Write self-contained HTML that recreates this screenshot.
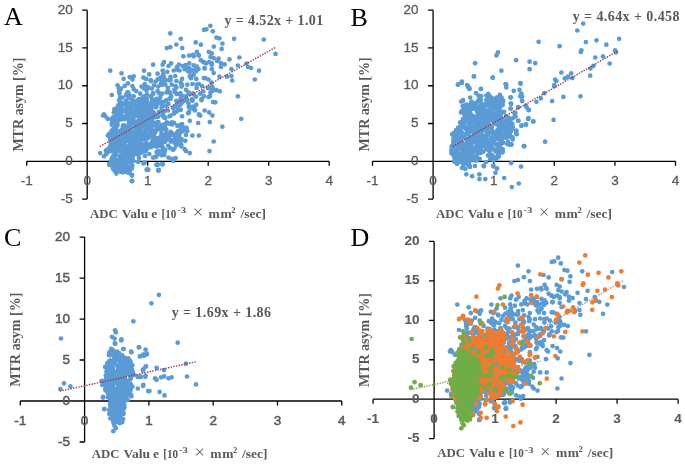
<!DOCTYPE html>
<html><head><meta charset="utf-8"><style>
html,body{margin:0;padding:0;background:#fff;}
svg{display:block;filter:blur(0.3px);}
.t{font-family:"Liberation Sans",sans-serif;font-size:13.5px;fill:#595959;stroke:#595959;stroke-width:0.3px;}
.tb{font-weight:bold;stroke-width:0.1px;}
.tc{stroke-width:0.5px;}
.s{font-family:"Liberation Serif",serif;font-weight:bold;font-size:13px;fill:#595959;}
.xs{font-size:13.5px;}
.L{font-family:"Liberation Serif",serif;font-size:26px;fill:#000;}
</style></head><body>
<svg width="685" height="465" viewBox="0 0 685 465">
<path d="M26.70,161.30H329.20M87.20,10.18V199.08M26.70,161.30v4.5M87.20,161.30v4.5M147.70,161.30v4.5M208.20,161.30v4.5M268.70,161.30v4.5M329.20,161.30v4.5M87.20,199.08h-5M87.20,161.30h-5M87.20,123.52h-5M87.20,85.74h-5M87.20,47.96h-5M87.20,10.18h-5" stroke="#000" stroke-width="1.3" fill="none"/>
<text x="26.7" y="184.8" class="t" text-anchor="middle">-1</text>
<text x="87.2" y="184.8" class="t" text-anchor="middle">0</text>
<text x="147.7" y="184.8" class="t" text-anchor="middle">1</text>
<text x="208.2" y="184.8" class="t" text-anchor="middle">2</text>
<text x="268.7" y="184.8" class="t" text-anchor="middle">3</text>
<text x="329.2" y="184.8" class="t" text-anchor="middle">4</text>
<text x="72.7" y="202.7" class="t" text-anchor="end">-5</text>
<text x="72.7" y="164.9" class="t" text-anchor="end">0</text>
<text x="72.7" y="127.1" class="t" text-anchor="end">5</text>
<text x="72.7" y="89.3" class="t" text-anchor="end">10</text>
<text x="72.7" y="51.6" class="t" text-anchor="end">15</text>
<text x="72.7" y="13.8" class="t" text-anchor="end">20</text>
<path d="M372.50,161.30H675.50M433.10,10.18V199.08M372.50,161.30v4.5M433.10,161.30v4.5M493.70,161.30v4.5M554.30,161.30v4.5M614.90,161.30v4.5M675.50,161.30v4.5M433.10,199.08h-5M433.10,161.30h-5M433.10,123.52h-5M433.10,85.74h-5M433.10,47.96h-5M433.10,10.18h-5" stroke="#000" stroke-width="1.3" fill="none"/>
<text x="372.5" y="184.8" class="t" text-anchor="middle">-1</text>
<text x="433.1" y="184.8" class="t" text-anchor="middle">0</text>
<text x="493.7" y="184.8" class="t" text-anchor="middle">1</text>
<text x="554.3" y="184.8" class="t" text-anchor="middle">2</text>
<text x="614.9" y="184.8" class="t" text-anchor="middle">3</text>
<text x="675.5" y="184.8" class="t" text-anchor="middle">4</text>
<text x="418.6" y="202.7" class="t" text-anchor="end">-5</text>
<text x="418.6" y="164.9" class="t" text-anchor="end">0</text>
<text x="418.6" y="127.1" class="t" text-anchor="end">5</text>
<text x="418.6" y="89.3" class="t" text-anchor="end">10</text>
<text x="418.6" y="51.6" class="t" text-anchor="end">15</text>
<text x="418.6" y="13.8" class="t" text-anchor="end">20</text>
<path d="M20.30,401.00H341.80M84.60,237.08V441.98M20.30,401.00v4.5M84.60,401.00v4.5M148.90,401.00v4.5M213.20,401.00v4.5M277.50,401.00v4.5M341.80,401.00v4.5M84.60,441.98h-5M84.60,401.00h-5M84.60,360.02h-5M84.60,319.04h-5M84.60,278.06h-5M84.60,237.08h-5" stroke="#000" stroke-width="1.3" fill="none"/>
<text x="20.3" y="424.5" class="t tc" text-anchor="middle">-1</text>
<text x="84.6" y="424.5" class="t tc" text-anchor="middle">0</text>
<text x="148.9" y="424.5" class="t tc" text-anchor="middle">1</text>
<text x="213.2" y="424.5" class="t tc" text-anchor="middle">2</text>
<text x="277.5" y="424.5" class="t tc" text-anchor="middle">3</text>
<text x="341.8" y="424.5" class="t tc" text-anchor="middle">4</text>
<text x="70.1" y="445.6" class="t tc" text-anchor="end">-5</text>
<text x="70.1" y="404.6" class="t tc" text-anchor="end">0</text>
<text x="70.1" y="363.6" class="t tc" text-anchor="end">5</text>
<text x="70.1" y="322.6" class="t tc" text-anchor="end">10</text>
<text x="70.1" y="281.7" class="t tc" text-anchor="end">15</text>
<text x="70.1" y="240.7" class="t tc" text-anchor="end">20</text>
<path d="M373.10,399.20H678.10M434.10,241.36V438.66M373.10,399.20v4.5M434.10,399.20v4.5M495.10,399.20v4.5M556.10,399.20v4.5M617.10,399.20v4.5M678.10,399.20v4.5M434.10,438.66h-5M434.10,399.20h-5M434.10,359.74h-5M434.10,320.28h-5M434.10,280.82h-5M434.10,241.36h-5" stroke="#000" stroke-width="1.3" fill="none"/>
<text x="373.1" y="422.7" class="t tb" text-anchor="middle">-1</text>
<text x="434.1" y="422.7" class="t tb" text-anchor="middle">0</text>
<text x="495.1" y="422.7" class="t tb" text-anchor="middle">1</text>
<text x="556.1" y="422.7" class="t tb" text-anchor="middle">2</text>
<text x="617.1" y="422.7" class="t tb" text-anchor="middle">3</text>
<text x="678.1" y="422.7" class="t tb" text-anchor="middle">4</text>
<text x="419.6" y="442.3" class="t tb" text-anchor="end">-5</text>
<text x="419.6" y="402.8" class="t tb" text-anchor="end">0</text>
<text x="419.6" y="363.3" class="t tb" text-anchor="end">5</text>
<text x="419.6" y="323.9" class="t tb" text-anchor="end">10</text>
<text x="419.6" y="284.4" class="t tb" text-anchor="end">15</text>
<text x="419.6" y="245.0" class="t tb" text-anchor="end">20</text>
<line x1="446.91" y1="383.74" x2="623.81" y2="280.29" stroke="#9A9A9A" stroke-width="1.4" stroke-dasharray="1.4 1.3"/>
<line x1="410.55" y1="389.67" x2="540.67" y2="361.22" stroke="#70AD47" stroke-width="1.4" stroke-dasharray="1.4 1.3"/>
<g fill="#5B9BD5"><circle cx="177.8" cy="102.1" r="2.35"/><circle cx="189.0" cy="111.8" r="2.35"/><circle cx="208.6" cy="97.0" r="2.35"/><circle cx="204.5" cy="68.1" r="2.35"/><circle cx="163.0" cy="75.3" r="2.35"/><circle cx="170.2" cy="93.0" r="2.35"/><circle cx="191.5" cy="70.6" r="2.35"/><circle cx="194.5" cy="69.5" r="2.35"/><circle cx="177.3" cy="68.8" r="2.35"/><circle cx="169.8" cy="98.6" r="2.35"/><circle cx="203.8" cy="78.1" r="2.35"/><circle cx="146.9" cy="94.6" r="2.35"/><circle cx="196.6" cy="88.0" r="2.35"/><circle cx="148.3" cy="88.0" r="2.35"/><circle cx="185.6" cy="65.1" r="2.35"/><circle cx="211.6" cy="63.2" r="2.35"/><circle cx="190.0" cy="107.6" r="2.35"/><circle cx="153.2" cy="93.2" r="2.35"/><circle cx="151.1" cy="81.2" r="2.35"/><circle cx="168.4" cy="103.9" r="2.35"/><circle cx="194.5" cy="108.4" r="2.35"/><circle cx="176.6" cy="111.6" r="2.35"/><circle cx="170.3" cy="78.9" r="2.35"/><circle cx="212.7" cy="90.8" r="2.35"/><circle cx="175.0" cy="106.6" r="2.35"/><circle cx="161.7" cy="84.8" r="2.35"/><circle cx="121.1" cy="88.7" r="2.35"/><circle cx="198.5" cy="69.1" r="2.35"/><circle cx="188.2" cy="113.3" r="2.35"/><circle cx="178.5" cy="104.6" r="2.35"/><circle cx="146.3" cy="86.5" r="2.35"/><circle cx="211.7" cy="86.5" r="2.35"/><circle cx="164.9" cy="101.4" r="2.35"/><circle cx="164.0" cy="77.7" r="2.35"/><circle cx="210.1" cy="95.9" r="2.35"/><circle cx="165.9" cy="80.3" r="2.35"/><circle cx="193.1" cy="108.8" r="2.35"/><circle cx="152.7" cy="104.4" r="2.35"/><circle cx="192.4" cy="99.5" r="2.35"/><circle cx="181.7" cy="103.0" r="2.35"/><circle cx="152.9" cy="100.0" r="2.35"/><circle cx="145.0" cy="88.2" r="2.35"/><circle cx="191.9" cy="99.3" r="2.35"/><circle cx="180.4" cy="93.4" r="2.35"/><circle cx="119.1" cy="91.5" r="2.35"/><circle cx="142.1" cy="98.3" r="2.35"/><circle cx="162.4" cy="106.1" r="2.35"/><circle cx="180.2" cy="105.1" r="2.35"/><circle cx="151.4" cy="96.8" r="2.35"/><circle cx="188.8" cy="106.7" r="2.35"/><circle cx="201.5" cy="99.2" r="2.35"/><circle cx="167.7" cy="90.6" r="2.35"/><circle cx="208.0" cy="87.8" r="2.35"/><circle cx="184.4" cy="100.9" r="2.35"/><circle cx="188.1" cy="71.3" r="2.35"/><circle cx="192.9" cy="93.4" r="2.35"/><circle cx="181.9" cy="84.7" r="2.35"/><circle cx="177.9" cy="103.8" r="2.35"/><circle cx="179.1" cy="100.9" r="2.35"/><circle cx="160.3" cy="97.1" r="2.35"/><circle cx="139.0" cy="99.0" r="2.35"/><circle cx="163.3" cy="74.2" r="2.35"/><circle cx="162.7" cy="82.5" r="2.35"/><circle cx="176.7" cy="93.9" r="2.35"/><circle cx="144.7" cy="84.1" r="2.35"/><circle cx="176.9" cy="67.1" r="2.35"/><circle cx="170.3" cy="80.3" r="2.35"/><circle cx="173.8" cy="113.7" r="2.35"/><circle cx="196.6" cy="84.6" r="2.35"/><circle cx="196.0" cy="96.7" r="2.35"/><circle cx="175.2" cy="92.4" r="2.35"/><circle cx="176.4" cy="81.0" r="2.35"/><circle cx="203.8" cy="62.1" r="2.35"/><circle cx="128.4" cy="92.6" r="2.35"/><circle cx="177.1" cy="69.6" r="2.35"/><circle cx="178.4" cy="110.1" r="2.35"/><circle cx="154.1" cy="85.3" r="2.35"/><circle cx="211.4" cy="82.5" r="2.35"/><circle cx="175.2" cy="76.0" r="2.35"/><circle cx="212.2" cy="88.8" r="2.35"/><circle cx="157.9" cy="79.2" r="2.35"/><circle cx="212.5" cy="88.6" r="2.35"/><circle cx="145.5" cy="87.8" r="2.35"/><circle cx="129.7" cy="95.6" r="2.35"/><circle cx="160.6" cy="77.8" r="2.35"/><circle cx="193.0" cy="106.6" r="2.35"/><circle cx="119.3" cy="90.8" r="2.35"/><circle cx="193.1" cy="75.3" r="2.35"/><circle cx="176.4" cy="87.6" r="2.35"/><circle cx="179.9" cy="94.6" r="2.35"/><circle cx="189.4" cy="68.4" r="2.35"/><circle cx="191.0" cy="78.2" r="2.35"/><circle cx="169.2" cy="80.2" r="2.35"/><circle cx="146.5" cy="90.6" r="2.35"/><circle cx="162.6" cy="81.5" r="2.35"/><circle cx="189.5" cy="93.9" r="2.35"/><circle cx="161.7" cy="111.5" r="2.35"/><circle cx="203.2" cy="91.5" r="2.35"/><circle cx="159.1" cy="93.1" r="2.35"/><circle cx="186.0" cy="96.1" r="2.35"/><circle cx="164.3" cy="111.2" r="2.35"/><circle cx="159.0" cy="151.1" r="2.35"/><circle cx="177.7" cy="125.9" r="2.35"/><circle cx="169.7" cy="134.1" r="2.35"/><circle cx="174.4" cy="148.6" r="2.35"/><circle cx="157.8" cy="116.2" r="2.35"/><circle cx="179.8" cy="133.4" r="2.35"/><circle cx="168.2" cy="145.7" r="2.35"/><circle cx="161.8" cy="155.3" r="2.35"/><circle cx="155.8" cy="138.1" r="2.35"/><circle cx="182.9" cy="131.2" r="2.35"/><circle cx="161.4" cy="133.0" r="2.35"/><circle cx="155.9" cy="124.4" r="2.35"/><circle cx="168.0" cy="136.1" r="2.35"/><circle cx="161.9" cy="124.8" r="2.35"/><circle cx="161.5" cy="134.6" r="2.35"/><circle cx="163.6" cy="115.9" r="2.35"/><circle cx="179.9" cy="138.7" r="2.35"/><circle cx="174.1" cy="122.9" r="2.35"/><circle cx="158.6" cy="129.2" r="2.35"/><circle cx="176.4" cy="145.3" r="2.35"/><circle cx="179.7" cy="143.6" r="2.35"/><circle cx="164.0" cy="140.0" r="2.35"/><circle cx="170.0" cy="140.1" r="2.35"/><circle cx="156.0" cy="125.3" r="2.35"/><circle cx="178.7" cy="132.6" r="2.35"/><circle cx="160.1" cy="138.4" r="2.35"/><circle cx="175.9" cy="143.7" r="2.35"/><circle cx="166.1" cy="133.7" r="2.35"/><circle cx="170.1" cy="148.2" r="2.35"/><circle cx="170.5" cy="131.8" r="2.35"/><circle cx="169.5" cy="116.3" r="2.35"/><circle cx="156.3" cy="145.0" r="2.35"/><circle cx="166.7" cy="122.3" r="2.35"/><circle cx="177.9" cy="138.0" r="2.35"/><circle cx="180.6" cy="124.9" r="2.35"/><circle cx="172.2" cy="134.6" r="2.35"/><circle cx="163.0" cy="138.3" r="2.35"/><circle cx="181.3" cy="146.5" r="2.35"/><circle cx="179.0" cy="137.1" r="2.35"/><circle cx="171.7" cy="133.2" r="2.35"/><circle cx="156.7" cy="152.1" r="2.35"/><circle cx="171.9" cy="123.5" r="2.35"/><circle cx="170.0" cy="135.7" r="2.35"/><circle cx="165.6" cy="129.7" r="2.35"/><circle cx="171.0" cy="141.6" r="2.35"/><circle cx="173.2" cy="134.5" r="2.35"/><circle cx="155.8" cy="124.8" r="2.35"/><circle cx="160.3" cy="139.9" r="2.35"/><circle cx="162.6" cy="150.9" r="2.35"/><circle cx="155.5" cy="115.6" r="2.35"/><circle cx="177.4" cy="125.6" r="2.35"/><circle cx="158.3" cy="141.6" r="2.35"/><circle cx="165.2" cy="118.0" r="2.35"/><circle cx="159.7" cy="137.5" r="2.35"/><circle cx="160.0" cy="126.6" r="2.35"/><circle cx="176.1" cy="134.4" r="2.35"/><circle cx="164.6" cy="135.2" r="2.35"/><circle cx="155.7" cy="131.5" r="2.35"/><circle cx="167.5" cy="123.0" r="2.35"/><circle cx="158.2" cy="153.3" r="2.35"/><circle cx="170.2" cy="123.9" r="2.35"/><circle cx="173.0" cy="149.8" r="2.35"/><circle cx="155.6" cy="115.8" r="2.35"/><circle cx="159.3" cy="145.6" r="2.35"/><circle cx="159.8" cy="145.0" r="2.35"/><circle cx="175.1" cy="138.2" r="2.35"/><circle cx="178.7" cy="137.0" r="2.35"/><circle cx="161.6" cy="142.6" r="2.35"/><circle cx="166.7" cy="139.5" r="2.35"/><circle cx="164.5" cy="141.9" r="2.35"/><circle cx="156.7" cy="127.7" r="2.35"/><circle cx="164.1" cy="151.6" r="2.35"/><circle cx="164.2" cy="155.0" r="2.35"/><circle cx="177.1" cy="132.7" r="2.35"/><circle cx="162.5" cy="115.4" r="2.35"/><circle cx="171.9" cy="122.3" r="2.35"/><circle cx="175.9" cy="136.7" r="2.35"/><circle cx="166.2" cy="129.8" r="2.35"/><circle cx="161.1" cy="143.7" r="2.35"/><circle cx="167.9" cy="123.3" r="2.35"/><circle cx="158.1" cy="143.4" r="2.35"/><circle cx="163.8" cy="136.3" r="2.35"/><circle cx="164.7" cy="152.1" r="2.35"/><circle cx="161.0" cy="129.0" r="2.35"/><circle cx="165.1" cy="124.1" r="2.35"/><circle cx="182.7" cy="129.6" r="2.35"/><circle cx="181.2" cy="144.3" r="2.35"/><circle cx="162.0" cy="145.9" r="2.35"/><circle cx="157.5" cy="122.2" r="2.35"/><circle cx="182.1" cy="124.1" r="2.35"/><circle cx="177.5" cy="140.6" r="2.35"/><circle cx="180.0" cy="130.7" r="2.35"/><circle cx="165.1" cy="127.4" r="2.35"/><circle cx="180.8" cy="140.7" r="2.35"/><circle cx="159.0" cy="138.5" r="2.35"/><circle cx="158.1" cy="116.7" r="2.35"/><circle cx="157.2" cy="151.9" r="2.35"/><circle cx="165.1" cy="141.2" r="2.35"/><circle cx="178.2" cy="131.1" r="2.35"/><circle cx="172.0" cy="124.5" r="2.35"/><circle cx="157.4" cy="126.4" r="2.35"/><circle cx="181.5" cy="139.0" r="2.35"/><circle cx="163.2" cy="148.5" r="2.35"/><circle cx="158.4" cy="152.7" r="2.35"/><circle cx="156.2" cy="125.2" r="2.35"/><circle cx="158.4" cy="122.1" r="2.35"/><circle cx="162.2" cy="146.7" r="2.35"/><circle cx="158.1" cy="153.8" r="2.35"/><circle cx="182.0" cy="127.5" r="2.35"/><circle cx="162.5" cy="135.3" r="2.35"/><circle cx="158.0" cy="142.8" r="2.35"/><circle cx="156.2" cy="115.4" r="2.35"/><circle cx="184.2" cy="127.6" r="2.35"/><circle cx="172.7" cy="134.2" r="2.35"/><circle cx="164.3" cy="117.7" r="2.35"/><circle cx="161.4" cy="141.3" r="2.35"/><circle cx="175.4" cy="143.2" r="2.35"/><circle cx="162.7" cy="138.1" r="2.35"/><circle cx="164.1" cy="125.5" r="2.35"/><circle cx="157.4" cy="127.0" r="2.35"/><circle cx="174.4" cy="142.4" r="2.35"/><circle cx="164.1" cy="128.9" r="2.35"/><circle cx="164.4" cy="151.1" r="2.35"/><circle cx="181.5" cy="127.9" r="2.35"/><circle cx="164.9" cy="138.2" r="2.35"/><circle cx="172.2" cy="140.4" r="2.35"/><circle cx="140.5" cy="121.4" r="2.35"/><circle cx="137.1" cy="144.5" r="2.35"/><circle cx="135.8" cy="109.8" r="2.35"/><circle cx="127.8" cy="128.0" r="2.35"/><circle cx="155.3" cy="139.7" r="2.35"/><circle cx="119.1" cy="100.3" r="2.35"/><circle cx="129.6" cy="122.2" r="2.35"/><circle cx="125.1" cy="166.6" r="2.35"/><circle cx="132.8" cy="140.9" r="2.35"/><circle cx="112.2" cy="137.0" r="2.35"/><circle cx="114.6" cy="166.8" r="2.35"/><circle cx="146.8" cy="124.9" r="2.35"/><circle cx="113.5" cy="155.9" r="2.35"/><circle cx="142.9" cy="133.3" r="2.35"/><circle cx="133.1" cy="135.5" r="2.35"/><circle cx="154.0" cy="136.3" r="2.35"/><circle cx="149.1" cy="124.9" r="2.35"/><circle cx="129.4" cy="141.5" r="2.35"/><circle cx="130.7" cy="114.7" r="2.35"/><circle cx="122.1" cy="151.7" r="2.35"/><circle cx="113.7" cy="167.9" r="2.35"/><circle cx="119.1" cy="168.1" r="2.35"/><circle cx="121.3" cy="171.7" r="2.35"/><circle cx="142.4" cy="136.6" r="2.35"/><circle cx="132.4" cy="148.0" r="2.35"/><circle cx="136.1" cy="121.7" r="2.35"/><circle cx="115.9" cy="137.2" r="2.35"/><circle cx="154.5" cy="145.8" r="2.35"/><circle cx="153.1" cy="112.3" r="2.35"/><circle cx="144.4" cy="102.1" r="2.35"/><circle cx="139.6" cy="118.7" r="2.35"/><circle cx="116.9" cy="165.4" r="2.35"/><circle cx="117.9" cy="113.8" r="2.35"/><circle cx="151.7" cy="130.3" r="2.35"/><circle cx="143.0" cy="100.0" r="2.35"/><circle cx="114.0" cy="149.6" r="2.35"/><circle cx="106.2" cy="154.0" r="2.35"/><circle cx="118.5" cy="160.5" r="2.35"/><circle cx="123.2" cy="145.2" r="2.35"/><circle cx="144.3" cy="106.3" r="2.35"/><circle cx="130.0" cy="115.0" r="2.35"/><circle cx="140.0" cy="122.0" r="2.35"/><circle cx="111.7" cy="142.8" r="2.35"/><circle cx="125.8" cy="137.4" r="2.35"/><circle cx="137.1" cy="130.0" r="2.35"/><circle cx="110.0" cy="146.7" r="2.35"/><circle cx="118.2" cy="143.3" r="2.35"/><circle cx="142.6" cy="117.4" r="2.35"/><circle cx="127.4" cy="138.3" r="2.35"/><circle cx="126.6" cy="106.1" r="2.35"/><circle cx="143.3" cy="116.2" r="2.35"/><circle cx="117.2" cy="114.3" r="2.35"/><circle cx="132.6" cy="133.5" r="2.35"/><circle cx="121.3" cy="147.2" r="2.35"/><circle cx="116.2" cy="167.8" r="2.35"/><circle cx="127.9" cy="137.1" r="2.35"/><circle cx="135.8" cy="101.5" r="2.35"/><circle cx="127.1" cy="138.2" r="2.35"/><circle cx="147.5" cy="125.9" r="2.35"/><circle cx="105.9" cy="150.6" r="2.35"/><circle cx="121.1" cy="162.6" r="2.35"/><circle cx="126.7" cy="135.2" r="2.35"/><circle cx="116.0" cy="143.1" r="2.35"/><circle cx="154.6" cy="103.4" r="2.35"/><circle cx="145.0" cy="112.4" r="2.35"/><circle cx="135.2" cy="127.9" r="2.35"/><circle cx="129.5" cy="155.9" r="2.35"/><circle cx="125.9" cy="106.9" r="2.35"/><circle cx="150.0" cy="147.2" r="2.35"/><circle cx="143.3" cy="136.1" r="2.35"/><circle cx="123.9" cy="132.9" r="2.35"/><circle cx="147.3" cy="118.3" r="2.35"/><circle cx="132.8" cy="134.5" r="2.35"/><circle cx="120.7" cy="115.5" r="2.35"/><circle cx="130.9" cy="117.6" r="2.35"/><circle cx="127.6" cy="150.1" r="2.35"/><circle cx="153.7" cy="142.9" r="2.35"/><circle cx="148.3" cy="104.9" r="2.35"/><circle cx="127.0" cy="102.7" r="2.35"/><circle cx="139.3" cy="107.5" r="2.35"/><circle cx="120.6" cy="115.5" r="2.35"/><circle cx="140.5" cy="150.3" r="2.35"/><circle cx="128.2" cy="138.1" r="2.35"/><circle cx="110.9" cy="139.4" r="2.35"/><circle cx="118.6" cy="166.9" r="2.35"/><circle cx="129.4" cy="152.0" r="2.35"/><circle cx="135.3" cy="108.7" r="2.35"/><circle cx="151.7" cy="111.5" r="2.35"/><circle cx="132.0" cy="134.9" r="2.35"/><circle cx="126.4" cy="152.6" r="2.35"/><circle cx="144.5" cy="148.5" r="2.35"/><circle cx="116.8" cy="145.6" r="2.35"/><circle cx="126.3" cy="149.2" r="2.35"/><circle cx="156.8" cy="146.7" r="2.35"/><circle cx="129.6" cy="152.6" r="2.35"/><circle cx="143.6" cy="144.5" r="2.35"/><circle cx="115.5" cy="155.2" r="2.35"/><circle cx="136.0" cy="112.3" r="2.35"/><circle cx="147.6" cy="108.2" r="2.35"/><circle cx="137.4" cy="131.2" r="2.35"/><circle cx="118.4" cy="141.4" r="2.35"/><circle cx="129.7" cy="113.4" r="2.35"/><circle cx="156.2" cy="103.1" r="2.35"/><circle cx="130.7" cy="162.4" r="2.35"/><circle cx="130.7" cy="149.8" r="2.35"/><circle cx="122.7" cy="118.2" r="2.35"/><circle cx="131.6" cy="99.6" r="2.35"/><circle cx="144.9" cy="111.0" r="2.35"/><circle cx="126.4" cy="149.8" r="2.35"/><circle cx="125.2" cy="133.5" r="2.35"/><circle cx="124.4" cy="139.2" r="2.35"/><circle cx="125.2" cy="131.8" r="2.35"/><circle cx="151.1" cy="121.4" r="2.35"/><circle cx="139.4" cy="135.0" r="2.35"/><circle cx="139.6" cy="128.0" r="2.35"/><circle cx="149.5" cy="104.7" r="2.35"/><circle cx="138.5" cy="127.8" r="2.35"/><circle cx="138.3" cy="121.4" r="2.35"/><circle cx="117.3" cy="133.0" r="2.35"/><circle cx="117.2" cy="119.0" r="2.35"/><circle cx="125.0" cy="125.8" r="2.35"/><circle cx="121.8" cy="103.5" r="2.35"/><circle cx="129.2" cy="110.4" r="2.35"/><circle cx="128.4" cy="120.1" r="2.35"/><circle cx="128.4" cy="147.1" r="2.35"/><circle cx="154.3" cy="122.8" r="2.35"/><circle cx="140.9" cy="126.5" r="2.35"/><circle cx="123.8" cy="159.1" r="2.35"/><circle cx="117.3" cy="160.2" r="2.35"/><circle cx="138.5" cy="128.5" r="2.35"/><circle cx="148.6" cy="124.0" r="2.35"/><circle cx="131.6" cy="151.0" r="2.35"/><circle cx="140.5" cy="126.0" r="2.35"/><circle cx="125.9" cy="111.0" r="2.35"/><circle cx="155.8" cy="124.9" r="2.35"/><circle cx="152.3" cy="111.9" r="2.35"/><circle cx="155.9" cy="107.3" r="2.35"/><circle cx="123.5" cy="125.3" r="2.35"/><circle cx="145.3" cy="131.3" r="2.35"/><circle cx="133.7" cy="115.8" r="2.35"/><circle cx="149.2" cy="127.7" r="2.35"/><circle cx="120.0" cy="146.9" r="2.35"/><circle cx="112.9" cy="122.0" r="2.35"/><circle cx="154.1" cy="104.9" r="2.35"/><circle cx="127.2" cy="116.9" r="2.35"/><circle cx="123.1" cy="116.6" r="2.35"/><circle cx="117.6" cy="144.8" r="2.35"/><circle cx="122.8" cy="126.4" r="2.35"/><circle cx="145.7" cy="102.3" r="2.35"/><circle cx="112.5" cy="163.4" r="2.35"/><circle cx="127.7" cy="157.9" r="2.35"/><circle cx="112.0" cy="138.0" r="2.35"/><circle cx="149.8" cy="123.7" r="2.35"/><circle cx="145.7" cy="144.8" r="2.35"/><circle cx="130.1" cy="145.5" r="2.35"/><circle cx="121.7" cy="162.4" r="2.35"/><circle cx="136.6" cy="143.1" r="2.35"/><circle cx="129.0" cy="129.4" r="2.35"/><circle cx="132.8" cy="101.1" r="2.35"/><circle cx="153.5" cy="103.5" r="2.35"/><circle cx="121.1" cy="159.3" r="2.35"/><circle cx="123.5" cy="110.9" r="2.35"/><circle cx="112.7" cy="149.4" r="2.35"/><circle cx="139.4" cy="101.4" r="2.35"/><circle cx="152.6" cy="116.2" r="2.35"/><circle cx="130.5" cy="140.8" r="2.35"/><circle cx="112.3" cy="136.4" r="2.35"/><circle cx="132.7" cy="150.3" r="2.35"/><circle cx="151.4" cy="108.3" r="2.35"/><circle cx="131.0" cy="107.7" r="2.35"/><circle cx="116.3" cy="126.9" r="2.35"/><circle cx="131.8" cy="168.6" r="2.35"/><circle cx="116.1" cy="126.7" r="2.35"/><circle cx="120.7" cy="130.9" r="2.35"/><circle cx="127.6" cy="128.4" r="2.35"/><circle cx="134.8" cy="134.1" r="2.35"/><circle cx="120.0" cy="156.8" r="2.35"/><circle cx="142.0" cy="148.5" r="2.35"/><circle cx="115.2" cy="142.4" r="2.35"/><circle cx="139.2" cy="146.0" r="2.35"/><circle cx="136.7" cy="100.5" r="2.35"/><circle cx="110.7" cy="146.8" r="2.35"/><circle cx="133.8" cy="112.0" r="2.35"/><circle cx="152.7" cy="133.5" r="2.35"/><circle cx="120.4" cy="113.7" r="2.35"/><circle cx="152.8" cy="141.6" r="2.35"/><circle cx="126.8" cy="129.7" r="2.35"/><circle cx="143.2" cy="132.8" r="2.35"/><circle cx="139.9" cy="107.0" r="2.35"/><circle cx="142.2" cy="118.6" r="2.35"/><circle cx="153.2" cy="114.1" r="2.35"/><circle cx="122.6" cy="139.2" r="2.35"/><circle cx="125.7" cy="138.2" r="2.35"/><circle cx="154.0" cy="113.1" r="2.35"/><circle cx="128.7" cy="132.7" r="2.35"/><circle cx="123.3" cy="134.2" r="2.35"/><circle cx="118.4" cy="112.3" r="2.35"/><circle cx="130.2" cy="112.4" r="2.35"/><circle cx="129.8" cy="141.9" r="2.35"/><circle cx="121.3" cy="110.7" r="2.35"/><circle cx="116.7" cy="145.2" r="2.35"/><circle cx="141.1" cy="121.4" r="2.35"/><circle cx="115.9" cy="162.4" r="2.35"/><circle cx="115.4" cy="121.8" r="2.35"/><circle cx="121.8" cy="117.3" r="2.35"/><circle cx="143.4" cy="124.1" r="2.35"/><circle cx="128.3" cy="130.0" r="2.35"/><circle cx="137.1" cy="126.6" r="2.35"/><circle cx="139.2" cy="135.9" r="2.35"/><circle cx="112.9" cy="120.7" r="2.35"/><circle cx="115.7" cy="152.0" r="2.35"/><circle cx="151.3" cy="143.3" r="2.35"/><circle cx="142.2" cy="138.1" r="2.35"/><circle cx="117.4" cy="114.0" r="2.35"/><circle cx="108.2" cy="149.1" r="2.35"/><circle cx="137.9" cy="127.8" r="2.35"/><circle cx="128.1" cy="172.7" r="2.35"/><circle cx="130.1" cy="126.9" r="2.35"/><circle cx="116.3" cy="114.9" r="2.35"/><circle cx="133.2" cy="160.8" r="2.35"/><circle cx="107.8" cy="152.3" r="2.35"/><circle cx="132.2" cy="105.3" r="2.35"/><circle cx="132.0" cy="137.8" r="2.35"/><circle cx="146.4" cy="142.5" r="2.35"/><circle cx="112.4" cy="122.4" r="2.35"/><circle cx="137.6" cy="147.6" r="2.35"/><circle cx="155.0" cy="105.4" r="2.35"/><circle cx="134.5" cy="104.2" r="2.35"/><circle cx="140.5" cy="131.4" r="2.35"/><circle cx="112.3" cy="121.6" r="2.35"/><circle cx="130.0" cy="170.7" r="2.35"/><circle cx="123.0" cy="169.0" r="2.35"/><circle cx="137.1" cy="105.8" r="2.35"/><circle cx="146.5" cy="125.7" r="2.35"/><circle cx="152.5" cy="137.0" r="2.35"/><circle cx="150.7" cy="103.4" r="2.35"/><circle cx="133.6" cy="144.7" r="2.35"/><circle cx="128.0" cy="130.0" r="2.35"/><circle cx="146.9" cy="110.1" r="2.35"/><circle cx="140.6" cy="120.3" r="2.35"/><circle cx="152.9" cy="100.6" r="2.35"/><circle cx="126.3" cy="168.0" r="2.35"/><circle cx="110.8" cy="143.8" r="2.35"/><circle cx="117.3" cy="112.2" r="2.35"/><circle cx="131.5" cy="119.3" r="2.35"/><circle cx="139.5" cy="101.6" r="2.35"/><circle cx="132.4" cy="138.4" r="2.35"/><circle cx="126.3" cy="168.4" r="2.35"/><circle cx="111.6" cy="130.6" r="2.35"/><circle cx="132.3" cy="131.6" r="2.35"/><circle cx="128.1" cy="171.2" r="2.35"/><circle cx="147.3" cy="147.7" r="2.35"/><circle cx="113.5" cy="143.6" r="2.35"/><circle cx="111.7" cy="124.7" r="2.35"/><circle cx="138.8" cy="141.7" r="2.35"/><circle cx="118.2" cy="131.8" r="2.35"/><circle cx="129.6" cy="130.3" r="2.35"/><circle cx="119.2" cy="114.5" r="2.35"/><circle cx="148.5" cy="145.7" r="2.35"/><circle cx="134.0" cy="141.6" r="2.35"/><circle cx="141.3" cy="116.7" r="2.35"/><circle cx="142.7" cy="125.8" r="2.35"/><circle cx="149.9" cy="133.3" r="2.35"/><circle cx="140.1" cy="140.6" r="2.35"/><circle cx="133.3" cy="133.2" r="2.35"/><circle cx="127.2" cy="136.7" r="2.35"/><circle cx="111.1" cy="143.8" r="2.35"/><circle cx="125.6" cy="145.3" r="2.35"/><circle cx="145.6" cy="151.4" r="2.35"/><circle cx="147.3" cy="124.5" r="2.35"/><circle cx="112.7" cy="149.0" r="2.35"/><circle cx="139.4" cy="129.2" r="2.35"/><circle cx="147.8" cy="129.0" r="2.35"/><circle cx="153.3" cy="141.7" r="2.35"/><circle cx="126.4" cy="147.6" r="2.35"/><circle cx="140.5" cy="149.2" r="2.35"/><circle cx="126.2" cy="100.6" r="2.35"/><circle cx="124.1" cy="144.4" r="2.35"/><circle cx="143.8" cy="111.3" r="2.35"/><circle cx="149.2" cy="122.7" r="2.35"/><circle cx="153.7" cy="132.0" r="2.35"/><circle cx="142.8" cy="101.5" r="2.35"/><circle cx="122.4" cy="134.6" r="2.35"/><circle cx="151.4" cy="147.0" r="2.35"/><circle cx="135.4" cy="114.8" r="2.35"/><circle cx="137.4" cy="110.4" r="2.35"/><circle cx="121.0" cy="161.8" r="2.35"/><circle cx="135.1" cy="153.8" r="2.35"/><circle cx="129.6" cy="119.2" r="2.35"/><circle cx="131.6" cy="141.9" r="2.35"/><circle cx="117.7" cy="163.0" r="2.35"/><circle cx="116.8" cy="142.9" r="2.35"/><circle cx="117.5" cy="164.4" r="2.35"/><circle cx="136.1" cy="137.1" r="2.35"/><circle cx="113.5" cy="128.9" r="2.35"/><circle cx="124.1" cy="111.4" r="2.35"/><circle cx="115.4" cy="151.8" r="2.35"/><circle cx="146.3" cy="112.8" r="2.35"/><circle cx="114.7" cy="128.1" r="2.35"/><circle cx="121.1" cy="141.8" r="2.35"/><circle cx="130.0" cy="106.9" r="2.35"/><circle cx="151.6" cy="132.7" r="2.35"/><circle cx="155.9" cy="102.4" r="2.35"/><circle cx="130.6" cy="103.3" r="2.35"/><circle cx="147.8" cy="138.3" r="2.35"/><circle cx="147.3" cy="119.7" r="2.35"/><circle cx="116.0" cy="129.8" r="2.35"/><circle cx="111.6" cy="143.0" r="2.35"/><circle cx="129.5" cy="112.9" r="2.35"/><circle cx="146.5" cy="109.4" r="2.35"/><circle cx="117.0" cy="145.4" r="2.35"/><circle cx="113.2" cy="169.0" r="2.35"/><circle cx="146.1" cy="136.6" r="2.35"/><circle cx="155.5" cy="145.1" r="2.35"/><circle cx="115.3" cy="140.4" r="2.35"/><circle cx="144.9" cy="108.1" r="2.35"/><circle cx="140.8" cy="134.7" r="2.35"/><circle cx="120.6" cy="102.4" r="2.35"/><circle cx="111.0" cy="161.1" r="2.35"/><circle cx="123.6" cy="163.1" r="2.35"/><circle cx="113.2" cy="120.8" r="2.35"/><circle cx="133.3" cy="104.4" r="2.35"/><circle cx="154.3" cy="141.8" r="2.35"/><circle cx="146.3" cy="115.3" r="2.35"/><circle cx="122.7" cy="104.5" r="2.35"/><circle cx="114.8" cy="131.4" r="2.35"/><circle cx="126.7" cy="148.4" r="2.35"/><circle cx="149.2" cy="123.4" r="2.35"/><circle cx="107.2" cy="150.6" r="2.35"/><circle cx="127.3" cy="156.8" r="2.35"/><circle cx="116.7" cy="118.3" r="2.35"/><circle cx="114.3" cy="148.8" r="2.35"/><circle cx="137.9" cy="152.5" r="2.35"/><circle cx="133.4" cy="121.8" r="2.35"/><circle cx="131.6" cy="115.9" r="2.35"/><circle cx="129.1" cy="129.0" r="2.35"/><circle cx="125.8" cy="141.2" r="2.35"/><circle cx="144.6" cy="117.6" r="2.35"/><circle cx="134.4" cy="123.7" r="2.35"/><circle cx="116.9" cy="108.3" r="2.35"/><circle cx="149.0" cy="110.8" r="2.35"/><circle cx="120.9" cy="130.5" r="2.35"/><circle cx="147.1" cy="127.0" r="2.35"/><circle cx="121.6" cy="109.5" r="2.35"/><circle cx="119.2" cy="118.1" r="2.35"/><circle cx="118.5" cy="115.5" r="2.35"/><circle cx="132.4" cy="160.5" r="2.35"/><circle cx="127.0" cy="135.0" r="2.35"/><circle cx="120.5" cy="142.2" r="2.35"/><circle cx="132.9" cy="142.0" r="2.35"/><circle cx="122.0" cy="103.1" r="2.35"/><circle cx="152.0" cy="133.2" r="2.35"/><circle cx="129.9" cy="147.0" r="2.35"/><circle cx="131.9" cy="166.6" r="2.35"/><circle cx="132.3" cy="154.6" r="2.35"/><circle cx="141.0" cy="114.6" r="2.35"/><circle cx="146.7" cy="100.8" r="2.35"/><circle cx="152.6" cy="139.8" r="2.35"/><circle cx="154.5" cy="142.0" r="2.35"/><circle cx="148.7" cy="136.4" r="2.35"/><circle cx="118.4" cy="119.1" r="2.35"/><circle cx="126.2" cy="168.0" r="2.35"/><circle cx="115.3" cy="122.6" r="2.35"/><circle cx="120.4" cy="171.7" r="2.35"/><circle cx="139.2" cy="133.7" r="2.35"/><circle cx="127.1" cy="115.0" r="2.35"/><circle cx="125.2" cy="150.3" r="2.35"/><circle cx="112.1" cy="151.3" r="2.35"/><circle cx="120.7" cy="148.4" r="2.35"/><circle cx="114.1" cy="158.7" r="2.35"/><circle cx="127.2" cy="162.0" r="2.35"/><circle cx="156.3" cy="142.5" r="2.35"/><circle cx="145.2" cy="134.4" r="2.35"/><circle cx="137.4" cy="143.2" r="2.35"/><circle cx="115.8" cy="153.4" r="2.35"/><circle cx="152.0" cy="99.9" r="2.35"/><circle cx="110.5" cy="149.0" r="2.35"/><circle cx="140.5" cy="148.4" r="2.35"/><circle cx="126.8" cy="115.8" r="2.35"/><circle cx="142.9" cy="139.6" r="2.35"/><circle cx="117.6" cy="116.3" r="2.35"/><circle cx="116.4" cy="149.3" r="2.35"/><circle cx="141.0" cy="111.1" r="2.35"/><circle cx="119.8" cy="151.1" r="2.35"/><circle cx="151.4" cy="113.4" r="2.35"/><circle cx="111.9" cy="158.6" r="2.35"/><circle cx="118.1" cy="105.7" r="2.35"/><circle cx="131.0" cy="112.0" r="2.35"/><circle cx="116.2" cy="119.5" r="2.35"/><circle cx="139.6" cy="120.1" r="2.35"/><circle cx="109.7" cy="134.3" r="2.35"/><circle cx="139.8" cy="144.6" r="2.35"/><circle cx="123.7" cy="172.2" r="2.35"/><circle cx="110.2" cy="139.0" r="2.35"/><circle cx="117.3" cy="145.9" r="2.35"/><circle cx="111.9" cy="133.3" r="2.35"/><circle cx="137.1" cy="134.7" r="2.35"/><circle cx="139.5" cy="131.1" r="2.35"/><circle cx="115.6" cy="123.7" r="2.35"/><circle cx="121.3" cy="108.2" r="2.35"/><circle cx="136.2" cy="134.0" r="2.35"/><circle cx="153.4" cy="101.0" r="2.35"/><circle cx="115.9" cy="162.5" r="2.35"/><circle cx="110.8" cy="141.2" r="2.35"/><circle cx="136.4" cy="146.1" r="2.35"/><circle cx="144.4" cy="110.9" r="2.35"/><circle cx="148.9" cy="103.8" r="2.35"/><circle cx="142.8" cy="137.8" r="2.35"/><circle cx="133.4" cy="118.3" r="2.35"/><circle cx="145.8" cy="120.9" r="2.35"/><circle cx="144.0" cy="104.2" r="2.35"/><circle cx="141.0" cy="99.9" r="2.35"/><circle cx="110.4" cy="148.1" r="2.35"/><circle cx="122.5" cy="103.1" r="2.35"/><circle cx="152.3" cy="119.1" r="2.35"/><circle cx="113.8" cy="112.5" r="2.35"/><circle cx="151.3" cy="126.7" r="2.35"/><circle cx="136.1" cy="114.9" r="2.35"/><circle cx="150.4" cy="131.8" r="2.35"/><circle cx="130.7" cy="148.3" r="2.35"/><circle cx="121.8" cy="160.5" r="2.35"/><circle cx="129.3" cy="130.8" r="2.35"/><circle cx="143.4" cy="149.2" r="2.35"/><circle cx="147.9" cy="129.1" r="2.35"/><circle cx="126.3" cy="106.7" r="2.35"/><circle cx="120.2" cy="155.6" r="2.35"/><circle cx="148.8" cy="110.3" r="2.35"/><circle cx="144.8" cy="118.9" r="2.35"/><circle cx="142.1" cy="127.7" r="2.35"/><circle cx="127.9" cy="154.1" r="2.35"/><circle cx="140.8" cy="108.0" r="2.35"/><circle cx="138.9" cy="102.1" r="2.35"/><circle cx="115.9" cy="161.4" r="2.35"/><circle cx="153.4" cy="117.2" r="2.35"/><circle cx="145.5" cy="111.6" r="2.35"/><circle cx="131.3" cy="124.5" r="2.35"/><circle cx="150.1" cy="105.5" r="2.35"/><circle cx="116.0" cy="118.1" r="2.35"/><circle cx="116.3" cy="134.9" r="2.35"/><circle cx="132.7" cy="135.5" r="2.35"/><circle cx="132.9" cy="147.9" r="2.35"/><circle cx="133.1" cy="161.1" r="2.35"/><circle cx="129.4" cy="161.9" r="2.35"/><circle cx="112.6" cy="139.8" r="2.35"/><circle cx="122.6" cy="158.2" r="2.35"/><circle cx="137.4" cy="144.6" r="2.35"/><circle cx="138.2" cy="128.2" r="2.35"/><circle cx="142.3" cy="101.7" r="2.35"/><circle cx="147.8" cy="114.0" r="2.35"/><circle cx="136.5" cy="112.3" r="2.35"/><circle cx="137.0" cy="152.1" r="2.35"/><circle cx="136.4" cy="129.8" r="2.35"/><circle cx="122.0" cy="138.6" r="2.35"/><circle cx="118.0" cy="117.8" r="2.35"/><circle cx="148.0" cy="124.0" r="2.35"/><circle cx="143.2" cy="150.2" r="2.35"/><circle cx="129.6" cy="158.4" r="2.35"/><circle cx="126.6" cy="130.5" r="2.35"/><circle cx="119.8" cy="156.3" r="2.35"/><circle cx="155.7" cy="117.2" r="2.35"/><circle cx="113.5" cy="147.5" r="2.35"/><circle cx="116.4" cy="171.0" r="2.35"/><circle cx="153.8" cy="123.8" r="2.35"/><circle cx="110.8" cy="149.8" r="2.35"/><circle cx="120.8" cy="170.3" r="2.35"/><circle cx="148.6" cy="117.4" r="2.35"/><circle cx="130.9" cy="140.2" r="2.35"/><circle cx="145.9" cy="118.0" r="2.35"/><circle cx="135.0" cy="137.7" r="2.35"/><circle cx="136.1" cy="140.6" r="2.35"/><circle cx="127.9" cy="127.5" r="2.35"/><circle cx="141.1" cy="103.8" r="2.35"/><circle cx="126.8" cy="132.5" r="2.35"/><circle cx="149.8" cy="118.2" r="2.35"/><circle cx="133.2" cy="146.4" r="2.35"/><circle cx="152.0" cy="113.1" r="2.35"/><circle cx="146.2" cy="128.3" r="2.35"/><circle cx="118.1" cy="149.0" r="2.35"/><circle cx="147.8" cy="118.3" r="2.35"/><circle cx="124.8" cy="118.5" r="2.35"/><circle cx="119.0" cy="164.6" r="2.35"/><circle cx="114.7" cy="158.3" r="2.35"/><circle cx="152.1" cy="143.0" r="2.35"/><circle cx="126.8" cy="106.7" r="2.35"/><circle cx="121.4" cy="118.8" r="2.35"/><circle cx="140.6" cy="130.1" r="2.35"/><circle cx="126.8" cy="103.0" r="2.35"/><circle cx="128.9" cy="108.6" r="2.35"/><circle cx="153.5" cy="130.6" r="2.35"/><circle cx="117.5" cy="166.4" r="2.35"/><circle cx="131.4" cy="118.7" r="2.35"/><circle cx="118.2" cy="120.6" r="2.35"/><circle cx="116.5" cy="168.8" r="2.35"/><circle cx="138.6" cy="101.4" r="2.35"/><circle cx="116.8" cy="112.7" r="2.35"/><circle cx="154.9" cy="103.3" r="2.35"/><circle cx="131.5" cy="138.5" r="2.35"/><circle cx="122.8" cy="156.1" r="2.35"/><circle cx="150.3" cy="115.3" r="2.35"/><circle cx="120.9" cy="135.2" r="2.35"/><circle cx="130.4" cy="146.5" r="2.35"/><circle cx="146.0" cy="123.8" r="2.35"/><circle cx="154.8" cy="132.9" r="2.35"/><circle cx="133.0" cy="111.7" r="2.35"/><circle cx="151.6" cy="143.7" r="2.35"/><circle cx="132.5" cy="119.5" r="2.35"/><circle cx="112.0" cy="118.9" r="2.35"/><circle cx="139.0" cy="150.4" r="2.35"/><circle cx="141.8" cy="150.3" r="2.35"/><circle cx="135.9" cy="131.0" r="2.35"/><circle cx="146.1" cy="121.5" r="2.35"/><circle cx="136.9" cy="115.8" r="2.35"/><circle cx="130.7" cy="165.1" r="2.35"/><circle cx="123.1" cy="128.1" r="2.35"/><circle cx="122.1" cy="142.6" r="2.35"/><circle cx="138.3" cy="150.6" r="2.35"/><circle cx="135.9" cy="133.6" r="2.35"/><circle cx="129.0" cy="124.0" r="2.35"/><circle cx="119.1" cy="105.0" r="2.35"/><circle cx="141.9" cy="113.1" r="2.35"/><circle cx="125.1" cy="130.1" r="2.35"/><circle cx="138.4" cy="114.3" r="2.35"/><circle cx="112.2" cy="140.9" r="2.35"/><circle cx="124.3" cy="153.7" r="2.35"/><circle cx="116.4" cy="151.0" r="2.35"/><circle cx="123.9" cy="119.2" r="2.35"/><circle cx="114.5" cy="156.0" r="2.35"/><circle cx="131.7" cy="139.7" r="2.35"/><circle cx="122.4" cy="116.4" r="2.35"/><circle cx="148.9" cy="116.3" r="2.35"/><circle cx="126.6" cy="131.1" r="2.35"/><circle cx="112.2" cy="121.5" r="2.35"/><circle cx="131.5" cy="146.2" r="2.35"/><circle cx="122.5" cy="172.2" r="2.35"/><circle cx="112.8" cy="138.6" r="2.35"/><circle cx="141.2" cy="143.5" r="2.35"/><circle cx="131.0" cy="127.5" r="2.35"/><circle cx="109.5" cy="133.6" r="2.35"/><circle cx="146.8" cy="148.9" r="2.35"/><circle cx="125.8" cy="162.2" r="2.35"/><circle cx="137.4" cy="143.8" r="2.35"/><circle cx="129.2" cy="158.5" r="2.35"/><circle cx="127.3" cy="154.9" r="2.35"/><circle cx="153.5" cy="138.6" r="2.35"/><circle cx="112.8" cy="167.7" r="2.35"/><circle cx="127.2" cy="128.6" r="2.35"/><circle cx="148.4" cy="110.8" r="2.35"/><circle cx="124.9" cy="157.2" r="2.35"/><circle cx="112.8" cy="157.2" r="2.35"/><circle cx="120.8" cy="108.4" r="2.35"/><circle cx="145.2" cy="138.8" r="2.35"/><circle cx="117.8" cy="140.1" r="2.35"/><circle cx="128.1" cy="138.9" r="2.35"/><circle cx="126.4" cy="151.9" r="2.35"/><circle cx="117.6" cy="124.7" r="2.35"/><circle cx="130.4" cy="143.5" r="2.35"/><circle cx="145.1" cy="106.7" r="2.35"/><circle cx="125.2" cy="145.6" r="2.35"/><circle cx="129.9" cy="116.4" r="2.35"/><circle cx="139.2" cy="138.9" r="2.35"/><circle cx="113.1" cy="134.6" r="2.35"/><circle cx="146.6" cy="122.0" r="2.35"/><circle cx="128.1" cy="132.2" r="2.35"/><circle cx="121.3" cy="145.3" r="2.35"/><circle cx="120.6" cy="168.9" r="2.35"/><circle cx="149.4" cy="121.3" r="2.35"/><circle cx="148.1" cy="130.3" r="2.35"/><circle cx="146.4" cy="113.5" r="2.35"/><circle cx="153.8" cy="125.2" r="2.35"/><circle cx="138.2" cy="124.4" r="2.35"/><circle cx="139.7" cy="108.4" r="2.35"/><circle cx="119.1" cy="107.0" r="2.35"/><circle cx="120.2" cy="109.9" r="2.35"/><circle cx="109.5" cy="135.9" r="2.35"/><circle cx="113.8" cy="166.0" r="2.35"/><circle cx="143.2" cy="151.4" r="2.35"/><circle cx="114.8" cy="171.1" r="2.35"/><circle cx="121.1" cy="166.9" r="2.35"/><circle cx="134.0" cy="149.7" r="2.35"/><circle cx="138.9" cy="125.5" r="2.35"/><circle cx="145.2" cy="137.4" r="2.35"/><circle cx="112.6" cy="142.8" r="2.35"/><circle cx="123.6" cy="139.8" r="2.35"/><circle cx="113.3" cy="117.1" r="2.35"/><circle cx="119.0" cy="148.9" r="2.35"/><circle cx="126.2" cy="165.2" r="2.35"/><circle cx="111.4" cy="137.4" r="2.35"/><circle cx="126.6" cy="171.6" r="2.35"/><circle cx="118.4" cy="135.9" r="2.35"/><circle cx="121.1" cy="119.3" r="2.35"/><circle cx="149.3" cy="134.5" r="2.35"/><circle cx="114.6" cy="148.7" r="2.35"/><circle cx="154.5" cy="140.7" r="2.35"/><circle cx="118.9" cy="138.0" r="2.35"/><circle cx="138.2" cy="155.0" r="2.35"/><circle cx="128.8" cy="135.4" r="2.35"/><circle cx="134.0" cy="154.2" r="2.35"/><circle cx="144.6" cy="147.0" r="2.35"/><circle cx="132.8" cy="157.0" r="2.35"/><circle cx="120.8" cy="159.9" r="2.35"/><circle cx="112.8" cy="138.8" r="2.35"/><circle cx="153.8" cy="114.4" r="2.35"/><circle cx="152.2" cy="135.0" r="2.35"/><circle cx="143.6" cy="109.2" r="2.35"/><circle cx="134.9" cy="138.0" r="2.35"/><circle cx="125.1" cy="136.3" r="2.35"/><circle cx="123.3" cy="149.7" r="2.35"/><circle cx="123.3" cy="117.1" r="2.35"/><circle cx="137.2" cy="137.0" r="2.35"/><circle cx="128.7" cy="157.2" r="2.35"/><circle cx="129.0" cy="151.1" r="2.35"/><circle cx="122.6" cy="131.8" r="2.35"/><circle cx="145.7" cy="120.4" r="2.35"/><circle cx="170.3" cy="33.4" r="2.35"/><circle cx="180.8" cy="38.8" r="2.35"/><circle cx="176.3" cy="44.5" r="2.35"/><circle cx="166.8" cy="48.1" r="2.35"/><circle cx="170.3" cy="47.2" r="2.35"/><circle cx="182.2" cy="48.1" r="2.35"/><circle cx="210.3" cy="25.8" r="2.35"/><circle cx="203.9" cy="29.8" r="2.35"/><circle cx="206.3" cy="29.3" r="2.35"/><circle cx="212.9" cy="31.3" r="2.35"/><circle cx="216.4" cy="37.6" r="2.35"/><circle cx="219.4" cy="38.3" r="2.35"/><circle cx="234.1" cy="38.8" r="2.35"/><circle cx="263.8" cy="39.5" r="2.35"/><circle cx="195.7" cy="42.4" r="2.35"/><circle cx="200.8" cy="44.7" r="2.35"/><circle cx="222.4" cy="43.6" r="2.35"/><circle cx="213.8" cy="46.6" r="2.35"/><circle cx="221.6" cy="48.9" r="2.35"/><circle cx="275.5" cy="53.9" r="2.35"/><circle cx="196.8" cy="51.9" r="2.35"/><circle cx="193.0" cy="54.9" r="2.35"/><circle cx="198.3" cy="54.9" r="2.35"/><circle cx="208.8" cy="51.9" r="2.35"/><circle cx="211.8" cy="53.4" r="2.35"/><circle cx="218.6" cy="58.7" r="2.35"/><circle cx="229.5" cy="59.4" r="2.35"/><circle cx="239.4" cy="57.5" r="2.35"/><circle cx="217.1" cy="60.9" r="2.35"/><circle cx="220.9" cy="63.2" r="2.35"/><circle cx="224.6" cy="64.4" r="2.35"/><circle cx="220.9" cy="67.0" r="2.35"/><circle cx="237.9" cy="65.5" r="2.35"/><circle cx="246.5" cy="63.5" r="2.35"/><circle cx="248.0" cy="67.0" r="2.35"/><circle cx="251.0" cy="68.0" r="2.35"/><circle cx="259.0" cy="70.7" r="2.35"/><circle cx="231.4" cy="69.2" r="2.35"/><circle cx="219.4" cy="76.7" r="2.35"/><circle cx="226.9" cy="76.7" r="2.35"/><circle cx="231.4" cy="76.0" r="2.35"/><circle cx="232.2" cy="80.5" r="2.35"/><circle cx="254.8" cy="79.5" r="2.35"/><circle cx="109.6" cy="165.0" r="2.35"/><circle cx="132.0" cy="174.8" r="2.35"/><circle cx="132.0" cy="180.9" r="2.35"/><circle cx="147.4" cy="169.2" r="2.35"/><circle cx="157.2" cy="165.0" r="2.35"/><circle cx="216.4" cy="90.2" r="2.35"/><circle cx="219.8" cy="91.3" r="2.35"/><circle cx="237.9" cy="96.3" r="2.35"/><circle cx="215.3" cy="102.3" r="2.35"/><circle cx="241.2" cy="118.8" r="2.35"/><circle cx="222.4" cy="126.7" r="2.35"/><circle cx="109.7" cy="164.1" r="2.35"/><circle cx="114.8" cy="169.2" r="2.35"/><circle cx="116.3" cy="173.6" r="2.35"/><circle cx="120.7" cy="169.2" r="2.35"/><circle cx="128.0" cy="167.0" r="2.35"/><circle cx="132.3" cy="165.5" r="2.35"/><circle cx="131.6" cy="175.0" r="2.35"/><circle cx="131.9" cy="181.2" r="2.35"/><circle cx="138.2" cy="161.9" r="2.35"/><circle cx="144.7" cy="162.6" r="2.35"/><circle cx="147.7" cy="169.9" r="2.35"/><circle cx="156.4" cy="164.8" r="2.35"/><circle cx="158.6" cy="169.9" r="2.35"/><circle cx="162.3" cy="164.1" r="2.35"/><circle cx="110.2" cy="70.7" r="2.35"/><circle cx="121.5" cy="73.3" r="2.35"/><circle cx="123.6" cy="78.9" r="2.35"/><circle cx="129.8" cy="77.2" r="2.35"/><circle cx="133.7" cy="76.3" r="2.35"/><circle cx="132.4" cy="79.5" r="2.35"/><circle cx="144.0" cy="70.7" r="2.35"/><circle cx="143.4" cy="77.6" r="2.35"/><circle cx="149.2" cy="74.4" r="2.35"/><circle cx="153.1" cy="64.7" r="2.35"/><circle cx="146.0" cy="78.9" r="2.35"/><circle cx="150.5" cy="80.2" r="2.35"/><circle cx="117.6" cy="85.3" r="2.35"/><circle cx="118.9" cy="88.5" r="2.35"/><circle cx="124.7" cy="86.0" r="2.35"/><circle cx="127.9" cy="83.4" r="2.35"/><circle cx="132.4" cy="86.0" r="2.35"/><circle cx="136.3" cy="91.1" r="2.35"/><circle cx="133.7" cy="89.2" r="2.35"/><circle cx="141.5" cy="86.6" r="2.35"/><circle cx="144.0" cy="88.5" r="2.35"/><circle cx="147.9" cy="87.3" r="2.35"/><circle cx="151.8" cy="88.5" r="2.35"/><circle cx="111.8" cy="95.0" r="2.35"/><circle cx="119.5" cy="93.7" r="2.35"/><circle cx="120.2" cy="97.6" r="2.35"/><circle cx="126.0" cy="95.0" r="2.35"/><circle cx="122.7" cy="97.6" r="2.35"/><circle cx="127.3" cy="92.4" r="2.35"/><circle cx="128.5" cy="97.6" r="2.35"/><circle cx="133.7" cy="96.3" r="2.35"/><circle cx="140.2" cy="93.7" r="2.35"/><circle cx="144.0" cy="96.3" r="2.35"/><circle cx="146.6" cy="98.9" r="2.35"/><circle cx="150.5" cy="96.3" r="2.35"/><circle cx="153.1" cy="93.7" r="2.35"/><circle cx="114.4" cy="109.2" r="2.35"/><circle cx="104.0" cy="114.4" r="2.35"/><circle cx="115.6" cy="111.8" r="2.35"/><circle cx="183.4" cy="56.3" r="2.35"/><circle cx="189.2" cy="55.6" r="2.35"/><circle cx="193.7" cy="56.3" r="2.35"/><circle cx="198.9" cy="55.6" r="2.35"/><circle cx="210.5" cy="56.9" r="2.35"/><circle cx="213.7" cy="58.2" r="2.35"/><circle cx="164.0" cy="62.1" r="2.35"/><circle cx="162.7" cy="64.7" r="2.35"/><circle cx="171.1" cy="63.4" r="2.35"/><circle cx="168.5" cy="66.0" r="2.35"/><circle cx="178.9" cy="64.7" r="2.35"/><circle cx="182.7" cy="66.0" r="2.35"/><circle cx="186.6" cy="67.3" r="2.35"/><circle cx="189.2" cy="63.4" r="2.35"/><circle cx="193.7" cy="65.3" r="2.35"/><circle cx="196.9" cy="66.6" r="2.35"/><circle cx="200.8" cy="60.2" r="2.35"/><circle cx="203.4" cy="62.1" r="2.35"/><circle cx="206.0" cy="63.4" r="2.35"/><circle cx="209.2" cy="62.1" r="2.35"/><circle cx="211.8" cy="64.7" r="2.35"/><circle cx="157.6" cy="73.7" r="2.35"/><circle cx="162.7" cy="70.5" r="2.35"/><circle cx="167.3" cy="71.8" r="2.35"/><circle cx="173.7" cy="70.5" r="2.35"/><circle cx="179.5" cy="70.5" r="2.35"/><circle cx="184.7" cy="69.2" r="2.35"/><circle cx="189.8" cy="71.8" r="2.35"/><circle cx="193.7" cy="74.4" r="2.35"/><circle cx="196.3" cy="71.1" r="2.35"/><circle cx="204.7" cy="68.5" r="2.35"/><circle cx="211.8" cy="69.2" r="2.35"/><circle cx="213.7" cy="73.1" r="2.35"/><circle cx="155.6" cy="81.5" r="2.35"/><circle cx="161.5" cy="80.8" r="2.35"/><circle cx="164.7" cy="79.5" r="2.35"/><circle cx="170.5" cy="76.9" r="2.35"/><circle cx="182.1" cy="78.9" r="2.35"/><circle cx="189.8" cy="76.3" r="2.35"/><circle cx="196.3" cy="78.9" r="2.35"/><circle cx="205.3" cy="78.2" r="2.35"/><circle cx="208.5" cy="79.5" r="2.35"/><circle cx="158.2" cy="86.6" r="2.35"/><circle cx="160.8" cy="84.0" r="2.35"/><circle cx="165.3" cy="84.7" r="2.35"/><circle cx="167.9" cy="87.9" r="2.35"/><circle cx="171.8" cy="84.7" r="2.35"/><circle cx="175.6" cy="86.0" r="2.35"/><circle cx="180.8" cy="82.7" r="2.35"/><circle cx="181.5" cy="86.6" r="2.35"/><circle cx="187.3" cy="84.7" r="2.35"/><circle cx="192.4" cy="84.0" r="2.35"/><circle cx="198.9" cy="84.0" r="2.35"/><circle cx="202.1" cy="86.0" r="2.35"/><circle cx="207.9" cy="87.9" r="2.35"/><circle cx="212.4" cy="87.3" r="2.35"/><circle cx="157.6" cy="91.1" r="2.35"/><circle cx="162.1" cy="93.7" r="2.35"/><circle cx="166.6" cy="92.4" r="2.35"/><circle cx="169.8" cy="92.4" r="2.35"/><circle cx="174.4" cy="89.8" r="2.35"/><circle cx="171.1" cy="96.3" r="2.35"/><circle cx="180.2" cy="93.7" r="2.35"/><circle cx="186.0" cy="89.8" r="2.35"/><circle cx="188.5" cy="92.4" r="2.35"/><circle cx="182.7" cy="96.3" r="2.35"/><circle cx="193.7" cy="94.4" r="2.35"/><circle cx="200.2" cy="93.7" r="2.35"/><circle cx="204.0" cy="96.3" r="2.35"/><circle cx="210.5" cy="92.4" r="2.35"/><circle cx="156.3" cy="98.9" r="2.35"/><circle cx="159.5" cy="100.2" r="2.35"/><circle cx="162.7" cy="102.1" r="2.35"/><circle cx="158.9" cy="103.4" r="2.35"/><circle cx="166.6" cy="100.2" r="2.35"/><circle cx="170.5" cy="98.9" r="2.35"/><circle cx="176.3" cy="100.8" r="2.35"/><circle cx="180.8" cy="98.9" r="2.35"/><circle cx="187.3" cy="100.2" r="2.35"/><circle cx="192.4" cy="100.8" r="2.35"/><circle cx="188.5" cy="103.4" r="2.35"/><circle cx="201.5" cy="100.2" r="2.35"/><circle cx="213.1" cy="102.1" r="2.35"/><circle cx="196.3" cy="104.7" r="2.35"/><circle cx="156.3" cy="106.6" r="2.35"/><circle cx="161.5" cy="107.9" r="2.35"/><circle cx="166.0" cy="106.0" r="2.35"/><circle cx="167.9" cy="110.5" r="2.35"/><circle cx="173.1" cy="107.9" r="2.35"/><circle cx="174.4" cy="111.8" r="2.35"/><circle cx="178.2" cy="109.2" r="2.35"/><circle cx="180.8" cy="109.8" r="2.35"/><circle cx="189.2" cy="107.3" r="2.35"/><circle cx="195.0" cy="110.5" r="2.35"/><circle cx="198.9" cy="114.4" r="2.35"/><circle cx="204.7" cy="110.5" r="2.35"/><circle cx="209.2" cy="112.4" r="2.35"/><circle cx="158.9" cy="111.8" r="2.35"/><circle cx="162.7" cy="113.7" r="2.35"/><circle cx="100.2" cy="153.1" r="2.35"/><circle cx="104.0" cy="156.3" r="2.35"/><circle cx="109.2" cy="164.0" r="2.35"/><circle cx="105.3" cy="116.3" r="2.35"/><circle cx="107.9" cy="135.6" r="2.35"/><circle cx="146.6" cy="169.8" r="2.35"/><circle cx="143.4" cy="163.4" r="2.35"/><circle cx="153.1" cy="157.6" r="2.35"/><circle cx="170.5" cy="115.6" r="2.35"/><circle cx="182.1" cy="116.3" r="2.35"/><circle cx="189.8" cy="120.8" r="2.35"/><circle cx="198.2" cy="123.0" r="2.35"/><circle cx="209.8" cy="122.1" r="2.35"/><circle cx="212.4" cy="115.6" r="2.35"/><circle cx="200.2" cy="115.6" r="2.35"/><circle cx="186.6" cy="127.9" r="2.35"/><circle cx="187.3" cy="131.1" r="2.35"/><circle cx="186.0" cy="135.0" r="2.35"/><circle cx="192.4" cy="135.6" r="2.35"/><circle cx="198.9" cy="135.6" r="2.35"/><circle cx="185.3" cy="140.8" r="2.35"/><circle cx="213.7" cy="141.5" r="2.35"/><circle cx="184.7" cy="149.2" r="2.35"/><circle cx="186.0" cy="151.1" r="2.35"/><circle cx="189.8" cy="153.1" r="2.35"/><circle cx="209.5" cy="151.1" r="2.35"/><circle cx="175.6" cy="158.2" r="2.35"/><circle cx="171.8" cy="158.9" r="2.35"/><circle cx="168.5" cy="157.6" r="2.35"/><circle cx="173.1" cy="160.8" r="2.35"/><circle cx="162.7" cy="164.0" r="2.35"/><circle cx="157.6" cy="164.7" r="2.35"/><circle cx="158.2" cy="170.5" r="2.35"/><circle cx="165.3" cy="149.8" r="2.35"/><circle cx="161.5" cy="155.0" r="2.35"/><circle cx="156.3" cy="156.3" r="2.35"/><circle cx="107.9" cy="118.9" r="2.35"/><circle cx="103.0" cy="115.5" r="2.35"/><circle cx="134.0" cy="152.0" r="2.35"/><circle cx="141.0" cy="153.0" r="2.35"/><circle cx="139.0" cy="158.0" r="2.35"/><circle cx="145.0" cy="156.0" r="2.35"/><circle cx="149.3" cy="154.0" r="2.35"/><circle cx="155.4" cy="157.2" r="2.35"/><circle cx="157.5" cy="164.3" r="2.35"/><circle cx="162.6" cy="164.3" r="2.35"/><circle cx="148.3" cy="169.8" r="2.35"/><circle cx="158.5" cy="170.4" r="2.35"/><circle cx="132.0" cy="175.6" r="2.35"/><circle cx="132.0" cy="181.0" r="2.35"/><circle cx="136.0" cy="150.0" r="2.35"/><circle cx="144.0" cy="150.5" r="2.35"/></g>
<g fill="#5B9BD5"><circle cx="464.4" cy="134.2" r="2.35"/><circle cx="473.2" cy="138.9" r="2.35"/><circle cx="490.1" cy="96.6" r="2.35"/><circle cx="504.1" cy="111.8" r="2.35"/><circle cx="480.2" cy="141.6" r="2.35"/><circle cx="458.7" cy="141.3" r="2.35"/><circle cx="506.1" cy="132.5" r="2.35"/><circle cx="497.7" cy="144.2" r="2.35"/><circle cx="452.9" cy="151.0" r="2.35"/><circle cx="487.8" cy="115.1" r="2.35"/><circle cx="479.9" cy="147.9" r="2.35"/><circle cx="509.6" cy="122.4" r="2.35"/><circle cx="501.6" cy="126.3" r="2.35"/><circle cx="490.1" cy="115.1" r="2.35"/><circle cx="482.2" cy="121.7" r="2.35"/><circle cx="471.9" cy="137.4" r="2.35"/><circle cx="493.1" cy="104.2" r="2.35"/><circle cx="508.5" cy="136.1" r="2.35"/><circle cx="495.9" cy="108.0" r="2.35"/><circle cx="503.7" cy="136.5" r="2.35"/><circle cx="454.6" cy="154.3" r="2.35"/><circle cx="475.8" cy="103.3" r="2.35"/><circle cx="468.1" cy="151.8" r="2.35"/><circle cx="470.6" cy="160.6" r="2.35"/><circle cx="488.3" cy="93.9" r="2.35"/><circle cx="475.7" cy="139.4" r="2.35"/><circle cx="508.0" cy="121.1" r="2.35"/><circle cx="479.1" cy="132.3" r="2.35"/><circle cx="491.3" cy="138.2" r="2.35"/><circle cx="485.7" cy="140.1" r="2.35"/><circle cx="510.9" cy="131.3" r="2.35"/><circle cx="477.2" cy="148.0" r="2.35"/><circle cx="464.4" cy="115.1" r="2.35"/><circle cx="479.5" cy="144.8" r="2.35"/><circle cx="472.0" cy="147.0" r="2.35"/><circle cx="465.3" cy="127.3" r="2.35"/><circle cx="487.9" cy="116.6" r="2.35"/><circle cx="472.8" cy="116.0" r="2.35"/><circle cx="473.1" cy="138.2" r="2.35"/><circle cx="468.6" cy="121.0" r="2.35"/><circle cx="486.3" cy="149.2" r="2.35"/><circle cx="463.4" cy="154.6" r="2.35"/><circle cx="464.5" cy="106.1" r="2.35"/><circle cx="477.5" cy="146.3" r="2.35"/><circle cx="470.8" cy="156.9" r="2.35"/><circle cx="477.7" cy="158.6" r="2.35"/><circle cx="507.2" cy="126.9" r="2.35"/><circle cx="483.7" cy="106.4" r="2.35"/><circle cx="491.1" cy="154.8" r="2.35"/><circle cx="471.5" cy="101.6" r="2.35"/><circle cx="501.2" cy="112.7" r="2.35"/><circle cx="471.6" cy="124.2" r="2.35"/><circle cx="476.4" cy="123.6" r="2.35"/><circle cx="498.0" cy="157.2" r="2.35"/><circle cx="492.5" cy="132.2" r="2.35"/><circle cx="467.8" cy="118.2" r="2.35"/><circle cx="487.6" cy="114.0" r="2.35"/><circle cx="508.2" cy="136.7" r="2.35"/><circle cx="468.5" cy="143.5" r="2.35"/><circle cx="483.4" cy="123.9" r="2.35"/><circle cx="465.4" cy="159.1" r="2.35"/><circle cx="480.2" cy="152.9" r="2.35"/><circle cx="461.7" cy="133.4" r="2.35"/><circle cx="502.7" cy="104.9" r="2.35"/><circle cx="490.3" cy="159.2" r="2.35"/><circle cx="466.6" cy="112.5" r="2.35"/><circle cx="483.6" cy="124.6" r="2.35"/><circle cx="480.0" cy="152.4" r="2.35"/><circle cx="481.9" cy="116.2" r="2.35"/><circle cx="469.5" cy="119.0" r="2.35"/><circle cx="491.5" cy="137.5" r="2.35"/><circle cx="472.6" cy="106.4" r="2.35"/><circle cx="496.0" cy="121.3" r="2.35"/><circle cx="473.4" cy="138.9" r="2.35"/><circle cx="500.4" cy="121.3" r="2.35"/><circle cx="501.7" cy="140.4" r="2.35"/><circle cx="477.2" cy="120.7" r="2.35"/><circle cx="481.5" cy="146.6" r="2.35"/><circle cx="476.5" cy="146.0" r="2.35"/><circle cx="479.2" cy="110.7" r="2.35"/><circle cx="484.1" cy="146.0" r="2.35"/><circle cx="476.8" cy="160.5" r="2.35"/><circle cx="501.0" cy="112.0" r="2.35"/><circle cx="479.4" cy="101.1" r="2.35"/><circle cx="501.1" cy="143.9" r="2.35"/><circle cx="497.2" cy="135.7" r="2.35"/><circle cx="455.5" cy="137.6" r="2.35"/><circle cx="499.9" cy="94.9" r="2.35"/><circle cx="455.3" cy="160.6" r="2.35"/><circle cx="456.7" cy="157.7" r="2.35"/><circle cx="493.2" cy="157.1" r="2.35"/><circle cx="511.7" cy="136.9" r="2.35"/><circle cx="499.4" cy="131.6" r="2.35"/><circle cx="496.0" cy="99.8" r="2.35"/><circle cx="464.7" cy="105.5" r="2.35"/><circle cx="489.4" cy="150.6" r="2.35"/><circle cx="474.7" cy="120.3" r="2.35"/><circle cx="474.9" cy="118.9" r="2.35"/><circle cx="459.3" cy="145.7" r="2.35"/><circle cx="498.7" cy="144.4" r="2.35"/><circle cx="482.9" cy="129.4" r="2.35"/><circle cx="455.0" cy="150.2" r="2.35"/><circle cx="509.3" cy="132.1" r="2.35"/><circle cx="478.0" cy="147.9" r="2.35"/><circle cx="461.0" cy="112.4" r="2.35"/><circle cx="487.4" cy="116.1" r="2.35"/><circle cx="464.1" cy="145.7" r="2.35"/><circle cx="495.3" cy="123.9" r="2.35"/><circle cx="505.1" cy="137.4" r="2.35"/><circle cx="466.4" cy="108.5" r="2.35"/><circle cx="474.0" cy="104.9" r="2.35"/><circle cx="472.5" cy="116.7" r="2.35"/><circle cx="499.9" cy="102.7" r="2.35"/><circle cx="485.5" cy="129.2" r="2.35"/><circle cx="496.3" cy="158.7" r="2.35"/><circle cx="475.2" cy="149.1" r="2.35"/><circle cx="512.2" cy="128.1" r="2.35"/><circle cx="464.2" cy="147.8" r="2.35"/><circle cx="465.8" cy="106.1" r="2.35"/><circle cx="495.3" cy="158.9" r="2.35"/><circle cx="505.9" cy="116.0" r="2.35"/><circle cx="496.9" cy="98.2" r="2.35"/><circle cx="454.8" cy="156.9" r="2.35"/><circle cx="472.3" cy="137.0" r="2.35"/><circle cx="470.8" cy="125.7" r="2.35"/><circle cx="480.8" cy="107.9" r="2.35"/><circle cx="474.5" cy="134.2" r="2.35"/><circle cx="492.7" cy="100.2" r="2.35"/><circle cx="473.4" cy="152.1" r="2.35"/><circle cx="498.8" cy="114.6" r="2.35"/><circle cx="493.4" cy="142.8" r="2.35"/><circle cx="502.0" cy="112.3" r="2.35"/><circle cx="493.2" cy="133.5" r="2.35"/><circle cx="456.2" cy="130.2" r="2.35"/><circle cx="496.2" cy="144.7" r="2.35"/><circle cx="486.1" cy="105.7" r="2.35"/><circle cx="491.4" cy="141.0" r="2.35"/><circle cx="460.5" cy="161.3" r="2.35"/><circle cx="492.0" cy="101.1" r="2.35"/><circle cx="470.6" cy="148.0" r="2.35"/><circle cx="488.2" cy="135.0" r="2.35"/><circle cx="491.5" cy="127.4" r="2.35"/><circle cx="469.4" cy="105.3" r="2.35"/><circle cx="453.2" cy="147.7" r="2.35"/><circle cx="498.6" cy="134.1" r="2.35"/><circle cx="497.6" cy="119.6" r="2.35"/><circle cx="466.3" cy="121.5" r="2.35"/><circle cx="482.1" cy="110.8" r="2.35"/><circle cx="499.5" cy="119.2" r="2.35"/><circle cx="470.7" cy="123.1" r="2.35"/><circle cx="500.2" cy="148.6" r="2.35"/><circle cx="497.8" cy="155.5" r="2.35"/><circle cx="498.2" cy="137.9" r="2.35"/><circle cx="483.6" cy="136.1" r="2.35"/><circle cx="462.1" cy="111.1" r="2.35"/><circle cx="487.2" cy="141.2" r="2.35"/><circle cx="468.5" cy="159.0" r="2.35"/><circle cx="480.7" cy="138.7" r="2.35"/><circle cx="499.6" cy="143.4" r="2.35"/><circle cx="481.2" cy="132.6" r="2.35"/><circle cx="479.1" cy="106.6" r="2.35"/><circle cx="491.4" cy="126.3" r="2.35"/><circle cx="501.1" cy="140.4" r="2.35"/><circle cx="470.1" cy="159.8" r="2.35"/><circle cx="494.6" cy="102.0" r="2.35"/><circle cx="496.0" cy="149.5" r="2.35"/><circle cx="471.4" cy="154.8" r="2.35"/><circle cx="477.6" cy="150.9" r="2.35"/><circle cx="480.8" cy="100.0" r="2.35"/><circle cx="481.6" cy="146.4" r="2.35"/><circle cx="484.2" cy="124.6" r="2.35"/><circle cx="491.6" cy="115.3" r="2.35"/><circle cx="479.4" cy="150.9" r="2.35"/><circle cx="475.2" cy="105.6" r="2.35"/><circle cx="473.0" cy="120.6" r="2.35"/><circle cx="483.7" cy="138.3" r="2.35"/><circle cx="462.5" cy="153.0" r="2.35"/><circle cx="458.2" cy="127.6" r="2.35"/><circle cx="481.1" cy="96.1" r="2.35"/><circle cx="478.3" cy="123.4" r="2.35"/><circle cx="489.8" cy="118.6" r="2.35"/><circle cx="496.8" cy="113.0" r="2.35"/><circle cx="500.8" cy="128.0" r="2.35"/><circle cx="466.3" cy="155.4" r="2.35"/><circle cx="490.3" cy="118.5" r="2.35"/><circle cx="454.9" cy="145.0" r="2.35"/><circle cx="512.8" cy="138.0" r="2.35"/><circle cx="468.8" cy="139.1" r="2.35"/><circle cx="468.1" cy="158.2" r="2.35"/><circle cx="470.8" cy="144.9" r="2.35"/><circle cx="497.6" cy="149.1" r="2.35"/><circle cx="503.9" cy="134.9" r="2.35"/><circle cx="509.7" cy="119.9" r="2.35"/><circle cx="476.1" cy="109.4" r="2.35"/><circle cx="500.2" cy="129.2" r="2.35"/><circle cx="466.5" cy="104.7" r="2.35"/><circle cx="488.7" cy="147.3" r="2.35"/><circle cx="474.3" cy="129.7" r="2.35"/><circle cx="458.9" cy="147.3" r="2.35"/><circle cx="498.8" cy="144.6" r="2.35"/><circle cx="506.4" cy="126.8" r="2.35"/><circle cx="470.8" cy="120.5" r="2.35"/><circle cx="486.3" cy="100.1" r="2.35"/><circle cx="454.0" cy="142.4" r="2.35"/><circle cx="458.8" cy="142.1" r="2.35"/><circle cx="485.9" cy="124.4" r="2.35"/><circle cx="500.3" cy="138.9" r="2.35"/><circle cx="500.8" cy="133.5" r="2.35"/><circle cx="453.9" cy="156.3" r="2.35"/><circle cx="461.9" cy="161.6" r="2.35"/><circle cx="463.4" cy="156.6" r="2.35"/><circle cx="489.4" cy="141.8" r="2.35"/><circle cx="488.6" cy="126.4" r="2.35"/><circle cx="456.0" cy="157.1" r="2.35"/><circle cx="488.0" cy="155.4" r="2.35"/><circle cx="484.3" cy="127.9" r="2.35"/><circle cx="496.8" cy="97.5" r="2.35"/><circle cx="497.3" cy="124.6" r="2.35"/><circle cx="491.6" cy="139.0" r="2.35"/><circle cx="462.9" cy="119.0" r="2.35"/><circle cx="484.1" cy="124.3" r="2.35"/><circle cx="511.5" cy="129.5" r="2.35"/><circle cx="499.8" cy="123.4" r="2.35"/><circle cx="468.0" cy="164.8" r="2.35"/><circle cx="496.4" cy="114.5" r="2.35"/><circle cx="483.0" cy="141.6" r="2.35"/><circle cx="451.4" cy="150.0" r="2.35"/><circle cx="477.3" cy="118.5" r="2.35"/><circle cx="497.8" cy="150.1" r="2.35"/><circle cx="468.5" cy="123.7" r="2.35"/><circle cx="499.1" cy="146.5" r="2.35"/><circle cx="506.6" cy="120.7" r="2.35"/><circle cx="479.3" cy="132.7" r="2.35"/><circle cx="484.5" cy="119.7" r="2.35"/><circle cx="468.4" cy="110.5" r="2.35"/><circle cx="457.4" cy="133.1" r="2.35"/><circle cx="484.1" cy="104.4" r="2.35"/><circle cx="499.6" cy="128.0" r="2.35"/><circle cx="477.3" cy="118.0" r="2.35"/><circle cx="452.1" cy="134.3" r="2.35"/><circle cx="469.3" cy="110.8" r="2.35"/><circle cx="501.7" cy="124.3" r="2.35"/><circle cx="477.1" cy="140.7" r="2.35"/><circle cx="498.8" cy="153.5" r="2.35"/><circle cx="485.2" cy="113.4" r="2.35"/><circle cx="479.6" cy="143.7" r="2.35"/><circle cx="488.5" cy="124.0" r="2.35"/><circle cx="483.0" cy="104.8" r="2.35"/><circle cx="460.8" cy="145.1" r="2.35"/><circle cx="472.0" cy="127.2" r="2.35"/><circle cx="501.8" cy="127.0" r="2.35"/><circle cx="469.5" cy="132.4" r="2.35"/><circle cx="475.9" cy="158.3" r="2.35"/><circle cx="485.0" cy="129.7" r="2.35"/><circle cx="467.2" cy="147.2" r="2.35"/><circle cx="492.9" cy="120.6" r="2.35"/><circle cx="491.2" cy="106.7" r="2.35"/><circle cx="474.0" cy="156.5" r="2.35"/><circle cx="469.6" cy="112.7" r="2.35"/><circle cx="469.7" cy="122.3" r="2.35"/><circle cx="463.9" cy="107.1" r="2.35"/><circle cx="454.0" cy="132.8" r="2.35"/><circle cx="466.4" cy="129.4" r="2.35"/><circle cx="466.4" cy="134.3" r="2.35"/><circle cx="491.5" cy="102.6" r="2.35"/><circle cx="452.3" cy="151.1" r="2.35"/><circle cx="484.0" cy="121.5" r="2.35"/><circle cx="480.8" cy="146.7" r="2.35"/><circle cx="471.5" cy="150.2" r="2.35"/><circle cx="500.4" cy="136.1" r="2.35"/><circle cx="479.4" cy="133.7" r="2.35"/><circle cx="477.9" cy="133.4" r="2.35"/><circle cx="475.8" cy="160.0" r="2.35"/><circle cx="483.4" cy="151.6" r="2.35"/><circle cx="484.4" cy="126.1" r="2.35"/><circle cx="458.4" cy="138.6" r="2.35"/><circle cx="470.1" cy="131.2" r="2.35"/><circle cx="473.4" cy="116.4" r="2.35"/><circle cx="472.4" cy="138.6" r="2.35"/><circle cx="456.8" cy="130.8" r="2.35"/><circle cx="497.1" cy="118.2" r="2.35"/><circle cx="491.4" cy="113.6" r="2.35"/><circle cx="512.6" cy="127.0" r="2.35"/><circle cx="483.6" cy="126.1" r="2.35"/><circle cx="489.5" cy="96.8" r="2.35"/><circle cx="476.8" cy="158.0" r="2.35"/><circle cx="472.9" cy="108.3" r="2.35"/><circle cx="477.2" cy="159.6" r="2.35"/><circle cx="495.7" cy="119.8" r="2.35"/><circle cx="468.6" cy="131.1" r="2.35"/><circle cx="475.1" cy="120.7" r="2.35"/><circle cx="473.2" cy="139.7" r="2.35"/><circle cx="469.9" cy="113.6" r="2.35"/><circle cx="509.6" cy="133.4" r="2.35"/><circle cx="497.4" cy="156.5" r="2.35"/><circle cx="477.9" cy="145.0" r="2.35"/><circle cx="456.7" cy="160.6" r="2.35"/><circle cx="473.7" cy="128.8" r="2.35"/><circle cx="461.3" cy="156.1" r="2.35"/><circle cx="488.3" cy="98.1" r="2.35"/><circle cx="482.5" cy="125.4" r="2.35"/><circle cx="490.3" cy="143.3" r="2.35"/><circle cx="480.4" cy="124.6" r="2.35"/><circle cx="470.6" cy="124.3" r="2.35"/><circle cx="462.0" cy="122.2" r="2.35"/><circle cx="454.5" cy="141.8" r="2.35"/><circle cx="483.3" cy="136.5" r="2.35"/><circle cx="479.7" cy="158.8" r="2.35"/><circle cx="484.3" cy="113.8" r="2.35"/><circle cx="483.6" cy="107.3" r="2.35"/><circle cx="468.4" cy="162.1" r="2.35"/><circle cx="457.5" cy="133.2" r="2.35"/><circle cx="489.7" cy="119.3" r="2.35"/><circle cx="477.3" cy="115.9" r="2.35"/><circle cx="461.5" cy="159.9" r="2.35"/><circle cx="463.0" cy="156.1" r="2.35"/><circle cx="509.1" cy="122.6" r="2.35"/><circle cx="462.7" cy="106.1" r="2.35"/><circle cx="481.7" cy="121.6" r="2.35"/><circle cx="474.4" cy="105.4" r="2.35"/><circle cx="465.3" cy="112.1" r="2.35"/><circle cx="494.6" cy="118.1" r="2.35"/><circle cx="477.9" cy="135.8" r="2.35"/><circle cx="464.9" cy="146.4" r="2.35"/><circle cx="462.9" cy="144.1" r="2.35"/><circle cx="489.0" cy="105.2" r="2.35"/><circle cx="498.3" cy="122.4" r="2.35"/><circle cx="484.4" cy="138.4" r="2.35"/><circle cx="490.2" cy="126.2" r="2.35"/><circle cx="481.1" cy="136.9" r="2.35"/><circle cx="466.4" cy="162.0" r="2.35"/><circle cx="494.0" cy="108.8" r="2.35"/><circle cx="480.6" cy="105.4" r="2.35"/><circle cx="496.1" cy="118.0" r="2.35"/><circle cx="497.1" cy="137.3" r="2.35"/><circle cx="455.8" cy="132.9" r="2.35"/><circle cx="504.9" cy="129.0" r="2.35"/><circle cx="478.2" cy="130.1" r="2.35"/><circle cx="454.9" cy="151.2" r="2.35"/><circle cx="485.2" cy="115.2" r="2.35"/><circle cx="497.3" cy="119.0" r="2.35"/><circle cx="480.3" cy="136.0" r="2.35"/><circle cx="465.2" cy="146.2" r="2.35"/><circle cx="485.9" cy="121.7" r="2.35"/><circle cx="455.9" cy="134.9" r="2.35"/><circle cx="469.8" cy="148.4" r="2.35"/><circle cx="460.1" cy="122.4" r="2.35"/><circle cx="475.7" cy="136.7" r="2.35"/><circle cx="480.6" cy="107.2" r="2.35"/><circle cx="482.1" cy="104.5" r="2.35"/><circle cx="455.4" cy="133.6" r="2.35"/><circle cx="482.8" cy="122.6" r="2.35"/><circle cx="469.5" cy="165.4" r="2.35"/><circle cx="511.4" cy="128.9" r="2.35"/><circle cx="477.4" cy="112.0" r="2.35"/><circle cx="486.5" cy="131.5" r="2.35"/><circle cx="501.0" cy="149.0" r="2.35"/><circle cx="495.2" cy="150.4" r="2.35"/><circle cx="463.6" cy="127.3" r="2.35"/><circle cx="499.1" cy="104.4" r="2.35"/><circle cx="492.8" cy="112.6" r="2.35"/><circle cx="482.3" cy="120.7" r="2.35"/><circle cx="482.0" cy="145.4" r="2.35"/><circle cx="477.0" cy="154.6" r="2.35"/><circle cx="465.7" cy="134.2" r="2.35"/><circle cx="487.4" cy="121.9" r="2.35"/><circle cx="491.0" cy="108.0" r="2.35"/><circle cx="498.8" cy="131.1" r="2.35"/><circle cx="496.8" cy="120.7" r="2.35"/><circle cx="497.6" cy="129.5" r="2.35"/><circle cx="497.5" cy="103.1" r="2.35"/><circle cx="484.7" cy="144.0" r="2.35"/><circle cx="488.6" cy="104.1" r="2.35"/><circle cx="457.7" cy="140.5" r="2.35"/><circle cx="500.6" cy="122.1" r="2.35"/><circle cx="489.1" cy="112.1" r="2.35"/><circle cx="467.3" cy="146.3" r="2.35"/><circle cx="483.0" cy="117.2" r="2.35"/><circle cx="501.7" cy="121.9" r="2.35"/><circle cx="501.9" cy="126.4" r="2.35"/><circle cx="492.8" cy="117.1" r="2.35"/><circle cx="463.5" cy="127.0" r="2.35"/><circle cx="501.6" cy="118.5" r="2.35"/><circle cx="463.9" cy="124.1" r="2.35"/><circle cx="486.6" cy="134.3" r="2.35"/><circle cx="488.2" cy="114.2" r="2.35"/><circle cx="471.1" cy="106.8" r="2.35"/><circle cx="486.3" cy="112.3" r="2.35"/><circle cx="499.1" cy="138.7" r="2.35"/><circle cx="492.5" cy="149.2" r="2.35"/><circle cx="483.2" cy="124.9" r="2.35"/><circle cx="501.2" cy="130.7" r="2.35"/><circle cx="487.2" cy="140.4" r="2.35"/><circle cx="477.7" cy="101.3" r="2.35"/><circle cx="456.8" cy="130.7" r="2.35"/><circle cx="480.4" cy="110.9" r="2.35"/><circle cx="509.8" cy="124.0" r="2.35"/><circle cx="493.3" cy="115.4" r="2.35"/><circle cx="479.9" cy="115.0" r="2.35"/><circle cx="497.9" cy="133.1" r="2.35"/><circle cx="499.5" cy="131.4" r="2.35"/><circle cx="490.4" cy="97.9" r="2.35"/><circle cx="493.2" cy="131.7" r="2.35"/><circle cx="453.2" cy="144.6" r="2.35"/><circle cx="509.9" cy="124.5" r="2.35"/><circle cx="495.7" cy="135.5" r="2.35"/><circle cx="474.5" cy="128.0" r="2.35"/><circle cx="497.5" cy="111.7" r="2.35"/><circle cx="480.0" cy="111.6" r="2.35"/><circle cx="472.3" cy="142.5" r="2.35"/><circle cx="480.2" cy="107.3" r="2.35"/><circle cx="464.5" cy="137.3" r="2.35"/><circle cx="489.1" cy="110.4" r="2.35"/><circle cx="460.5" cy="130.8" r="2.35"/><circle cx="465.6" cy="160.9" r="2.35"/><circle cx="486.0" cy="118.1" r="2.35"/><circle cx="497.1" cy="150.4" r="2.35"/><circle cx="472.7" cy="148.4" r="2.35"/><circle cx="466.7" cy="108.7" r="2.35"/><circle cx="463.8" cy="106.9" r="2.35"/><circle cx="491.1" cy="148.6" r="2.35"/><circle cx="455.6" cy="151.6" r="2.35"/><circle cx="480.3" cy="121.1" r="2.35"/><circle cx="482.0" cy="125.4" r="2.35"/><circle cx="461.9" cy="122.4" r="2.35"/><circle cx="491.4" cy="147.6" r="2.35"/><circle cx="457.8" cy="152.4" r="2.35"/><circle cx="468.1" cy="158.6" r="2.35"/><circle cx="508.6" cy="125.6" r="2.35"/><circle cx="503.6" cy="124.6" r="2.35"/><circle cx="469.6" cy="126.2" r="2.35"/><circle cx="469.6" cy="121.7" r="2.35"/><circle cx="463.3" cy="165.1" r="2.35"/><circle cx="463.9" cy="162.2" r="2.35"/><circle cx="470.7" cy="115.2" r="2.35"/><circle cx="463.0" cy="134.0" r="2.35"/><circle cx="485.7" cy="122.7" r="2.35"/><circle cx="482.2" cy="114.8" r="2.35"/><circle cx="498.5" cy="155.8" r="2.35"/><circle cx="509.1" cy="135.2" r="2.35"/><circle cx="466.2" cy="114.0" r="2.35"/><circle cx="455.8" cy="162.0" r="2.35"/><circle cx="471.5" cy="142.8" r="2.35"/><circle cx="487.9" cy="111.1" r="2.35"/><circle cx="456.9" cy="136.6" r="2.35"/><circle cx="471.4" cy="104.7" r="2.35"/><circle cx="484.6" cy="123.4" r="2.35"/><circle cx="470.8" cy="114.3" r="2.35"/><circle cx="480.9" cy="152.6" r="2.35"/><circle cx="499.5" cy="129.3" r="2.35"/><circle cx="504.7" cy="129.1" r="2.35"/><circle cx="474.0" cy="131.9" r="2.35"/><circle cx="504.6" cy="120.9" r="2.35"/><circle cx="472.6" cy="120.2" r="2.35"/><circle cx="480.4" cy="130.4" r="2.35"/><circle cx="478.6" cy="128.5" r="2.35"/><circle cx="496.0" cy="106.0" r="2.35"/><circle cx="501.3" cy="111.9" r="2.35"/><circle cx="478.5" cy="149.9" r="2.35"/><circle cx="493.4" cy="160.2" r="2.35"/><circle cx="454.0" cy="161.4" r="2.35"/><circle cx="454.4" cy="156.7" r="2.35"/><circle cx="462.6" cy="147.7" r="2.35"/><circle cx="495.3" cy="149.9" r="2.35"/><circle cx="489.7" cy="151.6" r="2.35"/><circle cx="461.4" cy="133.6" r="2.35"/><circle cx="487.5" cy="101.5" r="2.35"/><circle cx="504.7" cy="126.4" r="2.35"/><circle cx="483.2" cy="144.0" r="2.35"/><circle cx="457.7" cy="148.7" r="2.35"/><circle cx="467.3" cy="109.8" r="2.35"/><circle cx="459.6" cy="162.1" r="2.35"/><circle cx="477.7" cy="122.0" r="2.35"/><circle cx="483.1" cy="146.3" r="2.35"/><circle cx="469.7" cy="117.8" r="2.35"/><circle cx="499.3" cy="152.4" r="2.35"/><circle cx="488.0" cy="123.2" r="2.35"/><circle cx="512.1" cy="125.2" r="2.35"/><circle cx="488.4" cy="120.1" r="2.35"/><circle cx="479.0" cy="143.3" r="2.35"/><circle cx="488.5" cy="139.9" r="2.35"/><circle cx="481.4" cy="132.5" r="2.35"/><circle cx="500.6" cy="114.8" r="2.35"/><circle cx="480.8" cy="126.2" r="2.35"/><circle cx="495.7" cy="107.3" r="2.35"/><circle cx="485.8" cy="136.7" r="2.35"/><circle cx="486.1" cy="114.2" r="2.35"/><circle cx="492.3" cy="155.3" r="2.35"/><circle cx="477.8" cy="129.8" r="2.35"/><circle cx="451.6" cy="153.5" r="2.35"/><circle cx="468.1" cy="140.5" r="2.35"/><circle cx="487.4" cy="130.4" r="2.35"/><circle cx="505.5" cy="132.2" r="2.35"/><circle cx="485.2" cy="120.0" r="2.35"/><circle cx="484.2" cy="118.7" r="2.35"/><circle cx="505.0" cy="137.0" r="2.35"/><circle cx="464.5" cy="147.3" r="2.35"/><circle cx="465.2" cy="159.2" r="2.35"/><circle cx="502.8" cy="136.9" r="2.35"/><circle cx="494.9" cy="139.9" r="2.35"/><circle cx="501.5" cy="98.9" r="2.35"/><circle cx="474.9" cy="160.4" r="2.35"/><circle cx="498.9" cy="145.4" r="2.35"/><circle cx="466.2" cy="120.4" r="2.35"/><circle cx="477.1" cy="144.1" r="2.35"/><circle cx="472.3" cy="131.3" r="2.35"/><circle cx="498.2" cy="155.5" r="2.35"/><circle cx="473.2" cy="119.3" r="2.35"/><circle cx="489.3" cy="109.4" r="2.35"/><circle cx="491.6" cy="129.6" r="2.35"/><circle cx="461.6" cy="136.2" r="2.35"/><circle cx="507.2" cy="137.5" r="2.35"/><circle cx="459.6" cy="156.4" r="2.35"/><circle cx="498.9" cy="122.2" r="2.35"/><circle cx="462.3" cy="142.7" r="2.35"/><circle cx="462.6" cy="150.9" r="2.35"/><circle cx="468.7" cy="162.5" r="2.35"/><circle cx="492.5" cy="121.1" r="2.35"/><circle cx="485.8" cy="125.6" r="2.35"/><circle cx="491.2" cy="132.0" r="2.35"/><circle cx="498.8" cy="113.3" r="2.35"/><circle cx="461.5" cy="148.9" r="2.35"/><circle cx="503.1" cy="142.7" r="2.35"/><circle cx="496.3" cy="132.5" r="2.35"/><circle cx="473.4" cy="137.7" r="2.35"/><circle cx="478.4" cy="142.4" r="2.35"/><circle cx="456.0" cy="136.3" r="2.35"/><circle cx="487.3" cy="115.8" r="2.35"/><circle cx="489.6" cy="101.3" r="2.35"/><circle cx="483.4" cy="111.7" r="2.35"/><circle cx="480.0" cy="150.7" r="2.35"/><circle cx="474.1" cy="132.6" r="2.35"/><circle cx="459.4" cy="158.8" r="2.35"/><circle cx="499.2" cy="151.1" r="2.35"/><circle cx="454.2" cy="155.8" r="2.35"/><circle cx="486.1" cy="129.7" r="2.35"/><circle cx="502.5" cy="119.3" r="2.35"/><circle cx="508.0" cy="122.9" r="2.35"/><circle cx="499.7" cy="100.5" r="2.35"/><circle cx="487.7" cy="118.8" r="2.35"/><circle cx="498.8" cy="156.3" r="2.35"/><circle cx="490.1" cy="116.7" r="2.35"/><circle cx="462.4" cy="153.2" r="2.35"/><circle cx="476.1" cy="108.9" r="2.35"/><circle cx="451.7" cy="146.7" r="2.35"/><circle cx="468.7" cy="156.9" r="2.35"/><circle cx="461.7" cy="126.4" r="2.35"/><circle cx="507.2" cy="130.7" r="2.35"/><circle cx="467.1" cy="161.1" r="2.35"/><circle cx="489.8" cy="156.0" r="2.35"/><circle cx="460.1" cy="140.7" r="2.35"/><circle cx="504.1" cy="135.0" r="2.35"/><circle cx="485.5" cy="124.9" r="2.35"/><circle cx="465.2" cy="127.6" r="2.35"/><circle cx="463.7" cy="161.1" r="2.35"/><circle cx="457.0" cy="154.3" r="2.35"/><circle cx="475.7" cy="138.7" r="2.35"/><circle cx="476.4" cy="149.9" r="2.35"/><circle cx="464.4" cy="155.8" r="2.35"/><circle cx="479.8" cy="146.3" r="2.35"/><circle cx="468.0" cy="156.9" r="2.35"/><circle cx="455.9" cy="160.9" r="2.35"/><circle cx="467.3" cy="147.2" r="2.35"/><circle cx="495.9" cy="121.6" r="2.35"/><circle cx="462.2" cy="149.6" r="2.35"/><circle cx="469.9" cy="136.9" r="2.35"/><circle cx="484.8" cy="140.8" r="2.35"/><circle cx="494.2" cy="108.2" r="2.35"/><circle cx="461.6" cy="132.1" r="2.35"/><circle cx="487.1" cy="127.8" r="2.35"/><circle cx="502.4" cy="102.7" r="2.35"/><circle cx="495.3" cy="137.9" r="2.35"/><circle cx="475.0" cy="125.9" r="2.35"/><circle cx="468.8" cy="147.3" r="2.35"/><circle cx="488.7" cy="149.8" r="2.35"/><circle cx="512.6" cy="139.4" r="2.35"/><circle cx="479.4" cy="99.0" r="2.35"/><circle cx="473.8" cy="130.4" r="2.35"/><circle cx="495.7" cy="114.8" r="2.35"/><circle cx="497.4" cy="137.3" r="2.35"/><circle cx="467.8" cy="153.3" r="2.35"/><circle cx="453.6" cy="137.9" r="2.35"/><circle cx="483.1" cy="139.5" r="2.35"/><circle cx="512.2" cy="123.7" r="2.35"/><circle cx="460.4" cy="146.4" r="2.35"/><circle cx="472.0" cy="142.8" r="2.35"/><circle cx="490.2" cy="140.6" r="2.35"/><circle cx="469.2" cy="141.7" r="2.35"/><circle cx="491.6" cy="137.5" r="2.35"/><circle cx="481.1" cy="150.5" r="2.35"/><circle cx="462.2" cy="147.5" r="2.35"/><circle cx="465.4" cy="168.9" r="2.35"/><circle cx="502.8" cy="137.1" r="2.35"/><circle cx="453.3" cy="140.9" r="2.35"/><circle cx="475.3" cy="103.4" r="2.35"/><circle cx="498.8" cy="98.9" r="2.35"/><circle cx="478.2" cy="134.8" r="2.35"/><circle cx="471.2" cy="128.8" r="2.35"/><circle cx="503.0" cy="120.7" r="2.35"/><circle cx="506.4" cy="126.2" r="2.35"/><circle cx="471.3" cy="105.3" r="2.35"/><circle cx="463.6" cy="160.1" r="2.35"/><circle cx="457.3" cy="135.0" r="2.35"/><circle cx="490.0" cy="132.3" r="2.35"/><circle cx="481.9" cy="122.6" r="2.35"/><circle cx="461.4" cy="155.9" r="2.35"/><circle cx="508.0" cy="135.7" r="2.35"/><circle cx="465.3" cy="163.1" r="2.35"/><circle cx="503.7" cy="136.4" r="2.35"/><circle cx="498.7" cy="97.4" r="2.35"/><circle cx="508.3" cy="117.5" r="2.35"/><circle cx="468.7" cy="152.6" r="2.35"/><circle cx="495.4" cy="106.7" r="2.35"/><circle cx="494.1" cy="136.9" r="2.35"/><circle cx="480.6" cy="135.9" r="2.35"/><circle cx="468.9" cy="106.9" r="2.35"/><circle cx="509.0" cy="120.2" r="2.35"/><circle cx="482.5" cy="144.5" r="2.35"/><circle cx="471.1" cy="103.1" r="2.35"/><circle cx="468.8" cy="161.9" r="2.35"/><circle cx="460.5" cy="126.3" r="2.35"/><circle cx="483.2" cy="120.1" r="2.35"/><circle cx="484.2" cy="108.4" r="2.35"/><circle cx="469.2" cy="116.7" r="2.35"/><circle cx="476.2" cy="158.6" r="2.35"/><circle cx="486.5" cy="111.5" r="2.35"/><circle cx="477.7" cy="158.9" r="2.35"/><circle cx="467.4" cy="113.8" r="2.35"/><circle cx="501.5" cy="97.5" r="2.35"/><circle cx="492.6" cy="98.3" r="2.35"/><circle cx="458.3" cy="138.7" r="2.35"/><circle cx="505.0" cy="127.0" r="2.35"/><circle cx="466.8" cy="140.4" r="2.35"/><circle cx="473.6" cy="131.2" r="2.35"/><circle cx="466.8" cy="143.1" r="2.35"/><circle cx="465.6" cy="162.5" r="2.35"/><circle cx="471.9" cy="108.8" r="2.35"/><circle cx="462.9" cy="160.8" r="2.35"/><circle cx="476.2" cy="126.2" r="2.35"/><circle cx="499.3" cy="110.3" r="2.35"/><circle cx="470.3" cy="131.1" r="2.35"/><circle cx="465.8" cy="118.7" r="2.35"/><circle cx="462.7" cy="110.4" r="2.35"/><circle cx="498.2" cy="138.8" r="2.35"/><circle cx="478.2" cy="128.5" r="2.35"/><circle cx="489.2" cy="145.2" r="2.35"/><circle cx="479.3" cy="118.3" r="2.35"/><circle cx="477.6" cy="126.0" r="2.35"/><circle cx="465.5" cy="151.3" r="2.35"/><circle cx="483.6" cy="114.4" r="2.35"/><circle cx="503.3" cy="126.6" r="2.35"/><circle cx="491.8" cy="103.5" r="2.35"/><circle cx="464.5" cy="107.4" r="2.35"/><circle cx="473.3" cy="141.6" r="2.35"/><circle cx="476.8" cy="143.4" r="2.35"/><circle cx="503.3" cy="122.6" r="2.35"/><circle cx="488.5" cy="112.8" r="2.35"/><circle cx="478.7" cy="141.3" r="2.35"/><circle cx="471.8" cy="106.5" r="2.35"/><circle cx="467.5" cy="132.4" r="2.35"/><circle cx="475.1" cy="119.0" r="2.35"/><circle cx="470.0" cy="108.4" r="2.35"/><circle cx="482.1" cy="138.6" r="2.35"/><circle cx="454.6" cy="137.8" r="2.35"/><circle cx="457.4" cy="146.1" r="2.35"/><circle cx="485.4" cy="144.5" r="2.35"/><circle cx="468.8" cy="107.7" r="2.35"/><circle cx="484.8" cy="137.8" r="2.35"/><circle cx="472.0" cy="159.0" r="2.35"/><circle cx="494.7" cy="106.7" r="2.35"/><circle cx="502.1" cy="101.4" r="2.35"/><circle cx="461.3" cy="138.5" r="2.35"/><circle cx="479.4" cy="146.2" r="2.35"/><circle cx="455.2" cy="160.2" r="2.35"/><circle cx="477.8" cy="149.4" r="2.35"/><circle cx="488.8" cy="126.4" r="2.35"/><circle cx="468.1" cy="128.0" r="2.35"/><circle cx="503.3" cy="100.8" r="2.35"/><circle cx="504.8" cy="120.8" r="2.35"/><circle cx="483.7" cy="137.6" r="2.35"/><circle cx="496.2" cy="116.4" r="2.35"/><circle cx="468.8" cy="150.3" r="2.35"/><circle cx="473.6" cy="138.7" r="2.35"/><circle cx="469.9" cy="156.8" r="2.35"/><circle cx="500.1" cy="107.2" r="2.35"/><circle cx="464.4" cy="106.4" r="2.35"/><circle cx="457.3" cy="152.4" r="2.35"/><circle cx="500.3" cy="114.8" r="2.35"/><circle cx="500.7" cy="131.4" r="2.35"/><circle cx="479.9" cy="101.2" r="2.35"/><circle cx="491.8" cy="146.5" r="2.35"/><circle cx="495.7" cy="151.4" r="2.35"/><circle cx="538.6" cy="41.8" r="2.35"/><circle cx="498.0" cy="52.3" r="2.35"/><circle cx="496.5" cy="55.4" r="2.35"/><circle cx="475.1" cy="63.2" r="2.35"/><circle cx="516.1" cy="60.2" r="2.35"/><circle cx="529.6" cy="61.7" r="2.35"/><circle cx="535.2" cy="63.2" r="2.35"/><circle cx="529.6" cy="69.2" r="2.35"/><circle cx="501.4" cy="70.7" r="2.35"/><circle cx="473.9" cy="76.4" r="2.35"/><circle cx="492.7" cy="77.7" r="2.35"/><circle cx="461.8" cy="82.0" r="2.35"/><circle cx="458.1" cy="84.3" r="2.35"/><circle cx="467.1" cy="85.0" r="2.35"/><circle cx="505.5" cy="84.0" r="2.35"/><circle cx="520.3" cy="83.1" r="2.35"/><circle cx="583.2" cy="23.6" r="2.35"/><circle cx="577.3" cy="30.5" r="2.35"/><circle cx="559.6" cy="46.2" r="2.35"/><circle cx="585.9" cy="42.1" r="2.35"/><circle cx="596.5" cy="40.3" r="2.35"/><circle cx="606.3" cy="44.7" r="2.35"/><circle cx="619.1" cy="38.8" r="2.35"/><circle cx="581.4" cy="50.4" r="2.35"/><circle cx="580.7" cy="51.9" r="2.35"/><circle cx="615.0" cy="50.4" r="2.35"/><circle cx="616.1" cy="52.3" r="2.35"/><circle cx="595.3" cy="57.5" r="2.35"/><circle cx="603.0" cy="56.4" r="2.35"/><circle cx="609.7" cy="63.5" r="2.35"/><circle cx="593.5" cy="65.9" r="2.35"/><circle cx="590.5" cy="68.5" r="2.35"/><circle cx="561.4" cy="72.5" r="2.35"/><circle cx="571.2" cy="73.4" r="2.35"/><circle cx="564.8" cy="78.3" r="2.35"/><circle cx="567.9" cy="76.7" r="2.35"/><circle cx="572.4" cy="78.0" r="2.35"/><circle cx="590.2" cy="75.7" r="2.35"/><circle cx="555.1" cy="79.5" r="2.35"/><circle cx="556.3" cy="81.0" r="2.35"/><circle cx="554.3" cy="85.0" r="2.35"/><circle cx="461.8" cy="83.0" r="2.35"/><circle cx="467.9" cy="86.8" r="2.35"/><circle cx="469.4" cy="89.0" r="2.35"/><circle cx="480.7" cy="89.0" r="2.35"/><circle cx="462.6" cy="101.1" r="2.35"/><circle cx="506.3" cy="84.5" r="2.35"/><circle cx="506.3" cy="87.5" r="2.35"/><circle cx="520.6" cy="83.8" r="2.35"/><circle cx="513.8" cy="90.8" r="2.35"/><circle cx="519.5" cy="89.8" r="2.35"/><circle cx="521.3" cy="93.5" r="2.35"/><circle cx="522.1" cy="96.6" r="2.35"/><circle cx="510.8" cy="97.3" r="2.35"/><circle cx="522.1" cy="101.1" r="2.35"/><circle cx="536.4" cy="101.8" r="2.35"/><circle cx="510.8" cy="103.3" r="2.35"/><circle cx="510.8" cy="108.6" r="2.35"/><circle cx="518.3" cy="107.1" r="2.35"/><circle cx="525.8" cy="105.6" r="2.35"/><circle cx="528.9" cy="110.1" r="2.35"/><circle cx="515.3" cy="113.1" r="2.35"/><circle cx="513.8" cy="117.6" r="2.35"/><circle cx="518.3" cy="120.7" r="2.35"/><circle cx="528.1" cy="119.1" r="2.35"/><circle cx="533.4" cy="121.4" r="2.35"/><circle cx="521.3" cy="125.9" r="2.35"/><circle cx="525.8" cy="124.4" r="2.35"/><circle cx="512.3" cy="126.7" r="2.35"/><circle cx="516.1" cy="131.2" r="2.35"/><circle cx="516.8" cy="134.2" r="2.35"/><circle cx="453.6" cy="134.2" r="2.35"/><circle cx="509.3" cy="144.7" r="2.35"/><circle cx="524.3" cy="146.3" r="2.35"/><circle cx="452.0" cy="146.3" r="2.35"/><circle cx="451.7" cy="152.4" r="2.35"/><circle cx="466.3" cy="174.3" r="2.35"/><circle cx="472.1" cy="176.2" r="2.35"/><circle cx="479.4" cy="174.3" r="2.35"/><circle cx="479.4" cy="179.1" r="2.35"/><circle cx="485.3" cy="179.1" r="2.35"/><circle cx="483.8" cy="166.3" r="2.35"/><circle cx="493.3" cy="165.5" r="2.35"/><circle cx="496.9" cy="168.5" r="2.35"/><circle cx="495.5" cy="172.8" r="2.35"/><circle cx="504.2" cy="178.0" r="2.35"/><circle cx="511.2" cy="163.1" r="2.35"/><circle cx="521.0" cy="166.6" r="2.35"/><circle cx="523.9" cy="146.1" r="2.35"/><circle cx="511.5" cy="144.4" r="2.35"/><circle cx="507.9" cy="142.2" r="2.35"/><circle cx="511.8" cy="187.0" r="2.35"/><circle cx="518.8" cy="183.5" r="2.35"/><circle cx="502.8" cy="151.7" r="2.35"/><circle cx="554.1" cy="86.0" r="2.35"/><circle cx="544.3" cy="93.2" r="2.35"/><circle cx="540.8" cy="98.4" r="2.35"/><circle cx="552.1" cy="101.1" r="2.35"/><circle cx="563.4" cy="96.9" r="2.35"/><circle cx="580.5" cy="96.3" r="2.35"/><circle cx="553.6" cy="119.9" r="2.35"/><circle cx="545.1" cy="141.7" r="2.35"/><circle cx="500.2" cy="96.9" r="2.35"/><circle cx="510.5" cy="97.6" r="2.35"/><circle cx="520.2" cy="96.3" r="2.35"/><circle cx="522.1" cy="100.8" r="2.35"/><circle cx="511.1" cy="104.0" r="2.35"/><circle cx="510.5" cy="108.5" r="2.35"/><circle cx="518.2" cy="107.3" r="2.35"/><circle cx="526.6" cy="107.3" r="2.35"/><circle cx="528.5" cy="109.8" r="2.35"/><circle cx="514.4" cy="113.1" r="2.35"/><circle cx="515.6" cy="116.3" r="2.35"/><circle cx="511.1" cy="118.9" r="2.35"/><circle cx="518.2" cy="120.8" r="2.35"/><circle cx="528.5" cy="118.2" r="2.35"/><circle cx="533.1" cy="121.5" r="2.35"/><circle cx="521.5" cy="125.3" r="2.35"/><circle cx="526.0" cy="124.7" r="2.35"/><circle cx="511.8" cy="126.6" r="2.35"/><circle cx="516.3" cy="130.5" r="2.35"/><circle cx="516.3" cy="133.7" r="2.35"/><circle cx="507.9" cy="131.1" r="2.35"/><circle cx="509.8" cy="132.4" r="2.35"/><circle cx="507.3" cy="137.6" r="2.35"/><circle cx="507.3" cy="144.0" r="2.35"/><circle cx="511.1" cy="144.7" r="2.35"/><circle cx="524.0" cy="146.0" r="2.35"/><circle cx="502.7" cy="149.2" r="2.35"/><circle cx="502.1" cy="152.4" r="2.35"/><circle cx="463.1" cy="100.2" r="2.35"/><circle cx="461.1" cy="101.5" r="2.35"/><circle cx="470.2" cy="97.6" r="2.35"/><circle cx="476.0" cy="93.1" r="2.35"/><circle cx="478.5" cy="95.6" r="2.35"/><circle cx="481.1" cy="88.9" r="2.35"/><circle cx="468.2" cy="86.6" r="2.35"/><circle cx="469.5" cy="88.5" r="2.35"/><circle cx="457.9" cy="84.7" r="2.35"/><circle cx="461.8" cy="81.5" r="2.35"/><circle cx="474.0" cy="76.3" r="2.35"/><circle cx="492.7" cy="77.6" r="2.35"/><circle cx="486.3" cy="95.6" r="2.35"/><circle cx="483.8" cy="165.5" r="2.35"/><circle cx="493.3" cy="166.3" r="2.35"/><circle cx="496.9" cy="168.5" r="2.35"/><circle cx="470.0" cy="167.0" r="2.35"/><circle cx="475.0" cy="166.0" r="2.35"/><circle cx="486.0" cy="162.0" r="2.35"/><circle cx="462.0" cy="168.0" r="2.35"/><circle cx="457.0" cy="164.0" r="2.35"/></g>
<g fill="#5B9BD5"><circle cx="109.0" cy="355.2" r="2.35"/><circle cx="114.5" cy="419.9" r="2.35"/><circle cx="108.6" cy="389.6" r="2.35"/><circle cx="110.4" cy="360.7" r="2.35"/><circle cx="107.6" cy="371.6" r="2.35"/><circle cx="122.0" cy="405.1" r="2.35"/><circle cx="123.5" cy="387.2" r="2.35"/><circle cx="107.1" cy="384.6" r="2.35"/><circle cx="129.9" cy="390.5" r="2.35"/><circle cx="118.1" cy="379.9" r="2.35"/><circle cx="121.1" cy="381.2" r="2.35"/><circle cx="106.6" cy="371.2" r="2.35"/><circle cx="122.0" cy="369.3" r="2.35"/><circle cx="118.9" cy="384.4" r="2.35"/><circle cx="107.7" cy="379.8" r="2.35"/><circle cx="107.9" cy="397.2" r="2.35"/><circle cx="113.0" cy="406.3" r="2.35"/><circle cx="111.8" cy="391.3" r="2.35"/><circle cx="126.6" cy="395.9" r="2.35"/><circle cx="109.1" cy="373.3" r="2.35"/><circle cx="107.1" cy="383.4" r="2.35"/><circle cx="114.8" cy="421.9" r="2.35"/><circle cx="121.8" cy="411.9" r="2.35"/><circle cx="110.9" cy="362.2" r="2.35"/><circle cx="115.9" cy="357.8" r="2.35"/><circle cx="113.9" cy="423.4" r="2.35"/><circle cx="113.2" cy="370.1" r="2.35"/><circle cx="115.3" cy="363.5" r="2.35"/><circle cx="117.5" cy="366.8" r="2.35"/><circle cx="118.8" cy="408.4" r="2.35"/><circle cx="109.2" cy="379.6" r="2.35"/><circle cx="109.2" cy="363.5" r="2.35"/><circle cx="114.6" cy="418.5" r="2.35"/><circle cx="122.9" cy="409.8" r="2.35"/><circle cx="125.9" cy="386.2" r="2.35"/><circle cx="118.7" cy="399.0" r="2.35"/><circle cx="124.0" cy="368.3" r="2.35"/><circle cx="116.9" cy="388.8" r="2.35"/><circle cx="120.9" cy="385.8" r="2.35"/><circle cx="129.9" cy="395.3" r="2.35"/><circle cx="113.2" cy="407.9" r="2.35"/><circle cx="127.3" cy="371.7" r="2.35"/><circle cx="109.0" cy="385.6" r="2.35"/><circle cx="130.6" cy="387.7" r="2.35"/><circle cx="115.6" cy="415.1" r="2.35"/><circle cx="130.5" cy="362.6" r="2.35"/><circle cx="129.0" cy="380.5" r="2.35"/><circle cx="127.7" cy="360.3" r="2.35"/><circle cx="130.2" cy="361.0" r="2.35"/><circle cx="117.6" cy="373.9" r="2.35"/><circle cx="119.2" cy="418.8" r="2.35"/><circle cx="111.6" cy="390.3" r="2.35"/><circle cx="117.4" cy="403.8" r="2.35"/><circle cx="117.3" cy="353.0" r="2.35"/><circle cx="122.0" cy="400.7" r="2.35"/><circle cx="121.4" cy="371.9" r="2.35"/><circle cx="121.6" cy="382.1" r="2.35"/><circle cx="113.2" cy="399.6" r="2.35"/><circle cx="113.6" cy="392.7" r="2.35"/><circle cx="112.8" cy="396.3" r="2.35"/><circle cx="111.2" cy="348.8" r="2.35"/><circle cx="120.6" cy="386.3" r="2.35"/><circle cx="122.8" cy="400.6" r="2.35"/><circle cx="125.9" cy="396.1" r="2.35"/><circle cx="128.8" cy="371.0" r="2.35"/><circle cx="111.5" cy="365.3" r="2.35"/><circle cx="112.0" cy="396.8" r="2.35"/><circle cx="114.5" cy="378.8" r="2.35"/><circle cx="128.3" cy="369.5" r="2.35"/><circle cx="119.1" cy="402.0" r="2.35"/><circle cx="121.6" cy="375.9" r="2.35"/><circle cx="125.5" cy="399.0" r="2.35"/><circle cx="125.1" cy="391.5" r="2.35"/><circle cx="124.2" cy="404.5" r="2.35"/><circle cx="119.5" cy="386.9" r="2.35"/><circle cx="117.3" cy="352.4" r="2.35"/><circle cx="109.7" cy="378.1" r="2.35"/><circle cx="114.0" cy="380.6" r="2.35"/><circle cx="108.9" cy="390.9" r="2.35"/><circle cx="117.0" cy="404.1" r="2.35"/><circle cx="113.8" cy="414.3" r="2.35"/><circle cx="128.9" cy="393.6" r="2.35"/><circle cx="131.5" cy="371.2" r="2.35"/><circle cx="131.0" cy="394.6" r="2.35"/><circle cx="122.2" cy="367.3" r="2.35"/><circle cx="123.1" cy="402.5" r="2.35"/><circle cx="121.3" cy="388.9" r="2.35"/><circle cx="134.0" cy="375.0" r="2.35"/><circle cx="124.9" cy="386.5" r="2.35"/><circle cx="119.3" cy="394.5" r="2.35"/><circle cx="109.5" cy="362.9" r="2.35"/><circle cx="128.6" cy="387.4" r="2.35"/><circle cx="121.9" cy="396.4" r="2.35"/><circle cx="102.3" cy="385.0" r="2.35"/><circle cx="113.1" cy="417.7" r="2.35"/><circle cx="114.1" cy="395.0" r="2.35"/><circle cx="111.1" cy="401.8" r="2.35"/><circle cx="110.4" cy="407.0" r="2.35"/><circle cx="122.0" cy="413.8" r="2.35"/><circle cx="111.9" cy="396.2" r="2.35"/><circle cx="109.7" cy="387.6" r="2.35"/><circle cx="130.8" cy="386.6" r="2.35"/><circle cx="109.3" cy="414.0" r="2.35"/><circle cx="123.1" cy="419.0" r="2.35"/><circle cx="107.2" cy="363.4" r="2.35"/><circle cx="112.0" cy="373.1" r="2.35"/><circle cx="123.4" cy="413.9" r="2.35"/><circle cx="119.3" cy="389.9" r="2.35"/><circle cx="113.2" cy="406.1" r="2.35"/><circle cx="108.5" cy="365.9" r="2.35"/><circle cx="120.3" cy="362.4" r="2.35"/><circle cx="121.9" cy="374.3" r="2.35"/><circle cx="113.3" cy="403.2" r="2.35"/><circle cx="132.4" cy="386.5" r="2.35"/><circle cx="111.4" cy="404.1" r="2.35"/><circle cx="114.2" cy="358.1" r="2.35"/><circle cx="113.7" cy="383.8" r="2.35"/><circle cx="113.0" cy="382.4" r="2.35"/><circle cx="130.9" cy="385.2" r="2.35"/><circle cx="121.1" cy="404.5" r="2.35"/><circle cx="107.3" cy="369.7" r="2.35"/><circle cx="115.6" cy="372.0" r="2.35"/><circle cx="122.3" cy="360.5" r="2.35"/><circle cx="112.7" cy="400.7" r="2.35"/><circle cx="109.8" cy="373.6" r="2.35"/><circle cx="119.0" cy="390.2" r="2.35"/><circle cx="113.3" cy="415.5" r="2.35"/><circle cx="107.7" cy="384.4" r="2.35"/><circle cx="121.3" cy="390.2" r="2.35"/><circle cx="129.9" cy="363.6" r="2.35"/><circle cx="110.6" cy="401.9" r="2.35"/><circle cx="110.8" cy="380.1" r="2.35"/><circle cx="103.6" cy="381.4" r="2.35"/><circle cx="115.3" cy="419.5" r="2.35"/><circle cx="128.4" cy="363.0" r="2.35"/><circle cx="118.4" cy="380.7" r="2.35"/><circle cx="123.4" cy="397.0" r="2.35"/><circle cx="118.2" cy="390.6" r="2.35"/><circle cx="115.7" cy="357.8" r="2.35"/><circle cx="112.0" cy="373.9" r="2.35"/><circle cx="110.4" cy="393.6" r="2.35"/><circle cx="119.3" cy="380.7" r="2.35"/><circle cx="111.3" cy="375.5" r="2.35"/><circle cx="126.4" cy="388.7" r="2.35"/><circle cx="119.0" cy="366.7" r="2.35"/><circle cx="121.9" cy="360.5" r="2.35"/><circle cx="117.2" cy="398.7" r="2.35"/><circle cx="119.3" cy="393.1" r="2.35"/><circle cx="120.1" cy="362.4" r="2.35"/><circle cx="116.2" cy="373.4" r="2.35"/><circle cx="111.3" cy="372.1" r="2.35"/><circle cx="111.2" cy="372.1" r="2.35"/><circle cx="108.1" cy="385.4" r="2.35"/><circle cx="110.9" cy="376.3" r="2.35"/><circle cx="123.2" cy="372.0" r="2.35"/><circle cx="112.1" cy="413.3" r="2.35"/><circle cx="123.0" cy="391.1" r="2.35"/><circle cx="108.6" cy="366.5" r="2.35"/><circle cx="115.9" cy="405.1" r="2.35"/><circle cx="110.8" cy="354.1" r="2.35"/><circle cx="112.8" cy="401.2" r="2.35"/><circle cx="126.4" cy="392.5" r="2.35"/><circle cx="117.5" cy="421.4" r="2.35"/><circle cx="115.6" cy="405.0" r="2.35"/><circle cx="114.2" cy="353.9" r="2.35"/><circle cx="114.1" cy="363.7" r="2.35"/><circle cx="105.4" cy="383.3" r="2.35"/><circle cx="111.7" cy="400.2" r="2.35"/><circle cx="130.7" cy="378.4" r="2.35"/><circle cx="124.8" cy="381.5" r="2.35"/><circle cx="120.3" cy="396.4" r="2.35"/><circle cx="131.9" cy="369.6" r="2.35"/><circle cx="122.1" cy="400.4" r="2.35"/><circle cx="109.1" cy="361.7" r="2.35"/><circle cx="130.3" cy="375.2" r="2.35"/><circle cx="115.2" cy="380.2" r="2.35"/><circle cx="124.4" cy="407.6" r="2.35"/><circle cx="125.8" cy="369.3" r="2.35"/><circle cx="105.9" cy="375.6" r="2.35"/><circle cx="110.0" cy="403.9" r="2.35"/><circle cx="125.8" cy="374.6" r="2.35"/><circle cx="118.1" cy="407.0" r="2.35"/><circle cx="125.8" cy="400.1" r="2.35"/><circle cx="109.6" cy="396.4" r="2.35"/><circle cx="130.1" cy="371.2" r="2.35"/><circle cx="126.8" cy="359.3" r="2.35"/><circle cx="120.3" cy="368.7" r="2.35"/><circle cx="115.8" cy="404.3" r="2.35"/><circle cx="122.4" cy="364.8" r="2.35"/><circle cx="121.6" cy="360.8" r="2.35"/><circle cx="127.6" cy="364.5" r="2.35"/><circle cx="112.8" cy="392.6" r="2.35"/><circle cx="120.4" cy="403.2" r="2.35"/><circle cx="105.1" cy="366.9" r="2.35"/><circle cx="129.8" cy="373.8" r="2.35"/><circle cx="114.0" cy="363.4" r="2.35"/><circle cx="109.4" cy="385.9" r="2.35"/><circle cx="114.1" cy="352.6" r="2.35"/><circle cx="115.4" cy="412.0" r="2.35"/><circle cx="116.3" cy="415.6" r="2.35"/><circle cx="118.7" cy="414.9" r="2.35"/><circle cx="113.4" cy="391.9" r="2.35"/><circle cx="109.4" cy="397.8" r="2.35"/><circle cx="119.9" cy="417.0" r="2.35"/><circle cx="124.2" cy="378.0" r="2.35"/><circle cx="119.3" cy="398.7" r="2.35"/><circle cx="121.6" cy="362.0" r="2.35"/><circle cx="130.6" cy="389.9" r="2.35"/><circle cx="111.4" cy="353.4" r="2.35"/><circle cx="116.5" cy="354.5" r="2.35"/><circle cx="118.8" cy="369.1" r="2.35"/><circle cx="120.5" cy="368.4" r="2.35"/><circle cx="114.4" cy="394.5" r="2.35"/><circle cx="106.6" cy="386.0" r="2.35"/><circle cx="130.6" cy="374.3" r="2.35"/><circle cx="124.7" cy="362.1" r="2.35"/><circle cx="112.3" cy="349.5" r="2.35"/><circle cx="125.4" cy="383.9" r="2.35"/><circle cx="118.8" cy="357.2" r="2.35"/><circle cx="106.9" cy="376.0" r="2.35"/><circle cx="118.3" cy="412.1" r="2.35"/><circle cx="116.1" cy="373.0" r="2.35"/><circle cx="113.6" cy="390.3" r="2.35"/><circle cx="121.2" cy="395.5" r="2.35"/><circle cx="106.5" cy="387.4" r="2.35"/><circle cx="107.0" cy="377.5" r="2.35"/><circle cx="107.1" cy="372.4" r="2.35"/><circle cx="122.0" cy="378.7" r="2.35"/><circle cx="106.8" cy="384.2" r="2.35"/><circle cx="123.4" cy="370.9" r="2.35"/><circle cx="110.2" cy="381.6" r="2.35"/><circle cx="115.1" cy="376.6" r="2.35"/><circle cx="112.8" cy="376.1" r="2.35"/><circle cx="120.3" cy="377.8" r="2.35"/><circle cx="105.5" cy="384.4" r="2.35"/><circle cx="116.0" cy="375.8" r="2.35"/><circle cx="126.6" cy="358.8" r="2.35"/><circle cx="121.9" cy="387.8" r="2.35"/><circle cx="123.5" cy="412.7" r="2.35"/><circle cx="123.9" cy="369.2" r="2.35"/><circle cx="114.7" cy="410.8" r="2.35"/><circle cx="127.4" cy="391.1" r="2.35"/><circle cx="112.5" cy="367.3" r="2.35"/><circle cx="114.1" cy="351.7" r="2.35"/><circle cx="121.5" cy="380.9" r="2.35"/><circle cx="110.0" cy="355.1" r="2.35"/><circle cx="110.4" cy="418.3" r="2.35"/><circle cx="114.1" cy="408.8" r="2.35"/><circle cx="118.5" cy="382.6" r="2.35"/><circle cx="118.3" cy="369.7" r="2.35"/><circle cx="112.8" cy="369.1" r="2.35"/><circle cx="122.2" cy="382.0" r="2.35"/><circle cx="118.4" cy="398.5" r="2.35"/><circle cx="111.0" cy="399.9" r="2.35"/><circle cx="114.0" cy="389.3" r="2.35"/><circle cx="126.3" cy="373.6" r="2.35"/><circle cx="112.0" cy="396.3" r="2.35"/><circle cx="113.6" cy="414.3" r="2.35"/><circle cx="112.7" cy="364.5" r="2.35"/><circle cx="121.4" cy="394.5" r="2.35"/><circle cx="115.2" cy="382.6" r="2.35"/><circle cx="122.8" cy="387.1" r="2.35"/><circle cx="120.7" cy="378.9" r="2.35"/><circle cx="130.7" cy="367.3" r="2.35"/><circle cx="117.6" cy="359.6" r="2.35"/><circle cx="109.7" cy="395.1" r="2.35"/><circle cx="106.1" cy="378.6" r="2.35"/><circle cx="113.4" cy="421.9" r="2.35"/><circle cx="118.1" cy="384.2" r="2.35"/><circle cx="106.6" cy="374.5" r="2.35"/><circle cx="113.3" cy="375.4" r="2.35"/><circle cx="119.7" cy="391.2" r="2.35"/><circle cx="116.7" cy="382.0" r="2.35"/><circle cx="121.4" cy="385.5" r="2.35"/><circle cx="114.8" cy="414.7" r="2.35"/><circle cx="105.6" cy="390.3" r="2.35"/><circle cx="122.2" cy="411.9" r="2.35"/><circle cx="122.8" cy="392.4" r="2.35"/><circle cx="115.8" cy="397.3" r="2.35"/><circle cx="106.5" cy="390.1" r="2.35"/><circle cx="109.2" cy="410.1" r="2.35"/><circle cx="118.1" cy="370.8" r="2.35"/><circle cx="115.8" cy="404.8" r="2.35"/><circle cx="125.5" cy="363.2" r="2.35"/><circle cx="120.3" cy="416.6" r="2.35"/><circle cx="112.5" cy="397.9" r="2.35"/><circle cx="116.7" cy="358.8" r="2.35"/><circle cx="113.2" cy="403.0" r="2.35"/><circle cx="119.6" cy="414.2" r="2.35"/><circle cx="117.5" cy="392.0" r="2.35"/><circle cx="118.4" cy="400.5" r="2.35"/><circle cx="120.4" cy="378.4" r="2.35"/><circle cx="124.9" cy="368.6" r="2.35"/><circle cx="115.1" cy="376.3" r="2.35"/><circle cx="109.9" cy="366.3" r="2.35"/><circle cx="125.9" cy="382.5" r="2.35"/><circle cx="125.1" cy="399.5" r="2.35"/><circle cx="117.1" cy="358.5" r="2.35"/><circle cx="120.1" cy="365.2" r="2.35"/><circle cx="108.8" cy="391.5" r="2.35"/><circle cx="110.0" cy="370.7" r="2.35"/><circle cx="127.2" cy="391.7" r="2.35"/><circle cx="114.2" cy="383.1" r="2.35"/><circle cx="115.9" cy="396.9" r="2.35"/><circle cx="127.3" cy="385.3" r="2.35"/><circle cx="131.1" cy="370.6" r="2.35"/><circle cx="125.5" cy="362.3" r="2.35"/><circle cx="117.4" cy="381.4" r="2.35"/><circle cx="122.3" cy="389.1" r="2.35"/><circle cx="118.7" cy="396.4" r="2.35"/><circle cx="112.7" cy="399.6" r="2.35"/><circle cx="114.4" cy="393.5" r="2.35"/><circle cx="124.9" cy="371.6" r="2.35"/><circle cx="115.3" cy="360.0" r="2.35"/><circle cx="106.8" cy="384.5" r="2.35"/><circle cx="126.3" cy="363.6" r="2.35"/><circle cx="125.0" cy="392.6" r="2.35"/><circle cx="110.3" cy="409.8" r="2.35"/><circle cx="114.4" cy="357.7" r="2.35"/><circle cx="128.3" cy="359.5" r="2.35"/><circle cx="130.3" cy="365.8" r="2.35"/><circle cx="109.9" cy="378.1" r="2.35"/><circle cx="125.2" cy="362.5" r="2.35"/><circle cx="111.7" cy="352.3" r="2.35"/><circle cx="121.1" cy="418.3" r="2.35"/><circle cx="110.5" cy="397.4" r="2.35"/><circle cx="115.6" cy="373.8" r="2.35"/><circle cx="115.7" cy="405.4" r="2.35"/><circle cx="123.3" cy="408.7" r="2.35"/><circle cx="118.9" cy="373.0" r="2.35"/><circle cx="113.2" cy="390.4" r="2.35"/><circle cx="108.1" cy="365.4" r="2.35"/><circle cx="109.3" cy="368.2" r="2.35"/><circle cx="108.1" cy="370.7" r="2.35"/><circle cx="113.5" cy="420.8" r="2.35"/><circle cx="119.9" cy="383.6" r="2.35"/><circle cx="119.9" cy="393.1" r="2.35"/><circle cx="124.0" cy="397.1" r="2.35"/><circle cx="127.8" cy="368.5" r="2.35"/><circle cx="121.3" cy="385.8" r="2.35"/><circle cx="109.1" cy="387.6" r="2.35"/><circle cx="120.4" cy="407.4" r="2.35"/><circle cx="106.5" cy="380.9" r="2.35"/><circle cx="126.3" cy="399.8" r="2.35"/><circle cx="117.0" cy="397.8" r="2.35"/><circle cx="118.8" cy="355.0" r="2.35"/><circle cx="123.8" cy="382.4" r="2.35"/><circle cx="124.3" cy="364.3" r="2.35"/><circle cx="114.3" cy="377.2" r="2.35"/><circle cx="110.3" cy="354.9" r="2.35"/><circle cx="113.5" cy="415.8" r="2.35"/><circle cx="112.4" cy="384.8" r="2.35"/><circle cx="127.1" cy="387.0" r="2.35"/><circle cx="123.6" cy="386.1" r="2.35"/><circle cx="115.1" cy="378.1" r="2.35"/><circle cx="127.7" cy="399.9" r="2.35"/><circle cx="116.1" cy="374.8" r="2.35"/><circle cx="113.4" cy="387.7" r="2.35"/><circle cx="113.2" cy="380.9" r="2.35"/><circle cx="126.6" cy="362.8" r="2.35"/><circle cx="118.8" cy="395.7" r="2.35"/><circle cx="130.1" cy="388.7" r="2.35"/><circle cx="118.2" cy="385.1" r="2.35"/><circle cx="119.7" cy="423.2" r="2.35"/><circle cx="105.5" cy="388.4" r="2.35"/><circle cx="129.6" cy="371.2" r="2.35"/><circle cx="110.9" cy="363.9" r="2.35"/><circle cx="119.9" cy="364.2" r="2.35"/><circle cx="119.8" cy="386.8" r="2.35"/><circle cx="124.3" cy="366.4" r="2.35"/><circle cx="124.0" cy="407.2" r="2.35"/><circle cx="112.6" cy="393.3" r="2.35"/><circle cx="113.8" cy="401.0" r="2.35"/><circle cx="124.5" cy="386.4" r="2.35"/><circle cx="118.1" cy="414.3" r="2.35"/><circle cx="112.6" cy="417.2" r="2.35"/><circle cx="128.0" cy="365.5" r="2.35"/><circle cx="122.6" cy="408.9" r="2.35"/><circle cx="125.1" cy="370.1" r="2.35"/><circle cx="112.9" cy="361.4" r="2.35"/><circle cx="117.5" cy="381.3" r="2.35"/><circle cx="125.8" cy="398.6" r="2.35"/><circle cx="130.7" cy="372.7" r="2.35"/><circle cx="111.8" cy="409.5" r="2.35"/><circle cx="123.6" cy="407.7" r="2.35"/><circle cx="124.9" cy="378.9" r="2.35"/><circle cx="130.1" cy="389.2" r="2.35"/><circle cx="111.8" cy="414.2" r="2.35"/><circle cx="107.6" cy="392.8" r="2.35"/><circle cx="117.1" cy="407.3" r="2.35"/><circle cx="110.5" cy="386.5" r="2.35"/><circle cx="118.0" cy="422.1" r="2.35"/><circle cx="117.7" cy="388.0" r="2.35"/><circle cx="130.4" cy="383.6" r="2.35"/><circle cx="116.2" cy="381.4" r="2.35"/><circle cx="109.3" cy="368.8" r="2.35"/><circle cx="113.4" cy="352.2" r="2.35"/><circle cx="116.6" cy="408.9" r="2.35"/><circle cx="113.3" cy="416.1" r="2.35"/><circle cx="132.9" cy="372.1" r="2.35"/><circle cx="129.1" cy="370.5" r="2.35"/><circle cx="111.0" cy="392.2" r="2.35"/><circle cx="115.5" cy="405.8" r="2.35"/><circle cx="123.3" cy="393.1" r="2.35"/><circle cx="128.3" cy="358.4" r="2.35"/><circle cx="110.6" cy="360.9" r="2.35"/><circle cx="130.9" cy="378.1" r="2.35"/><circle cx="112.1" cy="367.5" r="2.35"/><circle cx="118.8" cy="391.7" r="2.35"/><circle cx="111.7" cy="391.7" r="2.35"/><circle cx="120.4" cy="399.4" r="2.35"/><circle cx="109.8" cy="354.4" r="2.35"/><circle cx="109.8" cy="361.0" r="2.35"/><circle cx="109.2" cy="392.4" r="2.35"/><circle cx="116.8" cy="377.4" r="2.35"/><circle cx="121.6" cy="378.8" r="2.35"/><circle cx="119.4" cy="374.4" r="2.35"/><circle cx="106.3" cy="385.0" r="2.35"/><circle cx="123.6" cy="387.0" r="2.35"/><circle cx="111.6" cy="385.8" r="2.35"/><circle cx="105.8" cy="384.2" r="2.35"/><circle cx="120.0" cy="421.2" r="2.35"/><circle cx="119.9" cy="399.7" r="2.35"/><circle cx="133.4" cy="321.3" r="2.35"/><circle cx="115.1" cy="330.3" r="2.35"/><circle cx="115.9" cy="332.4" r="2.35"/><circle cx="112.0" cy="336.8" r="2.35"/><circle cx="114.6" cy="338.6" r="2.35"/><circle cx="121.5" cy="339.4" r="2.35"/><circle cx="115.3" cy="343.8" r="2.35"/><circle cx="123.1" cy="349.0" r="2.35"/><circle cx="131.4" cy="352.3" r="2.35"/><circle cx="139.1" cy="347.2" r="2.35"/><circle cx="145.6" cy="349.7" r="2.35"/><circle cx="140.4" cy="356.2" r="2.35"/><circle cx="144.3" cy="354.9" r="2.35"/><circle cx="146.9" cy="353.6" r="2.35"/><circle cx="109.4" cy="352.3" r="2.35"/><circle cx="131.4" cy="365.3" r="2.35"/><circle cx="145.6" cy="366.5" r="2.35"/><circle cx="143.0" cy="370.4" r="2.35"/><circle cx="140.4" cy="376.9" r="2.35"/><circle cx="145.6" cy="375.6" r="2.35"/><circle cx="137.8" cy="376.9" r="2.35"/><circle cx="101.6" cy="380.8" r="2.35"/><circle cx="137.8" cy="388.5" r="2.35"/><circle cx="143.0" cy="385.9" r="2.35"/><circle cx="148.2" cy="391.1" r="2.35"/><circle cx="131.4" cy="396.3" r="2.35"/><circle cx="102.9" cy="397.6" r="2.35"/><circle cx="104.2" cy="409.2" r="2.35"/><circle cx="122.3" cy="411.8" r="2.35"/><circle cx="115.9" cy="419.6" r="2.35"/><circle cx="122.3" cy="422.1" r="2.35"/><circle cx="114.6" cy="426.0" r="2.35"/><circle cx="113.3" cy="431.2" r="2.35"/><circle cx="115.9" cy="428.1" r="2.35"/><circle cx="158.9" cy="294.8" r="2.35"/><circle cx="151.4" cy="303.3" r="2.35"/><circle cx="177.7" cy="342.7" r="2.35"/><circle cx="143.8" cy="355.0" r="2.35"/><circle cx="146.8" cy="354.5" r="2.35"/><circle cx="143.8" cy="355.8" r="2.35"/><circle cx="146.0" cy="366.3" r="2.35"/><circle cx="143.0" cy="370.1" r="2.35"/><circle cx="156.6" cy="367.8" r="2.35"/><circle cx="164.1" cy="370.1" r="2.35"/><circle cx="185.9" cy="363.7" r="2.35"/><circle cx="140.8" cy="376.8" r="2.35"/><circle cx="145.3" cy="376.8" r="2.35"/><circle cx="155.1" cy="378.3" r="2.35"/><circle cx="156.6" cy="379.8" r="2.35"/><circle cx="161.1" cy="377.3" r="2.35"/><circle cx="164.1" cy="376.4" r="2.35"/><circle cx="168.6" cy="378.3" r="2.35"/><circle cx="171.6" cy="377.3" r="2.35"/><circle cx="187.0" cy="376.5" r="2.35"/><circle cx="143.3" cy="384.8" r="2.35"/><circle cx="196.0" cy="384.4" r="2.35"/><circle cx="149.5" cy="391.1" r="2.35"/><circle cx="159.6" cy="391.9" r="2.35"/><circle cx="164.5" cy="395.4" r="2.35"/><circle cx="61.0" cy="338.5" r="2.35"/><circle cx="64.0" cy="383.3" r="2.35"/><circle cx="70.4" cy="386.4" r="2.35"/><circle cx="60.3" cy="389.1" r="2.35"/><circle cx="103.2" cy="396.8" r="2.35"/><circle cx="104.5" cy="409.0" r="2.35"/><circle cx="114.8" cy="343.4" r="2.35"/><circle cx="121.2" cy="340.4" r="2.35"/><circle cx="123.8" cy="349.0" r="2.35"/><circle cx="131.1" cy="351.6" r="2.35"/><circle cx="138.9" cy="347.3" r="2.35"/><circle cx="139.8" cy="356.4" r="2.35"/><circle cx="143.2" cy="354.6" r="2.35"/><circle cx="132.4" cy="365.4" r="2.35"/><circle cx="143.2" cy="369.3" r="2.35"/><circle cx="119.0" cy="353.0" r="2.35"/><circle cx="122.0" cy="355.0" r="2.35"/><circle cx="124.5" cy="357.5" r="2.35"/><circle cx="127.0" cy="360.0" r="2.35"/><circle cx="117.0" cy="351.5" r="2.35"/><circle cx="121.0" cy="357.0" r="2.35"/><circle cx="125.0" cy="361.0" r="2.35"/></g>
<g fill="#5B9BD5"><circle cx="525.4" cy="337.3" r="2.35"/><circle cx="536.8" cy="347.5" r="2.35"/><circle cx="556.5" cy="332.1" r="2.35"/><circle cx="552.4" cy="301.9" r="2.35"/><circle cx="510.6" cy="309.4" r="2.35"/><circle cx="517.8" cy="327.9" r="2.35"/><circle cx="539.3" cy="304.5" r="2.35"/><circle cx="542.3" cy="303.3" r="2.35"/><circle cx="524.9" cy="302.6" r="2.35"/><circle cx="517.3" cy="333.7" r="2.35"/><circle cx="551.7" cy="312.3" r="2.35"/><circle cx="494.3" cy="329.5" r="2.35"/><circle cx="544.4" cy="322.6" r="2.35"/><circle cx="495.7" cy="322.6" r="2.35"/><circle cx="533.4" cy="298.7" r="2.35"/><circle cx="559.5" cy="296.8" r="2.35"/><circle cx="537.7" cy="343.1" r="2.35"/><circle cx="500.6" cy="328.1" r="2.35"/><circle cx="498.5" cy="315.5" r="2.35"/><circle cx="515.9" cy="339.2" r="2.35"/><circle cx="542.3" cy="344.0" r="2.35"/><circle cx="524.3" cy="347.3" r="2.35"/><circle cx="517.9" cy="313.1" r="2.35"/><circle cx="560.7" cy="325.6" r="2.35"/><circle cx="522.6" cy="342.1" r="2.35"/><circle cx="509.3" cy="319.3" r="2.35"/><circle cx="468.3" cy="323.3" r="2.35"/><circle cx="546.3" cy="302.8" r="2.35"/><circle cx="536.0" cy="349.1" r="2.35"/><circle cx="526.2" cy="339.9" r="2.35"/><circle cx="493.7" cy="321.0" r="2.35"/><circle cx="559.6" cy="321.1" r="2.35"/><circle cx="512.4" cy="336.6" r="2.35"/><circle cx="511.5" cy="311.9" r="2.35"/><circle cx="558.1" cy="330.8" r="2.35"/><circle cx="513.5" cy="314.6" r="2.35"/><circle cx="540.8" cy="344.4" r="2.35"/><circle cx="500.1" cy="339.8" r="2.35"/><circle cx="540.2" cy="334.7" r="2.35"/><circle cx="529.4" cy="338.3" r="2.35"/><circle cx="500.3" cy="335.2" r="2.35"/><circle cx="492.3" cy="322.9" r="2.35"/><circle cx="539.7" cy="334.5" r="2.35"/><circle cx="528.0" cy="328.2" r="2.35"/><circle cx="466.3" cy="326.3" r="2.35"/><circle cx="489.4" cy="333.4" r="2.35"/><circle cx="510.0" cy="341.5" r="2.35"/><circle cx="527.8" cy="340.5" r="2.35"/><circle cx="498.8" cy="331.8" r="2.35"/><circle cx="536.6" cy="342.2" r="2.35"/><circle cx="549.4" cy="334.3" r="2.35"/><circle cx="515.3" cy="325.3" r="2.35"/><circle cx="555.9" cy="322.4" r="2.35"/><circle cx="532.1" cy="336.1" r="2.35"/><circle cx="535.8" cy="305.2" r="2.35"/><circle cx="540.7" cy="328.2" r="2.35"/><circle cx="529.6" cy="319.2" r="2.35"/><circle cx="525.5" cy="339.2" r="2.35"/><circle cx="526.8" cy="336.1" r="2.35"/><circle cx="507.8" cy="332.2" r="2.35"/><circle cx="486.4" cy="334.2" r="2.35"/><circle cx="510.8" cy="308.2" r="2.35"/><circle cx="510.2" cy="316.9" r="2.35"/><circle cx="524.4" cy="328.8" r="2.35"/><circle cx="492.1" cy="318.6" r="2.35"/><circle cx="524.5" cy="300.8" r="2.35"/><circle cx="517.9" cy="314.6" r="2.35"/><circle cx="521.4" cy="349.5" r="2.35"/><circle cx="544.4" cy="319.1" r="2.35"/><circle cx="543.8" cy="331.7" r="2.35"/><circle cx="522.8" cy="327.3" r="2.35"/><circle cx="524.1" cy="315.3" r="2.35"/><circle cx="551.6" cy="295.5" r="2.35"/><circle cx="475.6" cy="327.4" r="2.35"/><circle cx="524.7" cy="303.4" r="2.35"/><circle cx="526.1" cy="345.8" r="2.35"/><circle cx="501.5" cy="319.8" r="2.35"/><circle cx="559.3" cy="316.9" r="2.35"/><circle cx="522.8" cy="310.1" r="2.35"/><circle cx="560.1" cy="323.5" r="2.35"/><circle cx="505.4" cy="313.5" r="2.35"/><circle cx="560.4" cy="323.2" r="2.35"/><circle cx="492.9" cy="322.4" r="2.35"/><circle cx="477.0" cy="330.5" r="2.35"/><circle cx="508.1" cy="312.0" r="2.35"/><circle cx="540.8" cy="342.1" r="2.35"/><circle cx="466.4" cy="325.5" r="2.35"/><circle cx="540.8" cy="309.3" r="2.35"/><circle cx="524.0" cy="322.3" r="2.35"/><circle cx="527.6" cy="329.5" r="2.35"/><circle cx="537.1" cy="302.1" r="2.35"/><circle cx="538.8" cy="312.4" r="2.35"/><circle cx="516.8" cy="314.4" r="2.35"/><circle cx="493.9" cy="325.4" r="2.35"/><circle cx="510.1" cy="315.8" r="2.35"/><circle cx="537.3" cy="328.8" r="2.35"/><circle cx="509.3" cy="347.2" r="2.35"/><circle cx="551.1" cy="326.3" r="2.35"/><circle cx="506.6" cy="328.0" r="2.35"/><circle cx="533.7" cy="331.1" r="2.35"/><circle cx="511.8" cy="346.9" r="2.35"/><circle cx="506.5" cy="388.5" r="2.35"/><circle cx="525.3" cy="362.2" r="2.35"/><circle cx="517.3" cy="370.8" r="2.35"/><circle cx="522.0" cy="385.9" r="2.35"/><circle cx="505.3" cy="352.1" r="2.35"/><circle cx="527.5" cy="370.1" r="2.35"/><circle cx="515.8" cy="382.9" r="2.35"/><circle cx="509.3" cy="392.9" r="2.35"/><circle cx="503.2" cy="374.9" r="2.35"/><circle cx="530.6" cy="367.8" r="2.35"/><circle cx="508.9" cy="369.6" r="2.35"/><circle cx="503.3" cy="360.7" r="2.35"/><circle cx="515.6" cy="372.9" r="2.35"/><circle cx="509.4" cy="361.1" r="2.35"/><circle cx="509.0" cy="371.3" r="2.35"/><circle cx="511.1" cy="351.8" r="2.35"/><circle cx="527.5" cy="375.6" r="2.35"/><circle cx="521.7" cy="359.1" r="2.35"/><circle cx="506.1" cy="365.6" r="2.35"/><circle cx="524.1" cy="382.5" r="2.35"/><circle cx="527.3" cy="380.7" r="2.35"/><circle cx="511.5" cy="377.0" r="2.35"/><circle cx="517.6" cy="377.0" r="2.35"/><circle cx="503.5" cy="361.6" r="2.35"/><circle cx="526.3" cy="369.3" r="2.35"/><circle cx="507.6" cy="375.3" r="2.35"/><circle cx="523.5" cy="380.9" r="2.35"/><circle cx="513.7" cy="370.4" r="2.35"/><circle cx="517.7" cy="385.5" r="2.35"/><circle cx="518.1" cy="368.3" r="2.35"/><circle cx="517.1" cy="352.2" r="2.35"/><circle cx="503.8" cy="382.1" r="2.35"/><circle cx="514.2" cy="358.4" r="2.35"/><circle cx="525.5" cy="374.9" r="2.35"/><circle cx="528.2" cy="361.2" r="2.35"/><circle cx="519.8" cy="371.3" r="2.35"/><circle cx="510.5" cy="375.2" r="2.35"/><circle cx="529.0" cy="383.8" r="2.35"/><circle cx="526.7" cy="373.9" r="2.35"/><circle cx="519.3" cy="369.8" r="2.35"/><circle cx="504.1" cy="389.6" r="2.35"/><circle cx="519.5" cy="359.7" r="2.35"/><circle cx="517.6" cy="372.4" r="2.35"/><circle cx="513.1" cy="366.2" r="2.35"/><circle cx="518.6" cy="378.6" r="2.35"/><circle cx="520.8" cy="371.2" r="2.35"/><circle cx="503.3" cy="361.1" r="2.35"/><circle cx="507.8" cy="376.8" r="2.35"/><circle cx="510.1" cy="388.3" r="2.35"/><circle cx="503.0" cy="351.5" r="2.35"/><circle cx="525.1" cy="361.9" r="2.35"/><circle cx="505.7" cy="378.6" r="2.35"/><circle cx="512.8" cy="353.9" r="2.35"/><circle cx="507.2" cy="374.3" r="2.35"/><circle cx="507.5" cy="363.0" r="2.35"/><circle cx="523.8" cy="371.1" r="2.35"/><circle cx="512.1" cy="371.9" r="2.35"/><circle cx="503.2" cy="368.0" r="2.35"/><circle cx="515.1" cy="359.2" r="2.35"/><circle cx="505.7" cy="390.9" r="2.35"/><circle cx="517.7" cy="360.1" r="2.35"/><circle cx="520.6" cy="387.2" r="2.35"/><circle cx="503.1" cy="351.6" r="2.35"/><circle cx="506.8" cy="382.8" r="2.35"/><circle cx="507.3" cy="382.2" r="2.35"/><circle cx="522.8" cy="375.1" r="2.35"/><circle cx="526.4" cy="373.8" r="2.35"/><circle cx="509.1" cy="379.7" r="2.35"/><circle cx="514.3" cy="376.5" r="2.35"/><circle cx="512.1" cy="378.9" r="2.35"/><circle cx="504.2" cy="364.1" r="2.35"/><circle cx="511.6" cy="389.0" r="2.35"/><circle cx="511.8" cy="392.6" r="2.35"/><circle cx="524.7" cy="369.4" r="2.35"/><circle cx="510.0" cy="351.2" r="2.35"/><circle cx="519.5" cy="358.5" r="2.35"/><circle cx="523.5" cy="373.5" r="2.35"/><circle cx="513.8" cy="366.3" r="2.35"/><circle cx="508.6" cy="380.8" r="2.35"/><circle cx="515.4" cy="359.5" r="2.35"/><circle cx="505.6" cy="380.5" r="2.35"/><circle cx="511.3" cy="373.1" r="2.35"/><circle cx="512.2" cy="389.6" r="2.35"/><circle cx="508.5" cy="365.4" r="2.35"/><circle cx="512.6" cy="360.3" r="2.35"/><circle cx="530.4" cy="366.1" r="2.35"/><circle cx="528.9" cy="381.4" r="2.35"/><circle cx="509.5" cy="383.1" r="2.35"/><circle cx="505.0" cy="358.4" r="2.35"/><circle cx="529.7" cy="360.3" r="2.35"/><circle cx="525.2" cy="377.5" r="2.35"/><circle cx="527.6" cy="367.2" r="2.35"/><circle cx="512.7" cy="363.8" r="2.35"/><circle cx="528.4" cy="377.7" r="2.35"/><circle cx="506.5" cy="375.4" r="2.35"/><circle cx="505.6" cy="352.6" r="2.35"/><circle cx="504.7" cy="389.4" r="2.35"/><circle cx="512.7" cy="378.2" r="2.35"/><circle cx="525.9" cy="367.7" r="2.35"/><circle cx="519.6" cy="360.8" r="2.35"/><circle cx="504.9" cy="362.7" r="2.35"/><circle cx="529.1" cy="376.0" r="2.35"/><circle cx="510.8" cy="385.9" r="2.35"/><circle cx="505.9" cy="390.2" r="2.35"/><circle cx="503.7" cy="361.5" r="2.35"/><circle cx="505.9" cy="358.3" r="2.35"/><circle cx="509.7" cy="383.9" r="2.35"/><circle cx="505.5" cy="391.4" r="2.35"/><circle cx="529.7" cy="363.9" r="2.35"/><circle cx="510.0" cy="372.1" r="2.35"/><circle cx="505.5" cy="379.9" r="2.35"/><circle cx="503.6" cy="351.3" r="2.35"/><circle cx="531.9" cy="364.0" r="2.35"/><circle cx="520.3" cy="370.9" r="2.35"/><circle cx="511.8" cy="353.6" r="2.35"/><circle cx="508.9" cy="378.3" r="2.35"/><circle cx="523.1" cy="380.3" r="2.35"/><circle cx="510.2" cy="374.9" r="2.35"/><circle cx="511.7" cy="361.8" r="2.35"/><circle cx="504.9" cy="363.3" r="2.35"/><circle cx="522.0" cy="379.5" r="2.35"/><circle cx="511.6" cy="365.4" r="2.35"/><circle cx="511.9" cy="388.5" r="2.35"/><circle cx="529.2" cy="364.3" r="2.35"/><circle cx="512.5" cy="375.1" r="2.35"/><circle cx="519.8" cy="377.4" r="2.35"/><circle cx="487.8" cy="357.5" r="2.35"/><circle cx="484.4" cy="381.7" r="2.35"/><circle cx="483.1" cy="345.4" r="2.35"/><circle cx="475.0" cy="364.4" r="2.35"/><circle cx="502.8" cy="376.6" r="2.35"/><circle cx="466.3" cy="335.5" r="2.35"/><circle cx="476.8" cy="358.3" r="2.35"/><circle cx="472.3" cy="404.7" r="2.35"/><circle cx="480.1" cy="377.9" r="2.35"/><circle cx="459.3" cy="373.9" r="2.35"/><circle cx="461.7" cy="404.9" r="2.35"/><circle cx="494.2" cy="361.2" r="2.35"/><circle cx="460.6" cy="393.6" r="2.35"/><circle cx="490.2" cy="369.9" r="2.35"/><circle cx="480.3" cy="372.2" r="2.35"/><circle cx="501.5" cy="373.1" r="2.35"/><circle cx="496.5" cy="361.2" r="2.35"/><circle cx="476.6" cy="378.5" r="2.35"/><circle cx="478.0" cy="350.5" r="2.35"/><circle cx="469.3" cy="389.2" r="2.35"/><circle cx="460.8" cy="406.1" r="2.35"/><circle cx="466.3" cy="406.3" r="2.35"/><circle cx="468.5" cy="410.1" r="2.35"/><circle cx="489.8" cy="373.4" r="2.35"/><circle cx="479.7" cy="385.3" r="2.35"/><circle cx="483.4" cy="357.8" r="2.35"/><circle cx="463.1" cy="374.0" r="2.35"/><circle cx="502.0" cy="383.0" r="2.35"/><circle cx="500.5" cy="348.1" r="2.35"/><circle cx="491.8" cy="337.3" r="2.35"/><circle cx="486.9" cy="354.7" r="2.35"/><circle cx="464.1" cy="403.4" r="2.35"/><circle cx="465.1" cy="349.6" r="2.35"/><circle cx="499.1" cy="366.8" r="2.35"/><circle cx="490.3" cy="335.1" r="2.35"/><circle cx="461.1" cy="387.0" r="2.35"/><circle cx="453.3" cy="391.6" r="2.35"/><circle cx="465.6" cy="398.4" r="2.35"/><circle cx="470.4" cy="382.4" r="2.35"/><circle cx="491.7" cy="341.7" r="2.35"/><circle cx="477.3" cy="350.8" r="2.35"/><circle cx="487.3" cy="358.2" r="2.35"/><circle cx="458.8" cy="379.9" r="2.35"/><circle cx="473.0" cy="374.2" r="2.35"/><circle cx="484.4" cy="366.5" r="2.35"/><circle cx="457.1" cy="384.0" r="2.35"/><circle cx="465.4" cy="380.4" r="2.35"/><circle cx="489.9" cy="353.3" r="2.35"/><circle cx="474.6" cy="375.2" r="2.35"/><circle cx="473.8" cy="341.6" r="2.35"/><circle cx="490.7" cy="352.1" r="2.35"/><circle cx="464.3" cy="350.2" r="2.35"/><circle cx="479.8" cy="370.2" r="2.35"/><circle cx="468.5" cy="384.5" r="2.35"/><circle cx="463.3" cy="405.9" r="2.35"/><circle cx="475.2" cy="374.0" r="2.35"/><circle cx="483.1" cy="336.7" r="2.35"/><circle cx="474.3" cy="375.1" r="2.35"/><circle cx="494.9" cy="362.2" r="2.35"/><circle cx="453.0" cy="388.0" r="2.35"/><circle cx="468.3" cy="400.6" r="2.35"/><circle cx="473.9" cy="371.9" r="2.35"/><circle cx="463.1" cy="380.2" r="2.35"/><circle cx="502.0" cy="338.8" r="2.35"/><circle cx="492.4" cy="348.1" r="2.35"/><circle cx="482.5" cy="364.3" r="2.35"/><circle cx="476.7" cy="393.6" r="2.35"/><circle cx="473.1" cy="342.4" r="2.35"/><circle cx="497.5" cy="384.4" r="2.35"/><circle cx="490.7" cy="372.9" r="2.35"/><circle cx="471.1" cy="369.6" r="2.35"/><circle cx="494.7" cy="354.3" r="2.35"/><circle cx="480.1" cy="371.2" r="2.35"/><circle cx="467.8" cy="351.3" r="2.35"/><circle cx="478.1" cy="353.6" r="2.35"/><circle cx="474.8" cy="387.5" r="2.35"/><circle cx="501.1" cy="380.0" r="2.35"/><circle cx="495.7" cy="340.3" r="2.35"/><circle cx="474.3" cy="338.0" r="2.35"/><circle cx="486.6" cy="343.0" r="2.35"/><circle cx="467.8" cy="351.3" r="2.35"/><circle cx="487.9" cy="387.7" r="2.35"/><circle cx="475.4" cy="375.0" r="2.35"/><circle cx="457.9" cy="376.3" r="2.35"/><circle cx="465.7" cy="405.0" r="2.35"/><circle cx="476.6" cy="389.5" r="2.35"/><circle cx="482.6" cy="344.3" r="2.35"/><circle cx="499.2" cy="347.2" r="2.35"/><circle cx="479.3" cy="371.6" r="2.35"/><circle cx="473.6" cy="390.1" r="2.35"/><circle cx="491.9" cy="385.9" r="2.35"/><circle cx="464.0" cy="382.9" r="2.35"/><circle cx="473.5" cy="386.6" r="2.35"/><circle cx="504.3" cy="384.0" r="2.35"/><circle cx="476.8" cy="390.2" r="2.35"/><circle cx="491.0" cy="381.7" r="2.35"/><circle cx="462.6" cy="392.8" r="2.35"/><circle cx="483.3" cy="348.1" r="2.35"/><circle cx="495.0" cy="343.7" r="2.35"/><circle cx="484.7" cy="367.7" r="2.35"/><circle cx="465.5" cy="378.4" r="2.35"/><circle cx="477.0" cy="349.2" r="2.35"/><circle cx="503.7" cy="338.5" r="2.35"/><circle cx="477.9" cy="400.3" r="2.35"/><circle cx="477.9" cy="387.2" r="2.35"/><circle cx="469.9" cy="354.2" r="2.35"/><circle cx="478.9" cy="334.8" r="2.35"/><circle cx="492.3" cy="346.6" r="2.35"/><circle cx="473.6" cy="387.2" r="2.35"/><circle cx="472.4" cy="370.2" r="2.35"/><circle cx="471.6" cy="376.1" r="2.35"/><circle cx="472.4" cy="368.4" r="2.35"/><circle cx="498.6" cy="357.5" r="2.35"/><circle cx="486.7" cy="371.7" r="2.35"/><circle cx="486.9" cy="364.4" r="2.35"/><circle cx="497.0" cy="340.1" r="2.35"/><circle cx="485.9" cy="364.2" r="2.35"/><circle cx="485.6" cy="357.5" r="2.35"/><circle cx="464.4" cy="369.6" r="2.35"/><circle cx="464.4" cy="355.0" r="2.35"/><circle cx="472.2" cy="362.1" r="2.35"/><circle cx="469.0" cy="338.8" r="2.35"/><circle cx="476.4" cy="346.0" r="2.35"/><circle cx="475.6" cy="356.2" r="2.35"/><circle cx="475.6" cy="384.3" r="2.35"/><circle cx="501.7" cy="359.0" r="2.35"/><circle cx="488.3" cy="362.8" r="2.35"/><circle cx="471.0" cy="396.9" r="2.35"/><circle cx="464.4" cy="398.0" r="2.35"/><circle cx="485.8" cy="365.0" r="2.35"/><circle cx="496.0" cy="360.3" r="2.35"/><circle cx="478.9" cy="388.4" r="2.35"/><circle cx="487.9" cy="362.3" r="2.35"/><circle cx="473.1" cy="346.7" r="2.35"/><circle cx="503.2" cy="361.2" r="2.35"/><circle cx="499.8" cy="347.7" r="2.35"/><circle cx="503.4" cy="342.8" r="2.35"/><circle cx="470.7" cy="361.6" r="2.35"/><circle cx="492.7" cy="367.9" r="2.35"/><circle cx="481.0" cy="351.7" r="2.35"/><circle cx="496.6" cy="364.1" r="2.35"/><circle cx="467.2" cy="384.2" r="2.35"/><circle cx="460.0" cy="358.2" r="2.35"/><circle cx="501.5" cy="340.3" r="2.35"/><circle cx="474.5" cy="352.8" r="2.35"/><circle cx="470.3" cy="352.5" r="2.35"/><circle cx="464.8" cy="382.0" r="2.35"/><circle cx="470.0" cy="362.7" r="2.35"/><circle cx="493.1" cy="337.6" r="2.35"/><circle cx="459.7" cy="401.4" r="2.35"/><circle cx="475.0" cy="395.6" r="2.35"/><circle cx="459.1" cy="374.9" r="2.35"/><circle cx="497.2" cy="359.9" r="2.35"/><circle cx="493.1" cy="382.0" r="2.35"/><circle cx="477.3" cy="382.7" r="2.35"/><circle cx="468.9" cy="400.4" r="2.35"/><circle cx="483.9" cy="380.2" r="2.35"/><circle cx="476.3" cy="365.9" r="2.35"/><circle cx="480.0" cy="336.3" r="2.35"/><circle cx="500.9" cy="338.8" r="2.35"/><circle cx="468.3" cy="397.2" r="2.35"/><circle cx="470.7" cy="346.6" r="2.35"/><circle cx="459.8" cy="386.8" r="2.35"/><circle cx="486.7" cy="336.6" r="2.35"/><circle cx="500.1" cy="352.1" r="2.35"/><circle cx="477.7" cy="377.8" r="2.35"/><circle cx="459.4" cy="373.2" r="2.35"/><circle cx="479.9" cy="387.8" r="2.35"/><circle cx="498.8" cy="343.9" r="2.35"/><circle cx="478.3" cy="343.2" r="2.35"/><circle cx="463.5" cy="363.3" r="2.35"/><circle cx="479.1" cy="406.8" r="2.35"/><circle cx="463.2" cy="363.1" r="2.35"/><circle cx="467.9" cy="367.4" r="2.35"/><circle cx="474.8" cy="364.8" r="2.35"/><circle cx="482.1" cy="370.8" r="2.35"/><circle cx="467.2" cy="394.5" r="2.35"/><circle cx="489.4" cy="385.8" r="2.35"/><circle cx="462.4" cy="379.5" r="2.35"/><circle cx="486.5" cy="383.2" r="2.35"/><circle cx="484.0" cy="335.7" r="2.35"/><circle cx="457.7" cy="384.0" r="2.35"/><circle cx="481.1" cy="347.7" r="2.35"/><circle cx="500.1" cy="370.1" r="2.35"/><circle cx="467.6" cy="349.5" r="2.35"/><circle cx="500.3" cy="378.6" r="2.35"/><circle cx="474.0" cy="366.2" r="2.35"/><circle cx="490.5" cy="369.4" r="2.35"/><circle cx="487.2" cy="342.4" r="2.35"/><circle cx="489.5" cy="354.6" r="2.35"/><circle cx="500.7" cy="349.9" r="2.35"/><circle cx="469.8" cy="376.1" r="2.35"/><circle cx="473.0" cy="375.1" r="2.35"/><circle cx="501.4" cy="348.8" r="2.35"/><circle cx="475.9" cy="369.4" r="2.35"/><circle cx="470.5" cy="370.9" r="2.35"/><circle cx="465.6" cy="348.0" r="2.35"/><circle cx="477.4" cy="348.1" r="2.35"/><circle cx="477.1" cy="379.0" r="2.35"/><circle cx="468.5" cy="346.4" r="2.35"/><circle cx="463.8" cy="382.4" r="2.35"/><circle cx="488.5" cy="357.5" r="2.35"/><circle cx="463.0" cy="400.3" r="2.35"/><circle cx="462.5" cy="357.9" r="2.35"/><circle cx="469.0" cy="353.3" r="2.35"/><circle cx="490.7" cy="360.3" r="2.35"/><circle cx="475.5" cy="366.5" r="2.35"/><circle cx="484.4" cy="363.0" r="2.35"/><circle cx="486.5" cy="372.7" r="2.35"/><circle cx="460.0" cy="356.8" r="2.35"/><circle cx="462.8" cy="389.5" r="2.35"/><circle cx="498.8" cy="380.4" r="2.35"/><circle cx="489.5" cy="375.0" r="2.35"/><circle cx="464.5" cy="349.8" r="2.35"/><circle cx="455.3" cy="386.4" r="2.35"/><circle cx="485.2" cy="364.2" r="2.35"/><circle cx="475.3" cy="411.1" r="2.35"/><circle cx="477.4" cy="363.3" r="2.35"/><circle cx="463.5" cy="350.7" r="2.35"/><circle cx="480.5" cy="398.7" r="2.35"/><circle cx="454.8" cy="389.8" r="2.35"/><circle cx="479.5" cy="340.7" r="2.35"/><circle cx="479.3" cy="374.6" r="2.35"/><circle cx="493.8" cy="379.6" r="2.35"/><circle cx="459.5" cy="358.6" r="2.35"/><circle cx="484.9" cy="384.9" r="2.35"/><circle cx="502.4" cy="340.8" r="2.35"/><circle cx="481.8" cy="339.6" r="2.35"/><circle cx="487.8" cy="368.0" r="2.35"/><circle cx="459.5" cy="357.7" r="2.35"/><circle cx="477.3" cy="409.0" r="2.35"/><circle cx="470.2" cy="407.2" r="2.35"/><circle cx="484.4" cy="341.2" r="2.35"/><circle cx="493.9" cy="362.0" r="2.35"/><circle cx="499.9" cy="373.8" r="2.35"/><circle cx="498.1" cy="338.8" r="2.35"/><circle cx="480.9" cy="381.9" r="2.35"/><circle cx="475.3" cy="366.5" r="2.35"/><circle cx="494.3" cy="345.7" r="2.35"/><circle cx="488.0" cy="356.4" r="2.35"/><circle cx="500.4" cy="335.8" r="2.35"/><circle cx="473.5" cy="406.2" r="2.35"/><circle cx="457.9" cy="380.9" r="2.35"/><circle cx="464.4" cy="347.9" r="2.35"/><circle cx="478.7" cy="355.3" r="2.35"/><circle cx="486.8" cy="336.8" r="2.35"/><circle cx="479.6" cy="375.3" r="2.35"/><circle cx="473.5" cy="406.6" r="2.35"/><circle cx="458.7" cy="367.1" r="2.35"/><circle cx="479.6" cy="368.2" r="2.35"/><circle cx="475.4" cy="409.5" r="2.35"/><circle cx="494.7" cy="385.0" r="2.35"/><circle cx="460.6" cy="380.7" r="2.35"/><circle cx="458.8" cy="361.0" r="2.35"/><circle cx="486.1" cy="378.7" r="2.35"/><circle cx="465.4" cy="368.4" r="2.35"/><circle cx="476.8" cy="366.8" r="2.35"/><circle cx="466.4" cy="350.3" r="2.35"/><circle cx="495.9" cy="382.9" r="2.35"/><circle cx="481.3" cy="378.6" r="2.35"/><circle cx="488.7" cy="352.6" r="2.35"/><circle cx="490.1" cy="362.1" r="2.35"/><circle cx="497.3" cy="369.9" r="2.35"/><circle cx="487.5" cy="377.6" r="2.35"/><circle cx="480.6" cy="369.9" r="2.35"/><circle cx="474.4" cy="373.5" r="2.35"/><circle cx="458.2" cy="381.0" r="2.35"/><circle cx="472.9" cy="382.4" r="2.35"/><circle cx="492.9" cy="388.9" r="2.35"/><circle cx="494.7" cy="360.8" r="2.35"/><circle cx="459.8" cy="386.4" r="2.35"/><circle cx="486.7" cy="365.6" r="2.35"/><circle cx="495.2" cy="365.5" r="2.35"/><circle cx="500.8" cy="378.7" r="2.35"/><circle cx="473.6" cy="384.9" r="2.35"/><circle cx="487.8" cy="386.6" r="2.35"/><circle cx="473.4" cy="335.8" r="2.35"/><circle cx="471.4" cy="381.5" r="2.35"/><circle cx="491.2" cy="347.0" r="2.35"/><circle cx="496.6" cy="358.9" r="2.35"/><circle cx="501.2" cy="368.6" r="2.35"/><circle cx="490.2" cy="336.7" r="2.35"/><circle cx="469.6" cy="371.3" r="2.35"/><circle cx="498.8" cy="384.3" r="2.35"/><circle cx="482.7" cy="350.6" r="2.35"/><circle cx="484.7" cy="346.0" r="2.35"/><circle cx="468.2" cy="399.8" r="2.35"/><circle cx="482.4" cy="391.3" r="2.35"/><circle cx="476.9" cy="355.2" r="2.35"/><circle cx="478.9" cy="379.0" r="2.35"/><circle cx="464.9" cy="401.0" r="2.35"/><circle cx="464.0" cy="380.0" r="2.35"/><circle cx="464.7" cy="402.4" r="2.35"/><circle cx="483.4" cy="373.9" r="2.35"/><circle cx="460.6" cy="365.4" r="2.35"/><circle cx="471.3" cy="347.1" r="2.35"/><circle cx="462.6" cy="389.2" r="2.35"/><circle cx="493.6" cy="348.5" r="2.35"/><circle cx="461.8" cy="364.6" r="2.35"/><circle cx="468.3" cy="378.8" r="2.35"/><circle cx="477.2" cy="342.4" r="2.35"/><circle cx="499.0" cy="369.3" r="2.35"/><circle cx="503.4" cy="337.7" r="2.35"/><circle cx="477.8" cy="338.6" r="2.35"/><circle cx="495.2" cy="375.2" r="2.35"/><circle cx="494.7" cy="355.8" r="2.35"/><circle cx="463.1" cy="366.3" r="2.35"/><circle cx="458.7" cy="380.1" r="2.35"/><circle cx="476.8" cy="348.6" r="2.35"/><circle cx="493.9" cy="345.0" r="2.35"/><circle cx="464.2" cy="382.6" r="2.35"/><circle cx="460.3" cy="407.2" r="2.35"/><circle cx="493.4" cy="373.4" r="2.35"/><circle cx="502.9" cy="382.3" r="2.35"/><circle cx="462.4" cy="377.3" r="2.35"/><circle cx="492.3" cy="343.6" r="2.35"/><circle cx="488.2" cy="371.5" r="2.35"/><circle cx="467.7" cy="337.7" r="2.35"/><circle cx="458.1" cy="399.0" r="2.35"/><circle cx="470.8" cy="401.0" r="2.35"/><circle cx="460.3" cy="356.9" r="2.35"/><circle cx="480.6" cy="339.8" r="2.35"/><circle cx="501.7" cy="378.8" r="2.35"/><circle cx="493.6" cy="351.2" r="2.35"/><circle cx="469.9" cy="339.9" r="2.35"/><circle cx="461.9" cy="367.9" r="2.35"/><circle cx="474.0" cy="385.7" r="2.35"/><circle cx="496.6" cy="359.6" r="2.35"/><circle cx="454.2" cy="388.0" r="2.35"/><circle cx="474.5" cy="394.5" r="2.35"/><circle cx="463.9" cy="354.3" r="2.35"/><circle cx="461.4" cy="386.1" r="2.35"/><circle cx="485.2" cy="390.0" r="2.35"/><circle cx="480.7" cy="358.0" r="2.35"/><circle cx="478.9" cy="351.8" r="2.35"/><circle cx="476.3" cy="365.4" r="2.35"/><circle cx="473.0" cy="378.2" r="2.35"/><circle cx="491.9" cy="353.5" r="2.35"/><circle cx="481.6" cy="359.9" r="2.35"/><circle cx="464.1" cy="343.9" r="2.35"/><circle cx="496.4" cy="346.4" r="2.35"/><circle cx="468.0" cy="367.1" r="2.35"/><circle cx="494.5" cy="363.3" r="2.35"/><circle cx="468.7" cy="345.1" r="2.35"/><circle cx="466.3" cy="354.1" r="2.35"/><circle cx="465.7" cy="351.4" r="2.35"/><circle cx="479.7" cy="398.4" r="2.35"/><circle cx="474.2" cy="371.7" r="2.35"/><circle cx="467.7" cy="379.2" r="2.35"/><circle cx="480.2" cy="379.1" r="2.35"/><circle cx="469.2" cy="338.4" r="2.35"/><circle cx="499.4" cy="369.8" r="2.35"/><circle cx="477.1" cy="384.3" r="2.35"/><circle cx="479.1" cy="404.8" r="2.35"/><circle cx="479.5" cy="392.2" r="2.35"/><circle cx="488.3" cy="350.4" r="2.35"/><circle cx="494.1" cy="336.0" r="2.35"/><circle cx="500.0" cy="376.8" r="2.35"/><circle cx="502.0" cy="379.0" r="2.35"/><circle cx="496.1" cy="373.2" r="2.35"/><circle cx="465.6" cy="355.1" r="2.35"/><circle cx="473.4" cy="406.2" r="2.35"/><circle cx="462.4" cy="358.8" r="2.35"/><circle cx="467.6" cy="410.1" r="2.35"/><circle cx="486.5" cy="370.4" r="2.35"/><circle cx="474.3" cy="350.9" r="2.35"/><circle cx="472.5" cy="387.7" r="2.35"/><circle cx="459.2" cy="388.8" r="2.35"/><circle cx="467.8" cy="385.8" r="2.35"/><circle cx="461.2" cy="396.5" r="2.35"/><circle cx="474.4" cy="399.9" r="2.35"/><circle cx="503.7" cy="379.6" r="2.35"/><circle cx="492.6" cy="371.1" r="2.35"/><circle cx="484.7" cy="380.3" r="2.35"/><circle cx="462.9" cy="390.9" r="2.35"/><circle cx="499.4" cy="335.0" r="2.35"/><circle cx="457.6" cy="386.3" r="2.35"/><circle cx="487.9" cy="385.8" r="2.35"/><circle cx="474.0" cy="351.7" r="2.35"/><circle cx="490.3" cy="376.6" r="2.35"/><circle cx="464.8" cy="352.2" r="2.35"/><circle cx="463.5" cy="386.6" r="2.35"/><circle cx="488.3" cy="346.8" r="2.35"/><circle cx="467.0" cy="388.5" r="2.35"/><circle cx="498.9" cy="349.2" r="2.35"/><circle cx="459.0" cy="396.3" r="2.35"/><circle cx="465.3" cy="341.1" r="2.35"/><circle cx="478.3" cy="347.7" r="2.35"/><circle cx="463.4" cy="355.5" r="2.35"/><circle cx="486.9" cy="356.2" r="2.35"/><circle cx="456.7" cy="371.0" r="2.35"/><circle cx="487.1" cy="381.8" r="2.35"/><circle cx="470.9" cy="410.6" r="2.35"/><circle cx="457.3" cy="375.9" r="2.35"/><circle cx="464.4" cy="383.1" r="2.35"/><circle cx="459.0" cy="369.9" r="2.35"/><circle cx="484.4" cy="371.4" r="2.35"/><circle cx="486.9" cy="367.6" r="2.35"/><circle cx="462.7" cy="359.9" r="2.35"/><circle cx="468.5" cy="343.7" r="2.35"/><circle cx="483.5" cy="370.7" r="2.35"/><circle cx="500.9" cy="336.2" r="2.35"/><circle cx="463.0" cy="400.5" r="2.35"/><circle cx="457.9" cy="378.2" r="2.35"/><circle cx="483.7" cy="383.3" r="2.35"/><circle cx="491.8" cy="346.6" r="2.35"/><circle cx="496.3" cy="339.1" r="2.35"/><circle cx="490.2" cy="374.6" r="2.35"/><circle cx="480.7" cy="354.2" r="2.35"/><circle cx="493.2" cy="357.0" r="2.35"/><circle cx="491.4" cy="339.6" r="2.35"/><circle cx="488.4" cy="335.0" r="2.35"/><circle cx="457.5" cy="385.4" r="2.35"/><circle cx="469.7" cy="338.4" r="2.35"/><circle cx="499.8" cy="355.1" r="2.35"/><circle cx="460.9" cy="348.3" r="2.35"/><circle cx="498.7" cy="363.0" r="2.35"/><circle cx="483.4" cy="350.7" r="2.35"/><circle cx="497.8" cy="368.4" r="2.35"/><circle cx="478.0" cy="385.7" r="2.35"/><circle cx="469.0" cy="398.4" r="2.35"/><circle cx="476.5" cy="367.3" r="2.35"/><circle cx="490.8" cy="386.5" r="2.35"/><circle cx="495.3" cy="365.6" r="2.35"/><circle cx="473.5" cy="342.2" r="2.35"/><circle cx="467.4" cy="393.3" r="2.35"/><circle cx="496.2" cy="345.9" r="2.35"/><circle cx="492.2" cy="354.9" r="2.35"/><circle cx="489.4" cy="364.1" r="2.35"/><circle cx="475.1" cy="391.7" r="2.35"/><circle cx="488.1" cy="343.6" r="2.35"/><circle cx="486.3" cy="337.4" r="2.35"/><circle cx="463.0" cy="399.3" r="2.35"/><circle cx="500.8" cy="353.1" r="2.35"/><circle cx="492.9" cy="347.3" r="2.35"/><circle cx="478.6" cy="360.8" r="2.35"/><circle cx="497.5" cy="340.9" r="2.35"/><circle cx="463.1" cy="354.1" r="2.35"/><circle cx="463.5" cy="371.6" r="2.35"/><circle cx="480.0" cy="372.3" r="2.35"/><circle cx="480.2" cy="385.2" r="2.35"/><circle cx="480.3" cy="399.0" r="2.35"/><circle cx="476.6" cy="399.8" r="2.35"/><circle cx="459.7" cy="376.7" r="2.35"/><circle cx="469.8" cy="396.0" r="2.35"/><circle cx="484.7" cy="381.8" r="2.35"/><circle cx="485.6" cy="364.7" r="2.35"/><circle cx="489.6" cy="337.0" r="2.35"/><circle cx="495.2" cy="349.7" r="2.35"/><circle cx="483.8" cy="348.0" r="2.35"/><circle cx="484.3" cy="389.6" r="2.35"/><circle cx="483.7" cy="366.3" r="2.35"/><circle cx="469.2" cy="375.5" r="2.35"/><circle cx="465.1" cy="353.8" r="2.35"/><circle cx="495.4" cy="360.3" r="2.35"/><circle cx="490.5" cy="387.6" r="2.35"/><circle cx="476.9" cy="396.1" r="2.35"/><circle cx="473.8" cy="367.1" r="2.35"/><circle cx="467.0" cy="394.0" r="2.35"/><circle cx="503.2" cy="353.1" r="2.35"/><circle cx="460.6" cy="384.8" r="2.35"/><circle cx="463.5" cy="409.3" r="2.35"/><circle cx="501.2" cy="360.0" r="2.35"/><circle cx="457.9" cy="387.2" r="2.35"/><circle cx="468.0" cy="408.6" r="2.35"/><circle cx="496.0" cy="353.3" r="2.35"/><circle cx="478.2" cy="377.1" r="2.35"/><circle cx="493.3" cy="353.9" r="2.35"/><circle cx="482.3" cy="374.6" r="2.35"/><circle cx="483.4" cy="377.5" r="2.35"/><circle cx="475.1" cy="363.9" r="2.35"/><circle cx="488.5" cy="339.1" r="2.35"/><circle cx="474.1" cy="369.1" r="2.35"/><circle cx="497.2" cy="354.2" r="2.35"/><circle cx="480.5" cy="383.6" r="2.35"/><circle cx="499.5" cy="348.9" r="2.35"/><circle cx="493.6" cy="364.7" r="2.35"/><circle cx="465.2" cy="386.4" r="2.35"/><circle cx="495.2" cy="354.3" r="2.35"/><circle cx="472.1" cy="354.5" r="2.35"/><circle cx="466.1" cy="402.7" r="2.35"/><circle cx="461.8" cy="396.1" r="2.35"/><circle cx="499.5" cy="380.1" r="2.35"/><circle cx="474.0" cy="342.1" r="2.35"/><circle cx="468.5" cy="354.8" r="2.35"/><circle cx="488.0" cy="366.7" r="2.35"/><circle cx="474.1" cy="338.3" r="2.35"/><circle cx="476.2" cy="344.2" r="2.35"/><circle cx="500.9" cy="367.1" r="2.35"/><circle cx="464.6" cy="404.6" r="2.35"/><circle cx="478.7" cy="354.7" r="2.35"/><circle cx="465.3" cy="356.7" r="2.35"/><circle cx="463.6" cy="407.0" r="2.35"/><circle cx="485.9" cy="336.6" r="2.35"/><circle cx="464.0" cy="348.4" r="2.35"/><circle cx="502.4" cy="338.7" r="2.35"/><circle cx="478.8" cy="375.4" r="2.35"/><circle cx="470.0" cy="393.8" r="2.35"/><circle cx="497.7" cy="351.1" r="2.35"/><circle cx="468.1" cy="371.9" r="2.35"/><circle cx="477.6" cy="383.8" r="2.35"/><circle cx="493.4" cy="360.0" r="2.35"/><circle cx="502.3" cy="369.5" r="2.35"/><circle cx="480.3" cy="347.4" r="2.35"/><circle cx="499.0" cy="380.9" r="2.35"/><circle cx="479.8" cy="355.6" r="2.35"/><circle cx="459.1" cy="354.9" r="2.35"/><circle cx="486.3" cy="387.8" r="2.35"/><circle cx="489.2" cy="387.8" r="2.35"/><circle cx="483.2" cy="367.6" r="2.35"/><circle cx="493.5" cy="357.6" r="2.35"/><circle cx="484.2" cy="351.7" r="2.35"/><circle cx="477.9" cy="403.2" r="2.35"/><circle cx="470.3" cy="364.6" r="2.35"/><circle cx="469.3" cy="379.7" r="2.35"/><circle cx="485.7" cy="388.0" r="2.35"/><circle cx="483.2" cy="370.2" r="2.35"/><circle cx="476.3" cy="360.3" r="2.35"/><circle cx="466.3" cy="340.4" r="2.35"/><circle cx="489.2" cy="348.8" r="2.35"/><circle cx="472.3" cy="366.6" r="2.35"/><circle cx="485.8" cy="350.1" r="2.35"/><circle cx="459.3" cy="377.8" r="2.35"/><circle cx="471.6" cy="391.2" r="2.35"/><circle cx="463.5" cy="388.5" r="2.35"/><circle cx="471.1" cy="355.2" r="2.35"/><circle cx="461.6" cy="393.6" r="2.35"/><circle cx="478.9" cy="376.6" r="2.35"/><circle cx="469.5" cy="352.3" r="2.35"/><circle cx="496.3" cy="352.2" r="2.35"/><circle cx="473.9" cy="367.7" r="2.35"/><circle cx="459.3" cy="357.7" r="2.35"/><circle cx="478.7" cy="383.4" r="2.35"/><circle cx="469.7" cy="410.5" r="2.35"/><circle cx="459.9" cy="375.5" r="2.35"/><circle cx="488.5" cy="380.6" r="2.35"/><circle cx="478.3" cy="363.8" r="2.35"/><circle cx="456.6" cy="370.2" r="2.35"/><circle cx="494.1" cy="386.2" r="2.35"/><circle cx="473.0" cy="400.2" r="2.35"/><circle cx="484.7" cy="380.9" r="2.35"/><circle cx="476.5" cy="396.3" r="2.35"/><circle cx="474.5" cy="392.5" r="2.35"/><circle cx="500.9" cy="375.4" r="2.35"/><circle cx="459.9" cy="405.9" r="2.35"/><circle cx="474.4" cy="365.0" r="2.35"/><circle cx="495.8" cy="346.5" r="2.35"/><circle cx="472.1" cy="394.9" r="2.35"/><circle cx="459.9" cy="394.9" r="2.35"/><circle cx="468.0" cy="344.0" r="2.35"/><circle cx="492.5" cy="375.7" r="2.35"/><circle cx="464.9" cy="377.0" r="2.35"/><circle cx="475.4" cy="375.8" r="2.35"/><circle cx="473.6" cy="389.4" r="2.35"/><circle cx="464.7" cy="361.0" r="2.35"/><circle cx="477.6" cy="380.6" r="2.35"/><circle cx="492.5" cy="342.2" r="2.35"/><circle cx="472.5" cy="382.8" r="2.35"/><circle cx="477.1" cy="352.3" r="2.35"/><circle cx="486.5" cy="375.9" r="2.35"/><circle cx="460.2" cy="371.3" r="2.35"/><circle cx="494.0" cy="358.1" r="2.35"/><circle cx="475.4" cy="368.8" r="2.35"/><circle cx="468.5" cy="382.4" r="2.35"/><circle cx="467.8" cy="407.2" r="2.35"/><circle cx="496.8" cy="357.5" r="2.35"/><circle cx="495.5" cy="366.8" r="2.35"/><circle cx="493.7" cy="349.2" r="2.35"/><circle cx="501.2" cy="361.5" r="2.35"/><circle cx="485.6" cy="360.6" r="2.35"/><circle cx="487.0" cy="344.0" r="2.35"/><circle cx="466.3" cy="342.5" r="2.35"/><circle cx="467.3" cy="345.5" r="2.35"/><circle cx="456.6" cy="372.7" r="2.35"/><circle cx="460.9" cy="404.1" r="2.35"/><circle cx="490.6" cy="388.8" r="2.35"/><circle cx="461.9" cy="409.4" r="2.35"/><circle cx="468.3" cy="405.1" r="2.35"/><circle cx="481.3" cy="387.1" r="2.35"/><circle cx="486.3" cy="361.8" r="2.35"/><circle cx="492.6" cy="374.3" r="2.35"/><circle cx="459.7" cy="379.8" r="2.35"/><circle cx="470.8" cy="376.7" r="2.35"/><circle cx="460.4" cy="353.0" r="2.35"/><circle cx="466.1" cy="386.3" r="2.35"/><circle cx="473.5" cy="403.3" r="2.35"/><circle cx="458.5" cy="374.2" r="2.35"/><circle cx="473.8" cy="410.0" r="2.35"/><circle cx="465.6" cy="372.6" r="2.35"/><circle cx="468.3" cy="355.4" r="2.35"/><circle cx="496.7" cy="371.2" r="2.35"/><circle cx="461.7" cy="386.0" r="2.35"/><circle cx="502.0" cy="377.6" r="2.35"/><circle cx="466.0" cy="374.9" r="2.35"/><circle cx="485.5" cy="392.6" r="2.35"/><circle cx="476.1" cy="372.2" r="2.35"/><circle cx="481.2" cy="391.8" r="2.35"/><circle cx="491.9" cy="384.2" r="2.35"/><circle cx="480.1" cy="394.7" r="2.35"/><circle cx="467.9" cy="397.7" r="2.35"/><circle cx="459.9" cy="375.6" r="2.35"/><circle cx="501.2" cy="350.2" r="2.35"/><circle cx="499.6" cy="371.7" r="2.35"/><circle cx="491.0" cy="344.8" r="2.35"/><circle cx="482.2" cy="374.8" r="2.35"/><circle cx="472.3" cy="373.1" r="2.35"/><circle cx="470.5" cy="387.1" r="2.35"/><circle cx="470.5" cy="353.1" r="2.35"/><circle cx="484.6" cy="373.8" r="2.35"/><circle cx="475.9" cy="394.9" r="2.35"/><circle cx="476.2" cy="388.5" r="2.35"/><circle cx="469.8" cy="368.3" r="2.35"/><circle cx="493.1" cy="356.5" r="2.35"/><circle cx="517.9" cy="265.6" r="2.35"/><circle cx="528.5" cy="271.3" r="2.35"/><circle cx="523.9" cy="277.2" r="2.35"/><circle cx="514.4" cy="281.0" r="2.35"/><circle cx="517.9" cy="280.0" r="2.35"/><circle cx="529.9" cy="281.0" r="2.35"/><circle cx="558.2" cy="257.7" r="2.35"/><circle cx="551.8" cy="261.9" r="2.35"/><circle cx="554.2" cy="261.3" r="2.35"/><circle cx="560.8" cy="263.4" r="2.35"/><circle cx="564.4" cy="270.0" r="2.35"/><circle cx="567.4" cy="270.7" r="2.35"/><circle cx="582.2" cy="271.3" r="2.35"/><circle cx="612.2" cy="272.0" r="2.35"/><circle cx="543.5" cy="275.0" r="2.35"/><circle cx="548.6" cy="277.4" r="2.35"/><circle cx="570.4" cy="276.3" r="2.35"/><circle cx="561.7" cy="279.4" r="2.35"/><circle cx="569.6" cy="281.8" r="2.35"/><circle cx="624.0" cy="287.0" r="2.35"/><circle cx="544.6" cy="284.9" r="2.35"/><circle cx="540.8" cy="288.1" r="2.35"/><circle cx="546.1" cy="288.1" r="2.35"/><circle cx="556.7" cy="284.9" r="2.35"/><circle cx="559.7" cy="286.5" r="2.35"/><circle cx="566.6" cy="292.0" r="2.35"/><circle cx="577.6" cy="292.8" r="2.35"/><circle cx="587.6" cy="290.8" r="2.35"/><circle cx="565.1" cy="294.3" r="2.35"/><circle cx="568.9" cy="296.7" r="2.35"/><circle cx="572.6" cy="298.0" r="2.35"/><circle cx="568.9" cy="300.7" r="2.35"/><circle cx="586.0" cy="299.1" r="2.35"/><circle cx="594.7" cy="297.1" r="2.35"/><circle cx="596.2" cy="300.7" r="2.35"/><circle cx="599.3" cy="301.8" r="2.35"/><circle cx="607.3" cy="304.6" r="2.35"/><circle cx="579.5" cy="303.0" r="2.35"/><circle cx="567.4" cy="310.8" r="2.35"/><circle cx="575.0" cy="310.8" r="2.35"/><circle cx="579.5" cy="310.1" r="2.35"/><circle cx="580.3" cy="314.8" r="2.35"/><circle cx="603.1" cy="313.8" r="2.35"/><circle cx="456.7" cy="403.1" r="2.35"/><circle cx="479.3" cy="413.3" r="2.35"/><circle cx="479.3" cy="419.7" r="2.35"/><circle cx="494.8" cy="407.5" r="2.35"/><circle cx="504.7" cy="403.1" r="2.35"/><circle cx="564.4" cy="324.9" r="2.35"/><circle cx="567.8" cy="326.1" r="2.35"/><circle cx="586.0" cy="331.3" r="2.35"/><circle cx="563.3" cy="337.6" r="2.35"/><circle cx="589.4" cy="354.8" r="2.35"/><circle cx="570.4" cy="363.1" r="2.35"/><circle cx="456.8" cy="402.1" r="2.35"/><circle cx="461.9" cy="407.5" r="2.35"/><circle cx="463.4" cy="412.0" r="2.35"/><circle cx="467.9" cy="407.5" r="2.35"/><circle cx="475.2" cy="405.2" r="2.35"/><circle cx="479.6" cy="403.6" r="2.35"/><circle cx="478.9" cy="413.5" r="2.35"/><circle cx="479.2" cy="420.0" r="2.35"/><circle cx="485.5" cy="399.8" r="2.35"/><circle cx="492.1" cy="400.6" r="2.35"/><circle cx="495.1" cy="408.2" r="2.35"/><circle cx="503.9" cy="402.9" r="2.35"/><circle cx="506.1" cy="408.2" r="2.35"/><circle cx="509.8" cy="402.1" r="2.35"/><circle cx="457.3" cy="304.6" r="2.35"/><circle cx="468.7" cy="307.3" r="2.35"/><circle cx="470.8" cy="313.1" r="2.35"/><circle cx="477.1" cy="311.4" r="2.35"/><circle cx="481.0" cy="310.4" r="2.35"/><circle cx="479.7" cy="313.8" r="2.35"/><circle cx="491.4" cy="304.6" r="2.35"/><circle cx="490.8" cy="311.8" r="2.35"/><circle cx="496.6" cy="308.4" r="2.35"/><circle cx="500.5" cy="298.3" r="2.35"/><circle cx="493.4" cy="313.1" r="2.35"/><circle cx="497.9" cy="314.5" r="2.35"/><circle cx="464.8" cy="319.8" r="2.35"/><circle cx="466.1" cy="323.2" r="2.35"/><circle cx="471.9" cy="320.6" r="2.35"/><circle cx="475.1" cy="317.8" r="2.35"/><circle cx="479.7" cy="320.6" r="2.35"/><circle cx="483.6" cy="325.9" r="2.35"/><circle cx="481.0" cy="323.9" r="2.35"/><circle cx="488.8" cy="321.2" r="2.35"/><circle cx="491.4" cy="323.2" r="2.35"/><circle cx="495.3" cy="321.9" r="2.35"/><circle cx="499.2" cy="323.2" r="2.35"/><circle cx="458.9" cy="330.0" r="2.35"/><circle cx="466.7" cy="328.6" r="2.35"/><circle cx="467.4" cy="332.7" r="2.35"/><circle cx="473.2" cy="330.0" r="2.35"/><circle cx="469.9" cy="332.7" r="2.35"/><circle cx="474.5" cy="327.2" r="2.35"/><circle cx="475.7" cy="332.7" r="2.35"/><circle cx="481.0" cy="331.3" r="2.35"/><circle cx="487.5" cy="328.6" r="2.35"/><circle cx="491.4" cy="331.3" r="2.35"/><circle cx="494.0" cy="334.0" r="2.35"/><circle cx="497.9" cy="331.3" r="2.35"/><circle cx="500.5" cy="328.6" r="2.35"/><circle cx="461.5" cy="344.8" r="2.35"/><circle cx="451.0" cy="350.2" r="2.35"/><circle cx="462.7" cy="347.5" r="2.35"/><circle cx="531.1" cy="289.5" r="2.35"/><circle cx="536.9" cy="288.8" r="2.35"/><circle cx="541.5" cy="289.5" r="2.35"/><circle cx="546.7" cy="288.8" r="2.35"/><circle cx="558.4" cy="290.2" r="2.35"/><circle cx="561.6" cy="291.5" r="2.35"/><circle cx="511.5" cy="295.6" r="2.35"/><circle cx="510.2" cy="298.3" r="2.35"/><circle cx="518.7" cy="296.9" r="2.35"/><circle cx="516.1" cy="299.7" r="2.35"/><circle cx="526.6" cy="298.3" r="2.35"/><circle cx="530.4" cy="299.7" r="2.35"/><circle cx="534.3" cy="301.0" r="2.35"/><circle cx="536.9" cy="296.9" r="2.35"/><circle cx="541.5" cy="298.9" r="2.35"/><circle cx="544.7" cy="300.3" r="2.35"/><circle cx="548.6" cy="293.6" r="2.35"/><circle cx="551.3" cy="295.6" r="2.35"/><circle cx="553.9" cy="296.9" r="2.35"/><circle cx="557.1" cy="295.6" r="2.35"/><circle cx="559.7" cy="298.3" r="2.35"/><circle cx="505.1" cy="307.7" r="2.35"/><circle cx="510.2" cy="304.4" r="2.35"/><circle cx="514.9" cy="305.7" r="2.35"/><circle cx="521.3" cy="304.4" r="2.35"/><circle cx="527.2" cy="304.4" r="2.35"/><circle cx="532.4" cy="303.0" r="2.35"/><circle cx="537.5" cy="305.7" r="2.35"/><circle cx="541.5" cy="308.4" r="2.35"/><circle cx="544.1" cy="305.0" r="2.35"/><circle cx="552.6" cy="302.3" r="2.35"/><circle cx="559.7" cy="303.0" r="2.35"/><circle cx="561.6" cy="307.1" r="2.35"/><circle cx="503.1" cy="315.9" r="2.35"/><circle cx="509.0" cy="315.1" r="2.35"/><circle cx="512.2" cy="313.8" r="2.35"/><circle cx="518.1" cy="311.0" r="2.35"/><circle cx="529.8" cy="313.1" r="2.35"/><circle cx="537.5" cy="310.4" r="2.35"/><circle cx="544.1" cy="313.1" r="2.35"/><circle cx="553.2" cy="312.4" r="2.35"/><circle cx="556.4" cy="313.8" r="2.35"/><circle cx="505.7" cy="321.2" r="2.35"/><circle cx="508.3" cy="318.5" r="2.35"/><circle cx="512.8" cy="319.2" r="2.35"/><circle cx="515.5" cy="322.5" r="2.35"/><circle cx="519.4" cy="319.2" r="2.35"/><circle cx="523.2" cy="320.6" r="2.35"/><circle cx="528.5" cy="317.1" r="2.35"/><circle cx="529.2" cy="321.2" r="2.35"/><circle cx="535.0" cy="319.2" r="2.35"/><circle cx="540.2" cy="318.5" r="2.35"/><circle cx="546.7" cy="318.5" r="2.35"/><circle cx="549.9" cy="320.6" r="2.35"/><circle cx="555.8" cy="322.5" r="2.35"/><circle cx="560.3" cy="321.9" r="2.35"/><circle cx="505.1" cy="325.9" r="2.35"/><circle cx="509.6" cy="328.6" r="2.35"/><circle cx="514.2" cy="327.2" r="2.35"/><circle cx="517.4" cy="327.2" r="2.35"/><circle cx="522.0" cy="324.5" r="2.35"/><circle cx="518.7" cy="331.3" r="2.35"/><circle cx="527.9" cy="328.6" r="2.35"/><circle cx="533.7" cy="324.5" r="2.35"/><circle cx="536.2" cy="327.2" r="2.35"/><circle cx="530.4" cy="331.3" r="2.35"/><circle cx="541.5" cy="329.3" r="2.35"/><circle cx="548.0" cy="328.6" r="2.35"/><circle cx="551.9" cy="331.3" r="2.35"/><circle cx="558.4" cy="327.2" r="2.35"/><circle cx="503.8" cy="334.0" r="2.35"/><circle cx="507.0" cy="335.4" r="2.35"/><circle cx="510.2" cy="337.4" r="2.35"/><circle cx="506.4" cy="338.7" r="2.35"/><circle cx="514.2" cy="335.4" r="2.35"/><circle cx="518.1" cy="334.0" r="2.35"/><circle cx="523.9" cy="336.0" r="2.35"/><circle cx="528.5" cy="334.0" r="2.35"/><circle cx="535.0" cy="335.4" r="2.35"/><circle cx="540.2" cy="336.0" r="2.35"/><circle cx="536.2" cy="338.7" r="2.35"/><circle cx="549.3" cy="335.4" r="2.35"/><circle cx="561.0" cy="337.4" r="2.35"/><circle cx="544.1" cy="340.1" r="2.35"/><circle cx="503.8" cy="342.1" r="2.35"/><circle cx="509.0" cy="343.4" r="2.35"/><circle cx="513.6" cy="341.4" r="2.35"/><circle cx="515.5" cy="346.1" r="2.35"/><circle cx="520.7" cy="343.4" r="2.35"/><circle cx="522.0" cy="347.5" r="2.35"/><circle cx="525.9" cy="344.8" r="2.35"/><circle cx="528.5" cy="345.4" r="2.35"/><circle cx="536.9" cy="342.8" r="2.35"/><circle cx="542.8" cy="346.1" r="2.35"/><circle cx="546.7" cy="350.2" r="2.35"/><circle cx="552.6" cy="346.1" r="2.35"/><circle cx="557.1" cy="348.1" r="2.35"/><circle cx="506.4" cy="347.5" r="2.35"/><circle cx="510.2" cy="349.5" r="2.35"/><circle cx="447.2" cy="390.6" r="2.35"/><circle cx="451.0" cy="394.0" r="2.35"/><circle cx="456.3" cy="402.0" r="2.35"/><circle cx="452.3" cy="352.2" r="2.35"/><circle cx="455.0" cy="372.4" r="2.35"/><circle cx="494.0" cy="408.1" r="2.35"/><circle cx="490.8" cy="401.4" r="2.35"/><circle cx="500.5" cy="395.3" r="2.35"/><circle cx="518.1" cy="351.5" r="2.35"/><circle cx="529.8" cy="352.2" r="2.35"/><circle cx="537.5" cy="356.9" r="2.35"/><circle cx="546.0" cy="359.2" r="2.35"/><circle cx="557.7" cy="358.3" r="2.35"/><circle cx="560.3" cy="351.5" r="2.35"/><circle cx="548.0" cy="351.5" r="2.35"/><circle cx="534.3" cy="364.3" r="2.35"/><circle cx="535.0" cy="367.7" r="2.35"/><circle cx="533.7" cy="371.7" r="2.35"/><circle cx="540.2" cy="372.4" r="2.35"/><circle cx="546.7" cy="372.4" r="2.35"/><circle cx="533.0" cy="377.8" r="2.35"/><circle cx="561.6" cy="378.5" r="2.35"/><circle cx="532.4" cy="386.6" r="2.35"/><circle cx="533.7" cy="388.5" r="2.35"/><circle cx="537.5" cy="390.6" r="2.35"/><circle cx="557.4" cy="388.5" r="2.35"/><circle cx="523.2" cy="396.0" r="2.35"/><circle cx="519.4" cy="396.7" r="2.35"/><circle cx="516.1" cy="395.3" r="2.35"/><circle cx="520.7" cy="398.7" r="2.35"/><circle cx="510.2" cy="402.0" r="2.35"/><circle cx="505.1" cy="402.8" r="2.35"/><circle cx="505.7" cy="408.8" r="2.35"/><circle cx="512.8" cy="387.2" r="2.35"/><circle cx="509.0" cy="392.6" r="2.35"/><circle cx="503.8" cy="394.0" r="2.35"/><circle cx="455.0" cy="354.9" r="2.35"/><circle cx="450.0" cy="351.4" r="2.35"/><circle cx="481.3" cy="389.5" r="2.35"/><circle cx="488.3" cy="390.5" r="2.35"/><circle cx="486.3" cy="395.8" r="2.35"/><circle cx="492.4" cy="393.7" r="2.35"/><circle cx="496.7" cy="391.6" r="2.35"/><circle cx="502.9" cy="394.9" r="2.35"/><circle cx="505.0" cy="402.3" r="2.35"/><circle cx="510.1" cy="402.3" r="2.35"/><circle cx="495.7" cy="408.1" r="2.35"/><circle cx="506.0" cy="408.7" r="2.35"/><circle cx="479.3" cy="414.1" r="2.35"/><circle cx="479.3" cy="419.8" r="2.35"/><circle cx="483.3" cy="387.4" r="2.35"/><circle cx="491.4" cy="387.9" r="2.35"/></g>
<g fill="#ED7D31"><circle cx="465.6" cy="370.9" r="2.35"/><circle cx="474.4" cy="375.8" r="2.35"/><circle cx="491.4" cy="331.6" r="2.35"/><circle cx="505.5" cy="347.5" r="2.35"/><circle cx="481.5" cy="378.7" r="2.35"/><circle cx="459.8" cy="378.3" r="2.35"/><circle cx="507.6" cy="369.1" r="2.35"/><circle cx="499.1" cy="381.3" r="2.35"/><circle cx="454.1" cy="388.4" r="2.35"/><circle cx="489.1" cy="350.9" r="2.35"/><circle cx="481.3" cy="385.2" r="2.35"/><circle cx="511.1" cy="358.6" r="2.35"/><circle cx="503.1" cy="362.7" r="2.35"/><circle cx="491.5" cy="350.9" r="2.35"/><circle cx="483.6" cy="357.9" r="2.35"/><circle cx="473.2" cy="374.2" r="2.35"/><circle cx="494.5" cy="339.6" r="2.35"/><circle cx="510.0" cy="372.9" r="2.35"/><circle cx="497.3" cy="343.5" r="2.35"/><circle cx="505.1" cy="373.3" r="2.35"/><circle cx="455.7" cy="391.9" r="2.35"/><circle cx="477.1" cy="338.6" r="2.35"/><circle cx="469.4" cy="389.3" r="2.35"/><circle cx="471.8" cy="398.5" r="2.35"/><circle cx="489.7" cy="328.8" r="2.35"/><circle cx="476.9" cy="376.3" r="2.35"/><circle cx="509.5" cy="357.2" r="2.35"/><circle cx="480.4" cy="368.9" r="2.35"/><circle cx="492.6" cy="375.1" r="2.35"/><circle cx="487.0" cy="377.1" r="2.35"/><circle cx="512.4" cy="367.8" r="2.35"/><circle cx="478.5" cy="385.3" r="2.35"/><circle cx="465.6" cy="350.9" r="2.35"/><circle cx="480.8" cy="382.0" r="2.35"/><circle cx="473.3" cy="384.2" r="2.35"/><circle cx="466.5" cy="363.7" r="2.35"/><circle cx="489.2" cy="352.5" r="2.35"/><circle cx="474.0" cy="351.9" r="2.35"/><circle cx="474.4" cy="375.1" r="2.35"/><circle cx="469.8" cy="357.2" r="2.35"/><circle cx="487.7" cy="386.5" r="2.35"/><circle cx="464.6" cy="392.2" r="2.35"/><circle cx="465.7" cy="341.6" r="2.35"/><circle cx="478.8" cy="383.5" r="2.35"/><circle cx="472.0" cy="394.6" r="2.35"/><circle cx="479.0" cy="396.4" r="2.35"/><circle cx="508.7" cy="363.2" r="2.35"/><circle cx="485.0" cy="341.9" r="2.35"/><circle cx="492.5" cy="392.4" r="2.35"/><circle cx="472.8" cy="336.8" r="2.35"/><circle cx="502.6" cy="348.5" r="2.35"/><circle cx="472.8" cy="360.4" r="2.35"/><circle cx="477.7" cy="359.8" r="2.35"/><circle cx="499.4" cy="394.9" r="2.35"/><circle cx="493.9" cy="368.8" r="2.35"/><circle cx="469.0" cy="354.2" r="2.35"/><circle cx="489.0" cy="349.8" r="2.35"/><circle cx="509.7" cy="373.6" r="2.35"/><circle cx="469.8" cy="380.6" r="2.35"/><circle cx="484.7" cy="360.2" r="2.35"/><circle cx="466.6" cy="396.9" r="2.35"/><circle cx="481.6" cy="390.4" r="2.35"/><circle cx="462.9" cy="370.1" r="2.35"/><circle cx="504.2" cy="340.3" r="2.35"/><circle cx="491.6" cy="397.0" r="2.35"/><circle cx="467.9" cy="348.2" r="2.35"/><circle cx="484.9" cy="360.9" r="2.35"/><circle cx="481.3" cy="389.9" r="2.35"/><circle cx="483.2" cy="352.1" r="2.35"/><circle cx="470.7" cy="355.0" r="2.35"/><circle cx="492.8" cy="374.3" r="2.35"/><circle cx="473.8" cy="341.9" r="2.35"/><circle cx="497.4" cy="357.4" r="2.35"/><circle cx="474.6" cy="375.8" r="2.35"/><circle cx="501.9" cy="357.4" r="2.35"/><circle cx="503.1" cy="377.3" r="2.35"/><circle cx="478.5" cy="356.8" r="2.35"/><circle cx="482.8" cy="383.9" r="2.35"/><circle cx="477.8" cy="383.2" r="2.35"/><circle cx="480.5" cy="346.3" r="2.35"/><circle cx="485.5" cy="383.3" r="2.35"/><circle cx="478.1" cy="398.4" r="2.35"/><circle cx="502.4" cy="347.7" r="2.35"/><circle cx="480.7" cy="336.3" r="2.35"/><circle cx="502.5" cy="381.0" r="2.35"/><circle cx="498.6" cy="372.5" r="2.35"/><circle cx="456.7" cy="374.4" r="2.35"/><circle cx="501.3" cy="329.8" r="2.35"/><circle cx="456.4" cy="398.5" r="2.35"/><circle cx="457.9" cy="395.5" r="2.35"/><circle cx="494.6" cy="394.8" r="2.35"/><circle cx="513.2" cy="373.7" r="2.35"/><circle cx="500.9" cy="368.2" r="2.35"/><circle cx="497.4" cy="335.0" r="2.35"/><circle cx="465.9" cy="341.0" r="2.35"/><circle cx="490.8" cy="388.1" r="2.35"/><circle cx="476.0" cy="356.4" r="2.35"/><circle cx="476.2" cy="354.9" r="2.35"/><circle cx="460.5" cy="382.9" r="2.35"/><circle cx="500.1" cy="381.5" r="2.35"/><circle cx="484.2" cy="365.9" r="2.35"/><circle cx="456.2" cy="387.6" r="2.35"/><circle cx="510.8" cy="368.7" r="2.35"/><circle cx="479.3" cy="385.2" r="2.35"/><circle cx="462.2" cy="348.1" r="2.35"/><circle cx="488.8" cy="352.0" r="2.35"/><circle cx="465.3" cy="382.9" r="2.35"/><circle cx="496.7" cy="360.1" r="2.35"/><circle cx="506.6" cy="374.2" r="2.35"/><circle cx="467.6" cy="344.1" r="2.35"/><circle cx="475.3" cy="340.3" r="2.35"/><circle cx="473.8" cy="352.6" r="2.35"/><circle cx="501.3" cy="338.0" r="2.35"/><circle cx="486.9" cy="365.7" r="2.35"/><circle cx="497.8" cy="396.5" r="2.35"/><circle cx="476.4" cy="386.4" r="2.35"/><circle cx="513.7" cy="364.6" r="2.35"/><circle cx="465.4" cy="385.1" r="2.35"/><circle cx="467.0" cy="341.6" r="2.35"/><circle cx="496.7" cy="396.7" r="2.35"/><circle cx="507.4" cy="351.9" r="2.35"/><circle cx="498.3" cy="333.2" r="2.35"/><circle cx="456.0" cy="394.7" r="2.35"/><circle cx="473.5" cy="373.8" r="2.35"/><circle cx="472.1" cy="362.0" r="2.35"/><circle cx="482.1" cy="343.4" r="2.35"/><circle cx="475.8" cy="370.9" r="2.35"/><circle cx="494.1" cy="335.4" r="2.35"/><circle cx="474.7" cy="389.6" r="2.35"/><circle cx="500.2" cy="350.5" r="2.35"/><circle cx="494.8" cy="379.9" r="2.35"/><circle cx="503.4" cy="348.0" r="2.35"/><circle cx="494.6" cy="370.2" r="2.35"/><circle cx="457.3" cy="366.7" r="2.35"/><circle cx="497.6" cy="381.9" r="2.35"/><circle cx="487.5" cy="341.1" r="2.35"/><circle cx="492.8" cy="378.0" r="2.35"/><circle cx="461.7" cy="399.2" r="2.35"/><circle cx="493.4" cy="336.3" r="2.35"/><circle cx="471.9" cy="385.3" r="2.35"/><circle cx="489.6" cy="371.7" r="2.35"/><circle cx="492.9" cy="363.8" r="2.35"/><circle cx="470.6" cy="340.7" r="2.35"/><circle cx="454.4" cy="385.0" r="2.35"/><circle cx="500.0" cy="370.8" r="2.35"/><circle cx="499.0" cy="355.7" r="2.35"/><circle cx="467.5" cy="357.7" r="2.35"/><circle cx="483.4" cy="346.5" r="2.35"/><circle cx="501.0" cy="355.3" r="2.35"/><circle cx="472.0" cy="359.3" r="2.35"/><circle cx="501.6" cy="385.9" r="2.35"/><circle cx="499.3" cy="393.2" r="2.35"/><circle cx="499.6" cy="374.8" r="2.35"/><circle cx="484.9" cy="372.9" r="2.35"/><circle cx="463.2" cy="346.7" r="2.35"/><circle cx="488.6" cy="378.2" r="2.35"/><circle cx="469.7" cy="396.8" r="2.35"/><circle cx="482.0" cy="375.6" r="2.35"/><circle cx="501.1" cy="380.5" r="2.35"/><circle cx="482.5" cy="369.2" r="2.35"/><circle cx="480.4" cy="342.1" r="2.35"/><circle cx="492.8" cy="362.7" r="2.35"/><circle cx="502.5" cy="377.4" r="2.35"/><circle cx="471.3" cy="397.7" r="2.35"/><circle cx="496.0" cy="337.2" r="2.35"/><circle cx="497.4" cy="386.9" r="2.35"/><circle cx="472.7" cy="392.4" r="2.35"/><circle cx="478.9" cy="388.3" r="2.35"/><circle cx="482.1" cy="335.2" r="2.35"/><circle cx="482.9" cy="383.6" r="2.35"/><circle cx="485.6" cy="360.8" r="2.35"/><circle cx="493.0" cy="351.2" r="2.35"/><circle cx="480.7" cy="388.3" r="2.35"/><circle cx="476.5" cy="341.0" r="2.35"/><circle cx="474.2" cy="356.6" r="2.35"/><circle cx="485.0" cy="375.2" r="2.35"/><circle cx="463.7" cy="390.5" r="2.35"/><circle cx="459.3" cy="364.0" r="2.35"/><circle cx="482.4" cy="331.1" r="2.35"/><circle cx="479.6" cy="359.7" r="2.35"/><circle cx="491.2" cy="354.6" r="2.35"/><circle cx="498.2" cy="348.8" r="2.35"/><circle cx="502.2" cy="364.4" r="2.35"/><circle cx="467.5" cy="393.1" r="2.35"/><circle cx="491.7" cy="354.5" r="2.35"/><circle cx="456.0" cy="382.2" r="2.35"/><circle cx="514.3" cy="374.8" r="2.35"/><circle cx="470.1" cy="376.0" r="2.35"/><circle cx="469.3" cy="396.0" r="2.35"/><circle cx="472.0" cy="382.0" r="2.35"/><circle cx="499.0" cy="386.4" r="2.35"/><circle cx="505.4" cy="371.6" r="2.35"/><circle cx="511.2" cy="356.0" r="2.35"/><circle cx="477.4" cy="345.0" r="2.35"/><circle cx="501.7" cy="365.6" r="2.35"/><circle cx="467.7" cy="340.1" r="2.35"/><circle cx="490.1" cy="384.5" r="2.35"/><circle cx="475.5" cy="366.2" r="2.35"/><circle cx="460.0" cy="384.5" r="2.35"/><circle cx="500.3" cy="381.8" r="2.35"/><circle cx="507.8" cy="363.1" r="2.35"/><circle cx="472.0" cy="356.6" r="2.35"/><circle cx="487.7" cy="335.2" r="2.35"/><circle cx="455.2" cy="379.5" r="2.35"/><circle cx="460.0" cy="379.1" r="2.35"/><circle cx="487.2" cy="360.6" r="2.35"/><circle cx="501.8" cy="375.8" r="2.35"/><circle cx="502.3" cy="370.1" r="2.35"/><circle cx="455.1" cy="394.0" r="2.35"/><circle cx="463.1" cy="399.5" r="2.35"/><circle cx="464.6" cy="394.3" r="2.35"/><circle cx="490.8" cy="378.9" r="2.35"/><circle cx="489.9" cy="362.8" r="2.35"/><circle cx="457.2" cy="394.8" r="2.35"/><circle cx="489.4" cy="393.1" r="2.35"/><circle cx="485.7" cy="364.3" r="2.35"/><circle cx="498.2" cy="332.5" r="2.35"/><circle cx="498.7" cy="360.9" r="2.35"/><circle cx="492.9" cy="375.9" r="2.35"/><circle cx="464.1" cy="355.0" r="2.35"/><circle cx="485.4" cy="360.6" r="2.35"/><circle cx="513.0" cy="365.9" r="2.35"/><circle cx="501.3" cy="359.6" r="2.35"/><circle cx="469.2" cy="402.9" r="2.35"/><circle cx="497.9" cy="350.4" r="2.35"/><circle cx="484.4" cy="378.7" r="2.35"/><circle cx="452.5" cy="387.4" r="2.35"/><circle cx="478.6" cy="354.5" r="2.35"/><circle cx="499.2" cy="387.5" r="2.35"/><circle cx="469.7" cy="359.9" r="2.35"/><circle cx="500.6" cy="383.7" r="2.35"/><circle cx="508.1" cy="356.8" r="2.35"/><circle cx="480.6" cy="369.4" r="2.35"/><circle cx="485.9" cy="355.7" r="2.35"/><circle cx="469.6" cy="346.1" r="2.35"/><circle cx="458.6" cy="369.8" r="2.35"/><circle cx="485.5" cy="339.8" r="2.35"/><circle cx="501.0" cy="364.4" r="2.35"/><circle cx="478.6" cy="354.0" r="2.35"/><circle cx="453.2" cy="371.0" r="2.35"/><circle cx="470.5" cy="346.5" r="2.35"/><circle cx="503.2" cy="360.5" r="2.35"/><circle cx="478.4" cy="377.7" r="2.35"/><circle cx="500.3" cy="391.0" r="2.35"/><circle cx="486.5" cy="349.1" r="2.35"/><circle cx="480.9" cy="380.8" r="2.35"/><circle cx="489.9" cy="360.2" r="2.35"/><circle cx="484.3" cy="340.2" r="2.35"/><circle cx="462.0" cy="382.3" r="2.35"/><circle cx="473.2" cy="363.5" r="2.35"/><circle cx="503.2" cy="363.3" r="2.35"/><circle cx="470.8" cy="369.0" r="2.35"/><circle cx="477.2" cy="396.1" r="2.35"/><circle cx="486.4" cy="366.2" r="2.35"/><circle cx="468.4" cy="384.4" r="2.35"/><circle cx="494.3" cy="356.7" r="2.35"/><circle cx="492.6" cy="342.2" r="2.35"/><circle cx="475.3" cy="394.2" r="2.35"/><circle cx="470.8" cy="348.4" r="2.35"/><circle cx="470.9" cy="358.4" r="2.35"/><circle cx="465.1" cy="342.6" r="2.35"/><circle cx="455.1" cy="369.4" r="2.35"/><circle cx="467.6" cy="365.8" r="2.35"/><circle cx="467.6" cy="371.0" r="2.35"/><circle cx="492.8" cy="337.9" r="2.35"/><circle cx="453.4" cy="388.5" r="2.35"/><circle cx="485.4" cy="357.6" r="2.35"/><circle cx="482.1" cy="383.9" r="2.35"/><circle cx="472.8" cy="387.6" r="2.35"/><circle cx="501.8" cy="372.9" r="2.35"/><circle cx="480.7" cy="370.4" r="2.35"/><circle cx="479.2" cy="370.1" r="2.35"/><circle cx="477.0" cy="397.8" r="2.35"/><circle cx="484.7" cy="389.1" r="2.35"/><circle cx="485.8" cy="362.4" r="2.35"/><circle cx="459.5" cy="375.5" r="2.35"/><circle cx="471.3" cy="367.8" r="2.35"/><circle cx="474.7" cy="352.3" r="2.35"/><circle cx="473.7" cy="375.5" r="2.35"/><circle cx="458.0" cy="367.3" r="2.35"/><circle cx="498.5" cy="354.2" r="2.35"/><circle cx="492.7" cy="349.4" r="2.35"/><circle cx="514.1" cy="363.4" r="2.35"/><circle cx="485.0" cy="362.4" r="2.35"/><circle cx="490.9" cy="331.9" r="2.35"/><circle cx="478.1" cy="395.8" r="2.35"/><circle cx="474.2" cy="343.8" r="2.35"/><circle cx="478.5" cy="397.4" r="2.35"/><circle cx="497.1" cy="355.9" r="2.35"/><circle cx="469.8" cy="367.7" r="2.35"/><circle cx="476.4" cy="356.8" r="2.35"/><circle cx="474.5" cy="376.7" r="2.35"/><circle cx="471.1" cy="349.4" r="2.35"/><circle cx="511.1" cy="370.1" r="2.35"/><circle cx="498.9" cy="394.2" r="2.35"/><circle cx="479.2" cy="382.2" r="2.35"/><circle cx="457.8" cy="398.4" r="2.35"/><circle cx="475.0" cy="365.2" r="2.35"/><circle cx="462.4" cy="393.8" r="2.35"/><circle cx="489.6" cy="333.2" r="2.35"/><circle cx="483.9" cy="361.7" r="2.35"/><circle cx="491.6" cy="380.4" r="2.35"/><circle cx="481.7" cy="360.8" r="2.35"/><circle cx="471.9" cy="360.6" r="2.35"/><circle cx="463.2" cy="358.4" r="2.35"/><circle cx="455.7" cy="378.8" r="2.35"/><circle cx="484.6" cy="373.3" r="2.35"/><circle cx="481.0" cy="396.6" r="2.35"/><circle cx="485.7" cy="349.6" r="2.35"/><circle cx="485.0" cy="342.8" r="2.35"/><circle cx="469.7" cy="400.1" r="2.35"/><circle cx="458.6" cy="369.8" r="2.35"/><circle cx="491.1" cy="355.3" r="2.35"/><circle cx="478.6" cy="351.8" r="2.35"/><circle cx="462.7" cy="397.7" r="2.35"/><circle cx="464.2" cy="393.7" r="2.35"/><circle cx="510.6" cy="358.8" r="2.35"/><circle cx="463.9" cy="341.5" r="2.35"/><circle cx="483.0" cy="357.7" r="2.35"/><circle cx="475.7" cy="340.8" r="2.35"/><circle cx="466.5" cy="347.8" r="2.35"/><circle cx="496.0" cy="354.1" r="2.35"/><circle cx="479.2" cy="372.6" r="2.35"/><circle cx="466.1" cy="383.6" r="2.35"/><circle cx="464.1" cy="381.3" r="2.35"/><circle cx="490.3" cy="340.6" r="2.35"/><circle cx="499.8" cy="358.6" r="2.35"/><circle cx="485.7" cy="375.3" r="2.35"/><circle cx="491.6" cy="362.5" r="2.35"/><circle cx="482.4" cy="373.7" r="2.35"/><circle cx="467.7" cy="400.0" r="2.35"/><circle cx="495.4" cy="344.4" r="2.35"/><circle cx="481.9" cy="340.9" r="2.35"/><circle cx="497.5" cy="354.0" r="2.35"/><circle cx="498.5" cy="374.1" r="2.35"/><circle cx="457.0" cy="369.5" r="2.35"/><circle cx="506.4" cy="365.4" r="2.35"/><circle cx="479.5" cy="366.6" r="2.35"/><circle cx="456.0" cy="388.7" r="2.35"/><circle cx="486.6" cy="351.0" r="2.35"/><circle cx="498.7" cy="355.0" r="2.35"/><circle cx="481.7" cy="372.8" r="2.35"/><circle cx="466.4" cy="383.5" r="2.35"/><circle cx="487.2" cy="357.8" r="2.35"/><circle cx="457.1" cy="371.7" r="2.35"/><circle cx="471.1" cy="385.7" r="2.35"/><circle cx="461.3" cy="358.6" r="2.35"/><circle cx="477.0" cy="373.5" r="2.35"/><circle cx="481.9" cy="342.7" r="2.35"/><circle cx="483.4" cy="339.9" r="2.35"/><circle cx="456.5" cy="370.3" r="2.35"/><circle cx="484.1" cy="358.8" r="2.35"/><circle cx="470.7" cy="403.5" r="2.35"/><circle cx="512.9" cy="365.3" r="2.35"/><circle cx="478.7" cy="347.7" r="2.35"/><circle cx="487.8" cy="368.1" r="2.35"/><circle cx="502.4" cy="386.4" r="2.35"/><circle cx="496.6" cy="387.8" r="2.35"/><circle cx="464.8" cy="363.7" r="2.35"/><circle cx="500.5" cy="339.8" r="2.35"/><circle cx="494.2" cy="348.3" r="2.35"/><circle cx="483.7" cy="356.8" r="2.35"/><circle cx="483.3" cy="382.6" r="2.35"/><circle cx="478.3" cy="392.2" r="2.35"/><circle cx="466.9" cy="370.9" r="2.35"/><circle cx="488.8" cy="358.1" r="2.35"/><circle cx="492.4" cy="343.5" r="2.35"/><circle cx="500.2" cy="367.6" r="2.35"/><circle cx="498.2" cy="356.8" r="2.35"/><circle cx="499.0" cy="366.0" r="2.35"/><circle cx="498.9" cy="338.5" r="2.35"/><circle cx="486.0" cy="381.1" r="2.35"/><circle cx="490.0" cy="339.4" r="2.35"/><circle cx="458.9" cy="377.5" r="2.35"/><circle cx="502.0" cy="358.3" r="2.35"/><circle cx="490.5" cy="347.8" r="2.35"/><circle cx="468.5" cy="383.5" r="2.35"/><circle cx="484.3" cy="353.1" r="2.35"/><circle cx="503.2" cy="358.1" r="2.35"/><circle cx="503.4" cy="362.7" r="2.35"/><circle cx="494.2" cy="353.0" r="2.35"/><circle cx="464.7" cy="363.3" r="2.35"/><circle cx="503.0" cy="354.5" r="2.35"/><circle cx="465.1" cy="360.3" r="2.35"/><circle cx="487.9" cy="371.0" r="2.35"/><circle cx="489.6" cy="350.0" r="2.35"/><circle cx="472.4" cy="342.3" r="2.35"/><circle cx="487.7" cy="348.0" r="2.35"/><circle cx="500.5" cy="375.6" r="2.35"/><circle cx="493.9" cy="386.6" r="2.35"/><circle cx="484.5" cy="361.2" r="2.35"/><circle cx="502.7" cy="367.2" r="2.35"/><circle cx="488.5" cy="377.4" r="2.35"/><circle cx="479.0" cy="336.5" r="2.35"/><circle cx="457.9" cy="367.2" r="2.35"/><circle cx="481.7" cy="346.5" r="2.35"/><circle cx="511.3" cy="360.2" r="2.35"/><circle cx="494.7" cy="351.2" r="2.35"/><circle cx="481.3" cy="350.9" r="2.35"/><circle cx="499.4" cy="369.8" r="2.35"/><circle cx="501.0" cy="367.9" r="2.35"/><circle cx="491.8" cy="333.0" r="2.35"/><circle cx="494.6" cy="368.3" r="2.35"/><circle cx="454.3" cy="381.7" r="2.35"/><circle cx="511.4" cy="360.8" r="2.35"/><circle cx="497.1" cy="372.2" r="2.35"/><circle cx="475.8" cy="364.4" r="2.35"/><circle cx="498.9" cy="347.4" r="2.35"/><circle cx="481.3" cy="347.3" r="2.35"/><circle cx="473.6" cy="379.6" r="2.35"/><circle cx="481.5" cy="342.8" r="2.35"/><circle cx="465.7" cy="374.2" r="2.35"/><circle cx="490.5" cy="346.0" r="2.35"/><circle cx="461.7" cy="367.4" r="2.35"/><circle cx="466.8" cy="398.7" r="2.35"/><circle cx="487.4" cy="354.1" r="2.35"/><circle cx="498.6" cy="387.9" r="2.35"/><circle cx="474.0" cy="385.8" r="2.35"/><circle cx="467.9" cy="344.2" r="2.35"/><circle cx="465.0" cy="342.3" r="2.35"/><circle cx="492.5" cy="385.9" r="2.35"/><circle cx="456.7" cy="389.1" r="2.35"/><circle cx="481.6" cy="357.3" r="2.35"/><circle cx="483.3" cy="361.7" r="2.35"/><circle cx="463.1" cy="358.6" r="2.35"/><circle cx="492.8" cy="384.9" r="2.35"/><circle cx="459.0" cy="389.9" r="2.35"/><circle cx="469.3" cy="396.4" r="2.35"/><circle cx="510.1" cy="361.9" r="2.35"/><circle cx="505.0" cy="360.8" r="2.35"/><circle cx="470.8" cy="362.6" r="2.35"/><circle cx="470.9" cy="357.8" r="2.35"/><circle cx="464.5" cy="403.2" r="2.35"/><circle cx="465.1" cy="400.2" r="2.35"/><circle cx="472.0" cy="351.1" r="2.35"/><circle cx="464.2" cy="370.7" r="2.35"/><circle cx="487.1" cy="358.9" r="2.35"/><circle cx="483.6" cy="350.7" r="2.35"/><circle cx="499.9" cy="393.5" r="2.35"/><circle cx="510.6" cy="372.0" r="2.35"/><circle cx="467.5" cy="349.8" r="2.35"/><circle cx="456.9" cy="399.9" r="2.35"/><circle cx="472.8" cy="379.9" r="2.35"/><circle cx="489.3" cy="346.8" r="2.35"/><circle cx="458.1" cy="373.4" r="2.35"/><circle cx="472.7" cy="340.1" r="2.35"/><circle cx="485.9" cy="359.6" r="2.35"/><circle cx="472.0" cy="350.1" r="2.35"/><circle cx="482.2" cy="390.1" r="2.35"/><circle cx="500.9" cy="365.8" r="2.35"/><circle cx="506.2" cy="365.5" r="2.35"/><circle cx="475.2" cy="368.5" r="2.35"/><circle cx="506.1" cy="357.0" r="2.35"/><circle cx="473.9" cy="356.2" r="2.35"/><circle cx="481.7" cy="366.9" r="2.35"/><circle cx="479.9" cy="365.0" r="2.35"/><circle cx="497.4" cy="341.5" r="2.35"/><circle cx="502.7" cy="347.6" r="2.35"/><circle cx="479.8" cy="387.3" r="2.35"/><circle cx="494.8" cy="398.0" r="2.35"/><circle cx="455.2" cy="399.3" r="2.35"/><circle cx="455.5" cy="394.4" r="2.35"/><circle cx="463.8" cy="384.9" r="2.35"/><circle cx="496.7" cy="387.3" r="2.35"/><circle cx="491.1" cy="389.1" r="2.35"/><circle cx="462.6" cy="370.2" r="2.35"/><circle cx="488.9" cy="336.7" r="2.35"/><circle cx="506.1" cy="362.7" r="2.35"/><circle cx="484.5" cy="381.1" r="2.35"/><circle cx="458.9" cy="386.0" r="2.35"/><circle cx="468.5" cy="345.4" r="2.35"/><circle cx="460.8" cy="400.0" r="2.35"/><circle cx="478.9" cy="358.2" r="2.35"/><circle cx="484.4" cy="383.5" r="2.35"/><circle cx="471.0" cy="353.8" r="2.35"/><circle cx="500.8" cy="390.0" r="2.35"/><circle cx="489.3" cy="359.4" r="2.35"/><circle cx="513.6" cy="361.5" r="2.35"/><circle cx="489.8" cy="356.1" r="2.35"/><circle cx="480.3" cy="380.4" r="2.35"/><circle cx="489.8" cy="376.9" r="2.35"/><circle cx="482.8" cy="369.1" r="2.35"/><circle cx="502.1" cy="350.7" r="2.35"/><circle cx="482.1" cy="362.6" r="2.35"/><circle cx="497.1" cy="342.8" r="2.35"/><circle cx="487.2" cy="373.5" r="2.35"/><circle cx="487.4" cy="350.0" r="2.35"/><circle cx="493.7" cy="392.9" r="2.35"/><circle cx="479.0" cy="366.3" r="2.35"/><circle cx="452.8" cy="391.0" r="2.35"/><circle cx="469.3" cy="377.5" r="2.35"/><circle cx="488.7" cy="366.9" r="2.35"/><circle cx="507.0" cy="368.8" r="2.35"/><circle cx="486.6" cy="356.0" r="2.35"/><circle cx="485.5" cy="354.7" r="2.35"/><circle cx="506.5" cy="373.9" r="2.35"/><circle cx="465.7" cy="384.5" r="2.35"/><circle cx="466.4" cy="397.0" r="2.35"/><circle cx="504.3" cy="373.8" r="2.35"/><circle cx="496.3" cy="376.9" r="2.35"/><circle cx="502.9" cy="334.0" r="2.35"/><circle cx="476.2" cy="398.2" r="2.35"/><circle cx="500.3" cy="382.6" r="2.35"/><circle cx="467.5" cy="356.5" r="2.35"/><circle cx="478.4" cy="381.2" r="2.35"/><circle cx="473.5" cy="367.9" r="2.35"/><circle cx="499.6" cy="393.1" r="2.35"/><circle cx="474.4" cy="355.4" r="2.35"/><circle cx="490.7" cy="344.9" r="2.35"/><circle cx="493.0" cy="366.1" r="2.35"/><circle cx="462.8" cy="373.0" r="2.35"/><circle cx="508.7" cy="374.3" r="2.35"/><circle cx="460.8" cy="394.1" r="2.35"/><circle cx="500.3" cy="358.4" r="2.35"/><circle cx="463.5" cy="379.8" r="2.35"/><circle cx="463.8" cy="388.4" r="2.35"/><circle cx="470.0" cy="400.4" r="2.35"/><circle cx="493.9" cy="357.2" r="2.35"/><circle cx="487.1" cy="361.9" r="2.35"/><circle cx="492.6" cy="368.6" r="2.35"/><circle cx="500.3" cy="349.0" r="2.35"/><circle cx="462.7" cy="386.2" r="2.35"/><circle cx="504.5" cy="379.8" r="2.35"/><circle cx="497.7" cy="369.1" r="2.35"/><circle cx="474.6" cy="374.5" r="2.35"/><circle cx="479.7" cy="379.5" r="2.35"/><circle cx="457.2" cy="373.1" r="2.35"/><circle cx="488.7" cy="351.7" r="2.35"/><circle cx="491.0" cy="336.5" r="2.35"/><circle cx="484.8" cy="347.4" r="2.35"/><circle cx="481.3" cy="388.2" r="2.35"/><circle cx="475.4" cy="369.2" r="2.35"/><circle cx="460.5" cy="396.6" r="2.35"/><circle cx="500.6" cy="388.6" r="2.35"/><circle cx="455.3" cy="393.5" r="2.35"/><circle cx="487.4" cy="366.2" r="2.35"/><circle cx="504.0" cy="355.4" r="2.35"/><circle cx="509.5" cy="359.1" r="2.35"/><circle cx="501.1" cy="335.6" r="2.35"/><circle cx="489.1" cy="354.8" r="2.35"/><circle cx="500.2" cy="394.0" r="2.35"/><circle cx="491.5" cy="352.7" r="2.35"/><circle cx="463.6" cy="390.7" r="2.35"/><circle cx="477.4" cy="344.4" r="2.35"/><circle cx="452.9" cy="383.9" r="2.35"/><circle cx="470.0" cy="394.6" r="2.35"/><circle cx="462.9" cy="362.7" r="2.35"/><circle cx="508.7" cy="367.2" r="2.35"/><circle cx="468.3" cy="399.0" r="2.35"/><circle cx="491.2" cy="393.7" r="2.35"/><circle cx="461.3" cy="377.7" r="2.35"/><circle cx="505.5" cy="371.8" r="2.35"/><circle cx="486.9" cy="361.1" r="2.35"/><circle cx="466.4" cy="364.0" r="2.35"/><circle cx="464.9" cy="398.9" r="2.35"/><circle cx="458.2" cy="391.9" r="2.35"/><circle cx="477.0" cy="375.6" r="2.35"/><circle cx="477.7" cy="387.3" r="2.35"/><circle cx="465.6" cy="393.4" r="2.35"/><circle cx="481.1" cy="383.6" r="2.35"/><circle cx="469.2" cy="394.6" r="2.35"/><circle cx="457.0" cy="398.7" r="2.35"/><circle cx="468.5" cy="384.5" r="2.35"/><circle cx="497.4" cy="357.7" r="2.35"/><circle cx="463.4" cy="386.9" r="2.35"/><circle cx="471.1" cy="373.7" r="2.35"/><circle cx="486.2" cy="377.7" r="2.35"/><circle cx="495.6" cy="343.7" r="2.35"/><circle cx="462.8" cy="368.7" r="2.35"/><circle cx="488.5" cy="364.3" r="2.35"/><circle cx="503.8" cy="338.0" r="2.35"/><circle cx="496.8" cy="374.8" r="2.35"/><circle cx="476.3" cy="362.2" r="2.35"/><circle cx="470.0" cy="384.6" r="2.35"/><circle cx="490.0" cy="387.2" r="2.35"/><circle cx="514.1" cy="376.3" r="2.35"/><circle cx="480.7" cy="334.1" r="2.35"/><circle cx="475.0" cy="366.9" r="2.35"/><circle cx="497.1" cy="350.7" r="2.35"/><circle cx="498.9" cy="374.2" r="2.35"/><circle cx="469.0" cy="390.9" r="2.35"/><circle cx="454.7" cy="374.8" r="2.35"/><circle cx="484.4" cy="376.5" r="2.35"/><circle cx="513.7" cy="359.9" r="2.35"/><circle cx="461.6" cy="383.7" r="2.35"/><circle cx="473.2" cy="379.8" r="2.35"/><circle cx="491.6" cy="377.6" r="2.35"/><circle cx="470.4" cy="378.8" r="2.35"/><circle cx="493.0" cy="374.4" r="2.35"/><circle cx="482.5" cy="387.9" r="2.35"/><circle cx="463.4" cy="384.8" r="2.35"/><circle cx="466.6" cy="407.1" r="2.35"/><circle cx="504.2" cy="373.9" r="2.35"/><circle cx="454.4" cy="377.9" r="2.35"/><circle cx="476.6" cy="338.7" r="2.35"/><circle cx="500.2" cy="334.0" r="2.35"/><circle cx="479.5" cy="371.5" r="2.35"/><circle cx="472.5" cy="365.3" r="2.35"/><circle cx="504.5" cy="356.8" r="2.35"/><circle cx="507.9" cy="362.5" r="2.35"/><circle cx="472.6" cy="340.7" r="2.35"/><circle cx="464.8" cy="397.9" r="2.35"/><circle cx="458.5" cy="371.7" r="2.35"/><circle cx="491.4" cy="368.9" r="2.35"/><circle cx="483.2" cy="358.8" r="2.35"/><circle cx="462.6" cy="393.6" r="2.35"/><circle cx="509.5" cy="372.5" r="2.35"/><circle cx="466.5" cy="401.1" r="2.35"/><circle cx="505.1" cy="373.2" r="2.35"/><circle cx="500.1" cy="332.4" r="2.35"/><circle cx="509.8" cy="353.5" r="2.35"/><circle cx="470.0" cy="390.1" r="2.35"/><circle cx="496.8" cy="342.2" r="2.35"/><circle cx="495.5" cy="373.7" r="2.35"/><circle cx="481.9" cy="372.7" r="2.35"/><circle cx="470.1" cy="342.4" r="2.35"/><circle cx="510.5" cy="356.3" r="2.35"/><circle cx="483.8" cy="381.7" r="2.35"/><circle cx="472.4" cy="338.4" r="2.35"/><circle cx="470.1" cy="399.8" r="2.35"/><circle cx="461.7" cy="362.6" r="2.35"/><circle cx="484.6" cy="356.2" r="2.35"/><circle cx="485.6" cy="344.0" r="2.35"/><circle cx="470.5" cy="352.6" r="2.35"/><circle cx="477.5" cy="396.3" r="2.35"/><circle cx="487.9" cy="347.2" r="2.35"/><circle cx="479.0" cy="396.7" r="2.35"/><circle cx="468.6" cy="349.6" r="2.35"/><circle cx="502.9" cy="332.6" r="2.35"/><circle cx="493.9" cy="333.4" r="2.35"/><circle cx="459.4" cy="375.6" r="2.35"/><circle cx="506.4" cy="363.4" r="2.35"/><circle cx="468.0" cy="377.4" r="2.35"/><circle cx="474.9" cy="367.7" r="2.35"/><circle cx="468.0" cy="380.2" r="2.35"/><circle cx="466.8" cy="400.5" r="2.35"/><circle cx="473.2" cy="344.4" r="2.35"/><circle cx="464.1" cy="398.7" r="2.35"/><circle cx="477.5" cy="362.6" r="2.35"/><circle cx="500.7" cy="345.9" r="2.35"/><circle cx="471.6" cy="367.7" r="2.35"/><circle cx="467.0" cy="354.7" r="2.35"/><circle cx="463.9" cy="346.0" r="2.35"/><circle cx="499.7" cy="375.7" r="2.35"/><circle cx="479.4" cy="364.9" r="2.35"/><circle cx="490.6" cy="382.4" r="2.35"/><circle cx="480.6" cy="354.3" r="2.35"/><circle cx="478.9" cy="362.3" r="2.35"/><circle cx="466.8" cy="388.7" r="2.35"/><circle cx="485.0" cy="350.2" r="2.35"/><circle cx="504.8" cy="362.9" r="2.35"/><circle cx="493.2" cy="338.9" r="2.35"/><circle cx="465.7" cy="342.9" r="2.35"/><circle cx="474.6" cy="378.6" r="2.35"/><circle cx="478.1" cy="380.5" r="2.35"/><circle cx="504.8" cy="358.8" r="2.35"/><circle cx="489.9" cy="348.5" r="2.35"/><circle cx="480.0" cy="378.3" r="2.35"/><circle cx="473.0" cy="342.0" r="2.35"/><circle cx="468.7" cy="369.0" r="2.35"/><circle cx="476.3" cy="355.0" r="2.35"/><circle cx="471.3" cy="344.0" r="2.35"/><circle cx="483.4" cy="375.4" r="2.35"/><circle cx="455.7" cy="374.7" r="2.35"/><circle cx="458.5" cy="383.4" r="2.35"/><circle cx="486.8" cy="381.7" r="2.35"/><circle cx="470.0" cy="343.3" r="2.35"/><circle cx="486.1" cy="374.6" r="2.35"/><circle cx="473.3" cy="396.8" r="2.35"/><circle cx="496.1" cy="342.2" r="2.35"/><circle cx="503.5" cy="336.6" r="2.35"/><circle cx="462.5" cy="375.4" r="2.35"/><circle cx="480.7" cy="383.4" r="2.35"/><circle cx="456.3" cy="398.0" r="2.35"/><circle cx="479.1" cy="386.8" r="2.35"/><circle cx="490.1" cy="362.7" r="2.35"/><circle cx="469.3" cy="364.4" r="2.35"/><circle cx="504.7" cy="336.1" r="2.35"/><circle cx="506.2" cy="356.9" r="2.35"/><circle cx="485.1" cy="374.4" r="2.35"/><circle cx="497.6" cy="352.4" r="2.35"/><circle cx="470.0" cy="387.7" r="2.35"/><circle cx="474.8" cy="375.6" r="2.35"/><circle cx="471.1" cy="394.5" r="2.35"/><circle cx="501.5" cy="342.7" r="2.35"/><circle cx="465.6" cy="341.8" r="2.35"/><circle cx="458.4" cy="389.9" r="2.35"/><circle cx="501.7" cy="350.6" r="2.35"/><circle cx="502.2" cy="367.9" r="2.35"/><circle cx="481.2" cy="336.4" r="2.35"/><circle cx="493.2" cy="383.7" r="2.35"/><circle cx="497.1" cy="388.9" r="2.35"/><circle cx="540.3" cy="274.4" r="2.35"/><circle cx="499.4" cy="285.4" r="2.35"/><circle cx="497.9" cy="288.6" r="2.35"/><circle cx="476.4" cy="296.7" r="2.35"/><circle cx="517.6" cy="293.6" r="2.35"/><circle cx="531.2" cy="295.2" r="2.35"/><circle cx="536.9" cy="296.7" r="2.35"/><circle cx="531.2" cy="303.0" r="2.35"/><circle cx="502.9" cy="304.6" r="2.35"/><circle cx="475.2" cy="310.5" r="2.35"/><circle cx="494.1" cy="311.9" r="2.35"/><circle cx="463.0" cy="316.4" r="2.35"/><circle cx="459.3" cy="318.8" r="2.35"/><circle cx="468.3" cy="319.5" r="2.35"/><circle cx="507.0" cy="318.5" r="2.35"/><circle cx="521.9" cy="317.5" r="2.35"/><circle cx="585.2" cy="255.4" r="2.35"/><circle cx="579.3" cy="262.6" r="2.35"/><circle cx="561.4" cy="279.0" r="2.35"/><circle cx="587.9" cy="274.7" r="2.35"/><circle cx="598.6" cy="272.8" r="2.35"/><circle cx="608.4" cy="277.4" r="2.35"/><circle cx="621.3" cy="271.3" r="2.35"/><circle cx="583.4" cy="283.4" r="2.35"/><circle cx="582.7" cy="284.9" r="2.35"/><circle cx="617.2" cy="283.4" r="2.35"/><circle cx="618.3" cy="285.4" r="2.35"/><circle cx="597.4" cy="290.8" r="2.35"/><circle cx="605.1" cy="289.6" r="2.35"/><circle cx="611.9" cy="297.1" r="2.35"/><circle cx="595.6" cy="299.6" r="2.35"/><circle cx="592.5" cy="302.3" r="2.35"/><circle cx="563.2" cy="306.5" r="2.35"/><circle cx="573.1" cy="307.4" r="2.35"/><circle cx="566.7" cy="312.5" r="2.35"/><circle cx="569.8" cy="310.8" r="2.35"/><circle cx="574.3" cy="312.2" r="2.35"/><circle cx="592.2" cy="309.8" r="2.35"/><circle cx="556.9" cy="313.8" r="2.35"/><circle cx="558.1" cy="315.3" r="2.35"/><circle cx="556.1" cy="319.5" r="2.35"/><circle cx="463.0" cy="317.4" r="2.35"/><circle cx="469.1" cy="321.4" r="2.35"/><circle cx="470.6" cy="323.7" r="2.35"/><circle cx="482.0" cy="323.7" r="2.35"/><circle cx="463.8" cy="336.3" r="2.35"/><circle cx="507.8" cy="319.0" r="2.35"/><circle cx="507.8" cy="322.1" r="2.35"/><circle cx="522.2" cy="318.3" r="2.35"/><circle cx="515.3" cy="325.6" r="2.35"/><circle cx="521.1" cy="324.5" r="2.35"/><circle cx="522.9" cy="328.4" r="2.35"/><circle cx="523.7" cy="331.6" r="2.35"/><circle cx="512.3" cy="332.4" r="2.35"/><circle cx="523.7" cy="336.3" r="2.35"/><circle cx="538.1" cy="337.1" r="2.35"/><circle cx="512.3" cy="338.6" r="2.35"/><circle cx="512.3" cy="344.2" r="2.35"/><circle cx="519.9" cy="342.6" r="2.35"/><circle cx="527.4" cy="341.0" r="2.35"/><circle cx="530.5" cy="345.7" r="2.35"/><circle cx="516.8" cy="348.9" r="2.35"/><circle cx="515.3" cy="353.6" r="2.35"/><circle cx="519.9" cy="356.8" r="2.35"/><circle cx="529.7" cy="355.1" r="2.35"/><circle cx="535.1" cy="357.5" r="2.35"/><circle cx="522.9" cy="362.2" r="2.35"/><circle cx="527.4" cy="360.7" r="2.35"/><circle cx="513.8" cy="363.1" r="2.35"/><circle cx="517.6" cy="367.8" r="2.35"/><circle cx="518.4" cy="370.9" r="2.35"/><circle cx="454.7" cy="370.9" r="2.35"/><circle cx="510.8" cy="381.9" r="2.35"/><circle cx="525.9" cy="383.5" r="2.35"/><circle cx="453.1" cy="383.5" r="2.35"/><circle cx="452.8" cy="389.9" r="2.35"/><circle cx="467.5" cy="412.8" r="2.35"/><circle cx="473.4" cy="414.8" r="2.35"/><circle cx="480.7" cy="412.8" r="2.35"/><circle cx="480.7" cy="417.8" r="2.35"/><circle cx="486.6" cy="417.8" r="2.35"/><circle cx="485.1" cy="404.4" r="2.35"/><circle cx="494.7" cy="403.6" r="2.35"/><circle cx="498.3" cy="406.7" r="2.35"/><circle cx="496.9" cy="411.2" r="2.35"/><circle cx="505.7" cy="416.6" r="2.35"/><circle cx="512.7" cy="401.1" r="2.35"/><circle cx="522.6" cy="404.7" r="2.35"/><circle cx="525.5" cy="383.3" r="2.35"/><circle cx="513.0" cy="381.5" r="2.35"/><circle cx="509.4" cy="379.3" r="2.35"/><circle cx="513.3" cy="426.0" r="2.35"/><circle cx="520.4" cy="422.4" r="2.35"/><circle cx="504.3" cy="389.2" r="2.35"/><circle cx="555.9" cy="320.6" r="2.35"/><circle cx="546.0" cy="328.1" r="2.35"/><circle cx="542.5" cy="333.5" r="2.35"/><circle cx="553.9" cy="336.3" r="2.35"/><circle cx="565.3" cy="331.9" r="2.35"/><circle cx="582.5" cy="331.3" r="2.35"/><circle cx="555.4" cy="356.0" r="2.35"/><circle cx="546.8" cy="378.7" r="2.35"/><circle cx="501.6" cy="331.9" r="2.35"/><circle cx="512.0" cy="332.7" r="2.35"/><circle cx="521.8" cy="331.3" r="2.35"/><circle cx="523.7" cy="336.0" r="2.35"/><circle cx="512.6" cy="339.4" r="2.35"/><circle cx="512.0" cy="344.1" r="2.35"/><circle cx="519.8" cy="342.8" r="2.35"/><circle cx="528.2" cy="342.8" r="2.35"/><circle cx="530.1" cy="345.4" r="2.35"/><circle cx="515.9" cy="348.9" r="2.35"/><circle cx="517.1" cy="352.2" r="2.35"/><circle cx="512.6" cy="354.9" r="2.35"/><circle cx="519.8" cy="356.9" r="2.35"/><circle cx="530.1" cy="354.2" r="2.35"/><circle cx="534.8" cy="357.6" r="2.35"/><circle cx="523.1" cy="361.6" r="2.35"/><circle cx="527.6" cy="361.0" r="2.35"/><circle cx="513.3" cy="363.0" r="2.35"/><circle cx="517.8" cy="367.0" r="2.35"/><circle cx="517.8" cy="370.4" r="2.35"/><circle cx="509.4" cy="367.7" r="2.35"/><circle cx="511.3" cy="369.0" r="2.35"/><circle cx="508.8" cy="374.4" r="2.35"/><circle cx="508.8" cy="381.1" r="2.35"/><circle cx="512.6" cy="381.9" r="2.35"/><circle cx="525.6" cy="383.2" r="2.35"/><circle cx="504.2" cy="386.6" r="2.35"/><circle cx="503.6" cy="389.9" r="2.35"/><circle cx="464.3" cy="335.4" r="2.35"/><circle cx="462.3" cy="336.7" r="2.35"/><circle cx="471.4" cy="332.7" r="2.35"/><circle cx="477.3" cy="328.0" r="2.35"/><circle cx="479.8" cy="330.6" r="2.35"/><circle cx="482.4" cy="323.6" r="2.35"/><circle cx="469.4" cy="321.2" r="2.35"/><circle cx="470.7" cy="323.2" r="2.35"/><circle cx="459.1" cy="319.2" r="2.35"/><circle cx="463.0" cy="315.9" r="2.35"/><circle cx="475.3" cy="310.4" r="2.35"/><circle cx="494.1" cy="311.8" r="2.35"/><circle cx="487.7" cy="330.6" r="2.35"/><circle cx="485.1" cy="403.6" r="2.35"/><circle cx="494.7" cy="404.4" r="2.35"/><circle cx="498.3" cy="406.7" r="2.35"/><circle cx="471.2" cy="405.2" r="2.35"/><circle cx="476.3" cy="404.1" r="2.35"/><circle cx="487.3" cy="399.9" r="2.35"/><circle cx="463.2" cy="406.2" r="2.35"/><circle cx="458.2" cy="402.0" r="2.35"/></g>
<g fill="#70AD47"><circle cx="457.3" cy="355.1" r="2.35"/><circle cx="462.5" cy="417.4" r="2.35"/><circle cx="456.8" cy="388.2" r="2.35"/><circle cx="458.6" cy="360.4" r="2.35"/><circle cx="455.9" cy="370.9" r="2.35"/><circle cx="469.6" cy="403.2" r="2.35"/><circle cx="471.0" cy="385.9" r="2.35"/><circle cx="455.4" cy="383.4" r="2.35"/><circle cx="477.1" cy="389.1" r="2.35"/><circle cx="465.9" cy="378.9" r="2.35"/><circle cx="468.7" cy="380.2" r="2.35"/><circle cx="454.9" cy="370.5" r="2.35"/><circle cx="469.6" cy="368.6" r="2.35"/><circle cx="466.7" cy="383.2" r="2.35"/><circle cx="456.0" cy="378.8" r="2.35"/><circle cx="456.2" cy="395.6" r="2.35"/><circle cx="461.1" cy="404.3" r="2.35"/><circle cx="459.9" cy="389.9" r="2.35"/><circle cx="473.9" cy="394.3" r="2.35"/><circle cx="457.3" cy="372.5" r="2.35"/><circle cx="455.4" cy="382.3" r="2.35"/><circle cx="462.8" cy="419.3" r="2.35"/><circle cx="469.4" cy="409.7" r="2.35"/><circle cx="459.1" cy="361.8" r="2.35"/><circle cx="463.8" cy="357.6" r="2.35"/><circle cx="461.9" cy="420.7" r="2.35"/><circle cx="461.3" cy="369.4" r="2.35"/><circle cx="463.2" cy="363.1" r="2.35"/><circle cx="465.3" cy="366.2" r="2.35"/><circle cx="466.5" cy="406.4" r="2.35"/><circle cx="457.5" cy="378.6" r="2.35"/><circle cx="457.5" cy="363.1" r="2.35"/><circle cx="462.5" cy="416.1" r="2.35"/><circle cx="470.4" cy="407.7" r="2.35"/><circle cx="473.3" cy="385.0" r="2.35"/><circle cx="466.5" cy="397.3" r="2.35"/><circle cx="471.5" cy="367.7" r="2.35"/><circle cx="464.7" cy="387.4" r="2.35"/><circle cx="468.6" cy="384.6" r="2.35"/><circle cx="477.1" cy="393.7" r="2.35"/><circle cx="461.3" cy="405.9" r="2.35"/><circle cx="474.6" cy="371.0" r="2.35"/><circle cx="457.2" cy="384.4" r="2.35"/><circle cx="477.7" cy="386.4" r="2.35"/><circle cx="463.5" cy="412.8" r="2.35"/><circle cx="477.6" cy="362.2" r="2.35"/><circle cx="476.2" cy="379.5" r="2.35"/><circle cx="475.0" cy="360.0" r="2.35"/><circle cx="477.4" cy="360.7" r="2.35"/><circle cx="465.4" cy="373.1" r="2.35"/><circle cx="466.9" cy="416.3" r="2.35"/><circle cx="459.7" cy="388.9" r="2.35"/><circle cx="465.2" cy="401.9" r="2.35"/><circle cx="465.1" cy="353.0" r="2.35"/><circle cx="469.6" cy="398.9" r="2.35"/><circle cx="469.0" cy="371.2" r="2.35"/><circle cx="469.2" cy="381.0" r="2.35"/><circle cx="461.3" cy="397.8" r="2.35"/><circle cx="461.6" cy="391.2" r="2.35"/><circle cx="460.9" cy="394.7" r="2.35"/><circle cx="459.3" cy="349.0" r="2.35"/><circle cx="468.2" cy="385.1" r="2.35"/><circle cx="470.4" cy="398.8" r="2.35"/><circle cx="473.3" cy="394.4" r="2.35"/><circle cx="476.0" cy="370.4" r="2.35"/><circle cx="459.6" cy="364.8" r="2.35"/><circle cx="460.1" cy="395.1" r="2.35"/><circle cx="462.5" cy="377.8" r="2.35"/><circle cx="475.6" cy="368.9" r="2.35"/><circle cx="466.9" cy="400.2" r="2.35"/><circle cx="469.2" cy="375.1" r="2.35"/><circle cx="472.9" cy="397.3" r="2.35"/><circle cx="472.5" cy="390.0" r="2.35"/><circle cx="471.7" cy="402.5" r="2.35"/><circle cx="467.2" cy="385.6" r="2.35"/><circle cx="465.1" cy="352.4" r="2.35"/><circle cx="457.9" cy="377.1" r="2.35"/><circle cx="462.0" cy="379.5" r="2.35"/><circle cx="457.2" cy="389.5" r="2.35"/><circle cx="464.9" cy="402.1" r="2.35"/><circle cx="461.8" cy="412.0" r="2.35"/><circle cx="476.1" cy="392.1" r="2.35"/><circle cx="478.6" cy="370.5" r="2.35"/><circle cx="478.1" cy="393.1" r="2.35"/><circle cx="469.8" cy="366.8" r="2.35"/><circle cx="470.6" cy="400.6" r="2.35"/><circle cx="468.9" cy="387.5" r="2.35"/><circle cx="480.9" cy="374.2" r="2.35"/><circle cx="472.3" cy="385.3" r="2.35"/><circle cx="467.0" cy="392.9" r="2.35"/><circle cx="457.7" cy="362.6" r="2.35"/><circle cx="475.9" cy="386.1" r="2.35"/><circle cx="469.5" cy="394.8" r="2.35"/><circle cx="450.9" cy="383.8" r="2.35"/><circle cx="461.2" cy="415.3" r="2.35"/><circle cx="462.1" cy="393.4" r="2.35"/><circle cx="459.3" cy="400.0" r="2.35"/><circle cx="458.5" cy="405.0" r="2.35"/><circle cx="469.6" cy="411.6" r="2.35"/><circle cx="460.0" cy="394.6" r="2.35"/><circle cx="457.9" cy="386.3" r="2.35"/><circle cx="477.9" cy="385.4" r="2.35"/><circle cx="457.5" cy="411.7" r="2.35"/><circle cx="470.7" cy="416.5" r="2.35"/><circle cx="455.6" cy="363.0" r="2.35"/><circle cx="460.1" cy="372.3" r="2.35"/><circle cx="470.9" cy="411.7" r="2.35"/><circle cx="467.0" cy="388.5" r="2.35"/><circle cx="461.3" cy="404.1" r="2.35"/><circle cx="456.8" cy="365.4" r="2.35"/><circle cx="467.9" cy="362.1" r="2.35"/><circle cx="469.5" cy="373.5" r="2.35"/><circle cx="461.3" cy="401.3" r="2.35"/><circle cx="479.4" cy="385.2" r="2.35"/><circle cx="459.5" cy="402.2" r="2.35"/><circle cx="462.2" cy="357.9" r="2.35"/><circle cx="461.7" cy="382.7" r="2.35"/><circle cx="461.1" cy="381.3" r="2.35"/><circle cx="478.0" cy="384.0" r="2.35"/><circle cx="468.7" cy="402.6" r="2.35"/><circle cx="455.6" cy="369.0" r="2.35"/><circle cx="463.6" cy="371.2" r="2.35"/><circle cx="469.8" cy="360.2" r="2.35"/><circle cx="460.7" cy="398.9" r="2.35"/><circle cx="458.0" cy="372.8" r="2.35"/><circle cx="466.8" cy="388.8" r="2.35"/><circle cx="461.4" cy="413.2" r="2.35"/><circle cx="456.1" cy="383.2" r="2.35"/><circle cx="468.9" cy="388.8" r="2.35"/><circle cx="477.1" cy="363.2" r="2.35"/><circle cx="458.7" cy="400.0" r="2.35"/><circle cx="458.9" cy="379.1" r="2.35"/><circle cx="452.1" cy="380.3" r="2.35"/><circle cx="463.2" cy="417.0" r="2.35"/><circle cx="475.6" cy="362.6" r="2.35"/><circle cx="466.2" cy="379.6" r="2.35"/><circle cx="470.9" cy="395.4" r="2.35"/><circle cx="465.9" cy="389.2" r="2.35"/><circle cx="463.6" cy="357.6" r="2.35"/><circle cx="460.1" cy="373.1" r="2.35"/><circle cx="458.6" cy="392.1" r="2.35"/><circle cx="467.0" cy="379.7" r="2.35"/><circle cx="459.4" cy="374.7" r="2.35"/><circle cx="473.7" cy="387.3" r="2.35"/><circle cx="466.7" cy="366.1" r="2.35"/><circle cx="469.5" cy="360.2" r="2.35"/><circle cx="465.0" cy="397.0" r="2.35"/><circle cx="467.0" cy="391.6" r="2.35"/><circle cx="467.8" cy="362.0" r="2.35"/><circle cx="464.1" cy="372.6" r="2.35"/><circle cx="459.4" cy="371.4" r="2.35"/><circle cx="459.3" cy="371.4" r="2.35"/><circle cx="456.4" cy="384.2" r="2.35"/><circle cx="459.0" cy="375.4" r="2.35"/><circle cx="470.7" cy="371.3" r="2.35"/><circle cx="460.2" cy="411.0" r="2.35"/><circle cx="470.5" cy="389.7" r="2.35"/><circle cx="456.9" cy="366.0" r="2.35"/><circle cx="463.8" cy="403.2" r="2.35"/><circle cx="459.0" cy="354.0" r="2.35"/><circle cx="460.9" cy="399.4" r="2.35"/><circle cx="473.8" cy="391.0" r="2.35"/><circle cx="465.3" cy="418.8" r="2.35"/><circle cx="463.5" cy="403.1" r="2.35"/><circle cx="462.2" cy="353.8" r="2.35"/><circle cx="462.1" cy="363.3" r="2.35"/><circle cx="453.8" cy="382.1" r="2.35"/><circle cx="459.9" cy="398.4" r="2.35"/><circle cx="477.9" cy="377.5" r="2.35"/><circle cx="472.2" cy="380.5" r="2.35"/><circle cx="468.0" cy="394.7" r="2.35"/><circle cx="479.0" cy="369.0" r="2.35"/><circle cx="469.7" cy="398.6" r="2.35"/><circle cx="457.3" cy="361.3" r="2.35"/><circle cx="477.5" cy="374.3" r="2.35"/><circle cx="463.1" cy="379.2" r="2.35"/><circle cx="471.9" cy="405.6" r="2.35"/><circle cx="473.2" cy="368.6" r="2.35"/><circle cx="454.3" cy="374.7" r="2.35"/><circle cx="458.2" cy="402.0" r="2.35"/><circle cx="473.2" cy="373.8" r="2.35"/><circle cx="465.9" cy="405.0" r="2.35"/><circle cx="473.2" cy="398.3" r="2.35"/><circle cx="457.9" cy="394.7" r="2.35"/><circle cx="477.2" cy="370.5" r="2.35"/><circle cx="474.1" cy="359.0" r="2.35"/><circle cx="467.9" cy="368.1" r="2.35"/><circle cx="463.7" cy="402.4" r="2.35"/><circle cx="470.0" cy="364.4" r="2.35"/><circle cx="469.2" cy="360.5" r="2.35"/><circle cx="474.9" cy="364.0" r="2.35"/><circle cx="460.8" cy="391.1" r="2.35"/><circle cx="468.0" cy="401.3" r="2.35"/><circle cx="453.6" cy="366.4" r="2.35"/><circle cx="477.0" cy="373.0" r="2.35"/><circle cx="462.0" cy="363.0" r="2.35"/><circle cx="457.7" cy="384.6" r="2.35"/><circle cx="462.0" cy="352.6" r="2.35"/><circle cx="463.3" cy="409.8" r="2.35"/><circle cx="464.2" cy="413.3" r="2.35"/><circle cx="466.4" cy="412.6" r="2.35"/><circle cx="461.4" cy="390.4" r="2.35"/><circle cx="457.6" cy="396.1" r="2.35"/><circle cx="467.6" cy="414.6" r="2.35"/><circle cx="471.6" cy="377.0" r="2.35"/><circle cx="467.0" cy="397.0" r="2.35"/><circle cx="469.2" cy="361.7" r="2.35"/><circle cx="477.7" cy="388.5" r="2.35"/><circle cx="459.5" cy="353.4" r="2.35"/><circle cx="464.4" cy="354.4" r="2.35"/><circle cx="466.5" cy="368.5" r="2.35"/><circle cx="468.2" cy="367.8" r="2.35"/><circle cx="462.4" cy="393.0" r="2.35"/><circle cx="455.0" cy="384.8" r="2.35"/><circle cx="477.7" cy="373.5" r="2.35"/><circle cx="472.2" cy="361.8" r="2.35"/><circle cx="460.4" cy="349.6" r="2.35"/><circle cx="472.8" cy="382.8" r="2.35"/><circle cx="466.5" cy="357.0" r="2.35"/><circle cx="455.3" cy="375.1" r="2.35"/><circle cx="466.0" cy="409.9" r="2.35"/><circle cx="464.0" cy="372.3" r="2.35"/><circle cx="461.7" cy="388.9" r="2.35"/><circle cx="468.8" cy="393.9" r="2.35"/><circle cx="454.8" cy="386.1" r="2.35"/><circle cx="455.4" cy="376.6" r="2.35"/><circle cx="455.5" cy="371.7" r="2.35"/><circle cx="469.6" cy="377.7" r="2.35"/><circle cx="455.1" cy="383.0" r="2.35"/><circle cx="470.9" cy="370.2" r="2.35"/><circle cx="458.4" cy="380.5" r="2.35"/><circle cx="463.0" cy="375.7" r="2.35"/><circle cx="460.8" cy="375.2" r="2.35"/><circle cx="468.0" cy="376.9" r="2.35"/><circle cx="453.9" cy="383.2" r="2.35"/><circle cx="463.9" cy="374.9" r="2.35"/><circle cx="474.0" cy="358.5" r="2.35"/><circle cx="469.5" cy="386.5" r="2.35"/><circle cx="471.0" cy="410.4" r="2.35"/><circle cx="471.4" cy="368.6" r="2.35"/><circle cx="462.7" cy="408.7" r="2.35"/><circle cx="474.7" cy="389.7" r="2.35"/><circle cx="460.6" cy="366.8" r="2.35"/><circle cx="462.0" cy="351.8" r="2.35"/><circle cx="469.1" cy="379.9" r="2.35"/><circle cx="458.2" cy="355.0" r="2.35"/><circle cx="458.6" cy="415.9" r="2.35"/><circle cx="462.1" cy="406.7" r="2.35"/><circle cx="466.3" cy="381.4" r="2.35"/><circle cx="466.1" cy="369.0" r="2.35"/><circle cx="460.9" cy="368.5" r="2.35"/><circle cx="469.8" cy="380.9" r="2.35"/><circle cx="466.2" cy="396.8" r="2.35"/><circle cx="459.2" cy="398.1" r="2.35"/><circle cx="462.0" cy="387.9" r="2.35"/><circle cx="473.7" cy="372.8" r="2.35"/><circle cx="460.1" cy="394.7" r="2.35"/><circle cx="461.6" cy="412.0" r="2.35"/><circle cx="460.8" cy="364.0" r="2.35"/><circle cx="469.1" cy="393.0" r="2.35"/><circle cx="463.1" cy="381.5" r="2.35"/><circle cx="470.4" cy="385.8" r="2.35"/><circle cx="468.4" cy="377.9" r="2.35"/><circle cx="477.8" cy="366.8" r="2.35"/><circle cx="465.4" cy="359.3" r="2.35"/><circle cx="457.9" cy="393.5" r="2.35"/><circle cx="454.5" cy="377.6" r="2.35"/><circle cx="461.4" cy="419.3" r="2.35"/><circle cx="465.9" cy="383.0" r="2.35"/><circle cx="455.0" cy="373.7" r="2.35"/><circle cx="461.3" cy="374.6" r="2.35"/><circle cx="467.4" cy="389.7" r="2.35"/><circle cx="464.5" cy="380.9" r="2.35"/><circle cx="469.0" cy="384.3" r="2.35"/><circle cx="462.7" cy="412.4" r="2.35"/><circle cx="454.0" cy="388.9" r="2.35"/><circle cx="469.8" cy="409.7" r="2.35"/><circle cx="470.3" cy="390.9" r="2.35"/><circle cx="463.7" cy="395.6" r="2.35"/><circle cx="454.9" cy="388.7" r="2.35"/><circle cx="457.4" cy="408.0" r="2.35"/><circle cx="465.9" cy="370.1" r="2.35"/><circle cx="463.7" cy="402.9" r="2.35"/><circle cx="472.9" cy="362.8" r="2.35"/><circle cx="468.0" cy="414.2" r="2.35"/><circle cx="460.5" cy="396.2" r="2.35"/><circle cx="464.6" cy="358.6" r="2.35"/><circle cx="461.2" cy="401.1" r="2.35"/><circle cx="467.3" cy="411.9" r="2.35"/><circle cx="465.3" cy="390.5" r="2.35"/><circle cx="466.2" cy="398.8" r="2.35"/><circle cx="468.1" cy="377.4" r="2.35"/><circle cx="472.3" cy="368.0" r="2.35"/><circle cx="463.1" cy="375.4" r="2.35"/><circle cx="458.1" cy="365.8" r="2.35"/><circle cx="473.3" cy="381.3" r="2.35"/><circle cx="472.6" cy="397.7" r="2.35"/><circle cx="465.0" cy="358.3" r="2.35"/><circle cx="467.8" cy="364.8" r="2.35"/><circle cx="457.1" cy="390.1" r="2.35"/><circle cx="458.2" cy="370.0" r="2.35"/><circle cx="474.5" cy="390.2" r="2.35"/><circle cx="462.2" cy="381.9" r="2.35"/><circle cx="463.8" cy="395.2" r="2.35"/><circle cx="474.6" cy="384.1" r="2.35"/><circle cx="478.2" cy="369.9" r="2.35"/><circle cx="472.9" cy="361.9" r="2.35"/><circle cx="465.2" cy="380.3" r="2.35"/><circle cx="469.8" cy="387.8" r="2.35"/><circle cx="466.4" cy="394.8" r="2.35"/><circle cx="460.8" cy="397.8" r="2.35"/><circle cx="462.3" cy="391.9" r="2.35"/><circle cx="472.3" cy="370.9" r="2.35"/><circle cx="463.3" cy="359.7" r="2.35"/><circle cx="455.1" cy="383.3" r="2.35"/><circle cx="473.7" cy="363.2" r="2.35"/><circle cx="472.4" cy="391.1" r="2.35"/><circle cx="458.5" cy="407.7" r="2.35"/><circle cx="462.3" cy="357.5" r="2.35"/><circle cx="475.5" cy="359.2" r="2.35"/><circle cx="477.5" cy="365.3" r="2.35"/><circle cx="458.1" cy="377.2" r="2.35"/><circle cx="472.6" cy="362.1" r="2.35"/><circle cx="459.8" cy="352.3" r="2.35"/><circle cx="468.7" cy="415.9" r="2.35"/><circle cx="458.7" cy="395.7" r="2.35"/><circle cx="463.5" cy="373.0" r="2.35"/><circle cx="463.6" cy="403.4" r="2.35"/><circle cx="470.8" cy="406.7" r="2.35"/><circle cx="466.7" cy="372.2" r="2.35"/><circle cx="461.2" cy="389.0" r="2.35"/><circle cx="456.4" cy="364.9" r="2.35"/><circle cx="457.5" cy="367.6" r="2.35"/><circle cx="456.4" cy="370.0" r="2.35"/><circle cx="461.5" cy="418.3" r="2.35"/><circle cx="467.6" cy="382.4" r="2.35"/><circle cx="467.6" cy="391.5" r="2.35"/><circle cx="471.5" cy="395.5" r="2.35"/><circle cx="475.1" cy="367.9" r="2.35"/><circle cx="468.9" cy="384.5" r="2.35"/><circle cx="457.3" cy="386.3" r="2.35"/><circle cx="468.0" cy="405.3" r="2.35"/><circle cx="454.9" cy="379.8" r="2.35"/><circle cx="473.6" cy="398.0" r="2.35"/><circle cx="464.8" cy="396.1" r="2.35"/><circle cx="466.5" cy="354.9" r="2.35"/><circle cx="471.3" cy="381.2" r="2.35"/><circle cx="471.8" cy="363.8" r="2.35"/><circle cx="462.3" cy="376.3" r="2.35"/><circle cx="458.5" cy="354.8" r="2.35"/><circle cx="461.5" cy="413.4" r="2.35"/><circle cx="460.4" cy="383.6" r="2.35"/><circle cx="474.4" cy="385.7" r="2.35"/><circle cx="471.1" cy="384.8" r="2.35"/><circle cx="463.0" cy="377.1" r="2.35"/><circle cx="475.0" cy="398.2" r="2.35"/><circle cx="464.0" cy="374.0" r="2.35"/><circle cx="461.4" cy="386.4" r="2.35"/><circle cx="461.3" cy="379.8" r="2.35"/><circle cx="474.0" cy="362.4" r="2.35"/><circle cx="466.5" cy="394.1" r="2.35"/><circle cx="477.2" cy="387.4" r="2.35"/><circle cx="465.9" cy="383.9" r="2.35"/><circle cx="467.4" cy="420.6" r="2.35"/><circle cx="453.9" cy="387.1" r="2.35"/><circle cx="476.8" cy="370.5" r="2.35"/><circle cx="459.0" cy="363.4" r="2.35"/><circle cx="467.5" cy="363.7" r="2.35"/><circle cx="467.5" cy="385.6" r="2.35"/><circle cx="471.7" cy="365.8" r="2.35"/><circle cx="471.5" cy="405.1" r="2.35"/><circle cx="460.7" cy="391.8" r="2.35"/><circle cx="461.8" cy="399.2" r="2.35"/><circle cx="471.9" cy="385.1" r="2.35"/><circle cx="465.9" cy="412.0" r="2.35"/><circle cx="460.7" cy="414.8" r="2.35"/><circle cx="475.3" cy="365.0" r="2.35"/><circle cx="470.2" cy="406.8" r="2.35"/><circle cx="472.6" cy="369.4" r="2.35"/><circle cx="460.9" cy="361.1" r="2.35"/><circle cx="465.3" cy="380.3" r="2.35"/><circle cx="473.2" cy="396.9" r="2.35"/><circle cx="477.9" cy="371.9" r="2.35"/><circle cx="459.9" cy="407.4" r="2.35"/><circle cx="471.1" cy="405.7" r="2.35"/><circle cx="472.4" cy="377.9" r="2.35"/><circle cx="477.3" cy="387.8" r="2.35"/><circle cx="459.9" cy="411.9" r="2.35"/><circle cx="455.9" cy="391.3" r="2.35"/><circle cx="464.9" cy="405.3" r="2.35"/><circle cx="458.7" cy="385.3" r="2.35"/><circle cx="465.8" cy="419.5" r="2.35"/><circle cx="465.5" cy="386.7" r="2.35"/><circle cx="477.6" cy="382.5" r="2.35"/><circle cx="464.0" cy="380.3" r="2.35"/><circle cx="457.5" cy="368.2" r="2.35"/><circle cx="461.4" cy="352.2" r="2.35"/><circle cx="464.4" cy="406.8" r="2.35"/><circle cx="461.3" cy="413.7" r="2.35"/><circle cx="480.0" cy="371.4" r="2.35"/><circle cx="476.3" cy="369.8" r="2.35"/><circle cx="459.2" cy="390.7" r="2.35"/><circle cx="463.5" cy="403.8" r="2.35"/><circle cx="470.8" cy="391.6" r="2.35"/><circle cx="475.5" cy="358.1" r="2.35"/><circle cx="458.8" cy="360.6" r="2.35"/><circle cx="478.0" cy="377.1" r="2.35"/><circle cx="460.2" cy="367.0" r="2.35"/><circle cx="466.5" cy="390.2" r="2.35"/><circle cx="459.8" cy="390.2" r="2.35"/><circle cx="468.1" cy="397.7" r="2.35"/><circle cx="458.0" cy="354.4" r="2.35"/><circle cx="458.0" cy="360.7" r="2.35"/><circle cx="457.4" cy="390.9" r="2.35"/><circle cx="464.6" cy="376.5" r="2.35"/><circle cx="469.2" cy="377.8" r="2.35"/><circle cx="467.1" cy="373.6" r="2.35"/><circle cx="454.7" cy="383.8" r="2.35"/><circle cx="471.1" cy="385.7" r="2.35"/><circle cx="459.7" cy="384.5" r="2.35"/><circle cx="454.2" cy="383.0" r="2.35"/><circle cx="467.7" cy="418.7" r="2.35"/><circle cx="467.6" cy="398.0" r="2.35"/><circle cx="480.4" cy="322.5" r="2.35"/><circle cx="463.0" cy="331.1" r="2.35"/><circle cx="463.8" cy="333.1" r="2.35"/><circle cx="460.1" cy="337.4" r="2.35"/><circle cx="462.6" cy="339.1" r="2.35"/><circle cx="469.1" cy="339.9" r="2.35"/><circle cx="463.2" cy="344.1" r="2.35"/><circle cx="470.6" cy="349.1" r="2.35"/><circle cx="478.5" cy="352.3" r="2.35"/><circle cx="485.8" cy="347.4" r="2.35"/><circle cx="492.0" cy="349.8" r="2.35"/><circle cx="487.0" cy="356.1" r="2.35"/><circle cx="490.7" cy="354.8" r="2.35"/><circle cx="493.2" cy="353.6" r="2.35"/><circle cx="457.6" cy="352.3" r="2.35"/><circle cx="478.5" cy="364.8" r="2.35"/><circle cx="492.0" cy="366.0" r="2.35"/><circle cx="489.5" cy="369.7" r="2.35"/><circle cx="487.0" cy="376.0" r="2.35"/><circle cx="492.0" cy="374.7" r="2.35"/><circle cx="484.6" cy="376.0" r="2.35"/><circle cx="450.2" cy="379.7" r="2.35"/><circle cx="484.6" cy="387.2" r="2.35"/><circle cx="489.5" cy="384.7" r="2.35"/><circle cx="494.4" cy="389.7" r="2.35"/><circle cx="478.5" cy="394.7" r="2.35"/><circle cx="451.5" cy="395.9" r="2.35"/><circle cx="452.7" cy="407.1" r="2.35"/><circle cx="469.9" cy="409.6" r="2.35"/><circle cx="463.8" cy="417.1" r="2.35"/><circle cx="469.9" cy="419.5" r="2.35"/><circle cx="462.6" cy="423.3" r="2.35"/><circle cx="461.3" cy="428.3" r="2.35"/><circle cx="463.8" cy="425.3" r="2.35"/><circle cx="504.6" cy="296.9" r="2.35"/><circle cx="497.5" cy="305.1" r="2.35"/><circle cx="522.4" cy="343.1" r="2.35"/><circle cx="490.3" cy="354.9" r="2.35"/><circle cx="493.1" cy="354.4" r="2.35"/><circle cx="490.3" cy="355.7" r="2.35"/><circle cx="492.3" cy="365.8" r="2.35"/><circle cx="489.5" cy="369.4" r="2.35"/><circle cx="502.4" cy="367.2" r="2.35"/><circle cx="509.5" cy="369.4" r="2.35"/><circle cx="530.2" cy="363.3" r="2.35"/><circle cx="487.4" cy="375.9" r="2.35"/><circle cx="491.7" cy="375.9" r="2.35"/><circle cx="501.0" cy="377.3" r="2.35"/><circle cx="502.4" cy="378.8" r="2.35"/><circle cx="506.7" cy="376.4" r="2.35"/><circle cx="509.5" cy="375.5" r="2.35"/><circle cx="513.8" cy="377.3" r="2.35"/><circle cx="516.6" cy="376.4" r="2.35"/><circle cx="531.2" cy="375.6" r="2.35"/><circle cx="489.8" cy="383.6" r="2.35"/><circle cx="539.8" cy="383.2" r="2.35"/><circle cx="495.7" cy="389.7" r="2.35"/><circle cx="505.3" cy="390.4" r="2.35"/><circle cx="509.9" cy="393.8" r="2.35"/><circle cx="411.7" cy="339.0" r="2.35"/><circle cx="414.6" cy="382.2" r="2.35"/><circle cx="420.6" cy="385.1" r="2.35"/><circle cx="411.0" cy="387.7" r="2.35"/><circle cx="451.7" cy="395.2" r="2.35"/><circle cx="453.0" cy="406.9" r="2.35"/><circle cx="462.8" cy="343.7" r="2.35"/><circle cx="468.8" cy="340.8" r="2.35"/><circle cx="471.3" cy="349.1" r="2.35"/><circle cx="478.2" cy="351.6" r="2.35"/><circle cx="485.6" cy="347.5" r="2.35"/><circle cx="486.5" cy="356.3" r="2.35"/><circle cx="489.7" cy="354.5" r="2.35"/><circle cx="479.4" cy="364.9" r="2.35"/><circle cx="489.7" cy="368.7" r="2.35"/><circle cx="466.7" cy="353.0" r="2.35"/><circle cx="469.6" cy="354.9" r="2.35"/><circle cx="472.0" cy="357.3" r="2.35"/><circle cx="474.3" cy="359.7" r="2.35"/><circle cx="464.8" cy="351.5" r="2.35"/><circle cx="468.6" cy="356.8" r="2.35"/><circle cx="472.4" cy="360.7" r="2.35"/></g>
<line x1="99.91" y1="146.50" x2="275.36" y2="47.45" stroke="#9E3450" stroke-width="1.4" stroke-dasharray="1.4 1.3"/>
<line x1="452.67" y1="146.52" x2="618.29" y2="50.70" stroke="#9E3450" stroke-width="1.4" stroke-dasharray="1.4 1.3"/>
<line x1="59.78" y1="391.10" x2="196.93" y2="361.56" stroke="#9E3450" stroke-width="1.4" stroke-dasharray="1.4 1.3"/>
<text class="L" x="4.0" y="25.4">A</text>
<text class="L" x="350.4" y="25.5">B</text>
<text class="L" x="4.0" y="245.6">C</text>
<text class="L" x="350.5" y="245.8">D</text>
<text class="s" style="font-size:14px" transform="translate(23.4,151.6) rotate(-90)" x="0" y="0" textLength="94" lengthAdjust="spacing">MTR asym [%]</text>
<text class="s" style="font-size:14px" transform="translate(368.9,151.4) rotate(-90)" x="0" y="0" textLength="94" lengthAdjust="spacing">MTR asym [%]</text>
<text class="s" style="font-size:14px" transform="translate(20.2,386.7) rotate(-90)" x="0" y="0" textLength="94" lengthAdjust="spacing">MTR asym [%]</text>
<text class="s" style="font-size:14px" transform="translate(368.8,387.0) rotate(-90)" x="0" y="0" textLength="94" lengthAdjust="spacing">MTR asym [%]</text>
<text class="s xs" y="217.6" x="90.0" textLength="27.8" lengthAdjust="spacingAndGlyphs">ADC</text>
<text class="s xs" y="217.6"><tspan x="121.7">Valu</tspan><tspan x="151.3">e</tspan></text>
<text class="s xs" y="217.6" x="161.6" textLength="14.8" lengthAdjust="spacingAndGlyphs">[10</text>
<text class="s" style="font-size:8.5px" y="213.2" x="177.3" textLength="8.9" lengthAdjust="spacingAndGlyphs">-3</text>
<text class="s" style="font-size:8.5px" y="212.7" x="231.3">2</text>
<path d="M194.6,208.6L201.4,215.4M194.6,215.4L201.4,208.6" stroke="#6e6e6e" stroke-width="1.05" fill="none"/>
<text class="s xs" y="217.6"><tspan x="208.6">m</tspan><tspan x="220.5">m</tspan><tspan x="240.4">/sec]</tspan></text>
<text class="s xs" y="217.5" x="436.1" textLength="27.8" lengthAdjust="spacingAndGlyphs">ADC</text>
<text class="s xs" y="217.5"><tspan x="467.8">Valu</tspan><tspan x="497.4">e</tspan></text>
<text class="s xs" y="217.5" x="507.7" textLength="14.8" lengthAdjust="spacingAndGlyphs">[10</text>
<text class="s" style="font-size:8.5px" y="213.1" x="523.4" textLength="8.9" lengthAdjust="spacingAndGlyphs">-3</text>
<text class="s" style="font-size:8.5px" y="212.6" x="577.4">2</text>
<path d="M540.7,208.5L547.5,215.3M540.7,215.3L547.5,208.5" stroke="#6e6e6e" stroke-width="1.05" fill="none"/>
<text class="s xs" y="217.5"><tspan x="554.7">m</tspan><tspan x="566.6">m</tspan><tspan x="586.5">/sec]</tspan></text>
<text class="s xs" y="457.5" x="91.7" textLength="27.8" lengthAdjust="spacingAndGlyphs">ADC</text>
<text class="s xs" y="457.5"><tspan x="123.4">Valu</tspan><tspan x="153.0">e</tspan></text>
<text class="s xs" y="457.5" x="163.3" textLength="14.8" lengthAdjust="spacingAndGlyphs">[10</text>
<text class="s" style="font-size:8.5px" y="453.1" x="179.0" textLength="8.9" lengthAdjust="spacingAndGlyphs">-3</text>
<text class="s" style="font-size:8.5px" y="452.6" x="233.0">2</text>
<path d="M196.3,448.5L203.1,455.3M196.3,455.3L203.1,448.5" stroke="#6e6e6e" stroke-width="1.05" fill="none"/>
<text class="s xs" y="457.5"><tspan x="210.3">m</tspan><tspan x="222.2">m</tspan><tspan x="242.1">/sec]</tspan></text>
<text class="s xs" y="457.0" x="437.3" textLength="27.8" lengthAdjust="spacingAndGlyphs">ADC</text>
<text class="s xs" y="457.0"><tspan x="469.0">Valu</tspan><tspan x="498.6">e</tspan></text>
<text class="s xs" y="457.0" x="508.9" textLength="14.8" lengthAdjust="spacingAndGlyphs">[10</text>
<text class="s" style="font-size:8.5px" y="452.6" x="524.6" textLength="8.9" lengthAdjust="spacingAndGlyphs">-3</text>
<text class="s" style="font-size:8.5px" y="452.1" x="578.6">2</text>
<path d="M541.9,448.0L548.7,454.8M541.9,454.8L548.7,448.0" stroke="#6e6e6e" stroke-width="1.05" fill="none"/>
<text class="s xs" y="457.0"><tspan x="555.9">m</tspan><tspan x="567.8">m</tspan><tspan x="587.7">/sec]</tspan></text>
<text class="s" style="font-size:14px" x="224.6" y="24.8" textLength="98.6" lengthAdjust="spacing">y = 4.52x + 1.01</text>
<text class="s" style="font-size:14px" x="572.7" y="20.6" textLength="106.8" lengthAdjust="spacing">y = 4.64x + 0.458</text>
<text class="s" style="font-size:14px" x="171.7" y="316.9" textLength="99.3" lengthAdjust="spacing">y = 1.69x + 1.86</text>
</svg></body></html>
